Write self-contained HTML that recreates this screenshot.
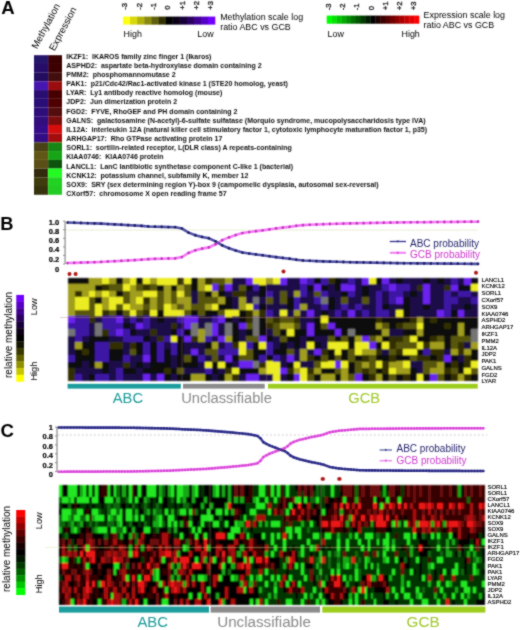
<!DOCTYPE html>
<html><head><meta charset="utf-8"><style>
html,body{margin:0;padding:0;background:#fff;}
svg{display:block;font-family:"Liberation Sans", sans-serif;}
</style></head><body>
<svg width="520" height="630" viewBox="0 0 520 630">
<defs><filter id="hb" x="-2%" y="-2%" width="104%" height="104%"><feConvolveMatrix order="3" kernelMatrix="1 2 1 2 6 2 1 2 1" divisor="18" edgeMode="none"/></filter><filter id="gb" x="0" y="0" width="100%" height="100%" filterUnits="userSpaceOnUse"><feConvolveMatrix order="3" kernelMatrix="1 2 1 2 12 2 1 2 1" divisor="24" edgeMode="none"/></filter></defs>
<rect width="520" height="630" fill="#fff"/>
<g filter="url(#gb)">
<text x="1.2" y="14.2" font-size="18.6" font-weight="bold" fill="#000">A</text>
<text x="0.2" y="230.4" font-size="18.2" font-weight="bold" fill="#000">B</text>
<text x="0.4" y="436.8" font-size="18.6" font-weight="bold" fill="#000">C</text>
<text x="37.0" y="49.6" font-size="9.7" fill="#000" transform="rotate(-62 37.0 49.6)">Methylation</text>
<text x="54.4" y="51.6" font-size="9.7" fill="#000" transform="rotate(-62 54.4 51.6)">Expression</text>
<rect x="34.00" y="55.20" width="14.10" height="8.77" fill="#28126a"/>
<rect x="48.10" y="55.20" width="13.90" height="8.77" fill="#3a0606"/>
<rect x="34.00" y="63.92" width="14.10" height="8.77" fill="#26106a"/>
<rect x="48.10" y="63.92" width="13.90" height="8.77" fill="#3e0606"/>
<rect x="34.00" y="72.64" width="14.10" height="8.77" fill="#22105e"/>
<rect x="48.10" y="72.64" width="13.90" height="8.77" fill="#420808"/>
<rect x="34.00" y="81.36" width="14.10" height="8.77" fill="#4614b0"/>
<rect x="48.10" y="81.36" width="13.90" height="8.77" fill="#9a0c0c"/>
<rect x="34.00" y="90.08" width="14.10" height="8.77" fill="#2a1072"/>
<rect x="48.10" y="90.08" width="13.90" height="8.77" fill="#460606"/>
<rect x="34.00" y="98.80" width="14.10" height="8.77" fill="#2c1076"/>
<rect x="48.10" y="98.80" width="13.90" height="8.77" fill="#500606"/>
<rect x="34.00" y="107.52" width="14.10" height="8.77" fill="#2e107a"/>
<rect x="48.10" y="107.52" width="13.90" height="8.77" fill="#520808"/>
<rect x="34.00" y="116.24" width="14.10" height="8.77" fill="#30107e"/>
<rect x="48.10" y="116.24" width="13.90" height="8.77" fill="#7c0a0a"/>
<rect x="34.00" y="124.96" width="14.10" height="8.77" fill="#34108a"/>
<rect x="48.10" y="124.96" width="13.90" height="8.77" fill="#d41010"/>
<rect x="34.00" y="133.68" width="14.10" height="8.77" fill="#320f84"/>
<rect x="48.10" y="133.68" width="13.90" height="8.77" fill="#a41010"/>
<rect x="34.00" y="142.40" width="14.10" height="8.77" fill="#4a4212"/>
<rect x="48.10" y="142.40" width="13.90" height="8.77" fill="#138513"/>
<rect x="34.00" y="151.12" width="14.10" height="8.77" fill="#605612"/>
<rect x="48.10" y="151.12" width="13.90" height="8.77" fill="#12a512"/>
<rect x="34.00" y="159.84" width="14.10" height="8.77" fill="#5a5012"/>
<rect x="48.10" y="159.84" width="13.90" height="8.77" fill="#0c520c"/>
<rect x="34.00" y="168.56" width="14.10" height="8.77" fill="#302a0a"/>
<rect x="48.10" y="168.56" width="13.90" height="8.77" fill="#22fa22"/>
<rect x="34.00" y="177.28" width="14.10" height="8.77" fill="#403a10"/>
<rect x="48.10" y="177.28" width="13.90" height="8.77" fill="#22d222"/>
<rect x="34.00" y="186.00" width="14.10" height="8.77" fill="#36300c"/>
<rect x="48.10" y="186.00" width="13.90" height="8.77" fill="#22cc22"/>
<text x="66.3" y="58.6" font-size="7.0" font-weight="bold" fill="#111">IKZF1:&#160;&#160;IKAROS family zinc finger 1 (Ikaros)</text>
<text x="66.3" y="67.76" font-size="7.0" font-weight="bold" fill="#111">ASPHD2:&#160;&#160;aspartate beta-hydroxylase domain containing 2</text>
<text x="66.3" y="76.92" font-size="7.0" font-weight="bold" fill="#111">PMM2:&#160;&#160;phosphomannomutase 2</text>
<text x="66.3" y="86.08" font-size="7.0" font-weight="bold" fill="#111">PAK1:&#160;&#160;p21/Cdc42/Rac1-activated kinase 1 (STE20 homolog, yeast)</text>
<text x="66.3" y="95.24" font-size="7.0" font-weight="bold" fill="#111">LYAR:&#160;&#160;Ly1 antibody reactive homolog (mouse)</text>
<text x="66.3" y="104.4" font-size="7.0" font-weight="bold" fill="#111">JDP2:&#160;&#160;Jun dimerization protein 2</text>
<text x="66.3" y="113.56" font-size="7.0" font-weight="bold" fill="#111">FGD2:&#160;&#160;FYVE, RhoGEF and PH domain containing 2</text>
<text x="66.3" y="122.72" font-size="7.0" font-weight="bold" fill="#111">GALNS:&#160;&#160;galactosamine (N-acetyl)-6-sulfate sulfatase (Morquio syndrome, mucopolysaccharidosis type IVA)</text>
<text x="66.3" y="131.88" font-size="7.0" font-weight="bold" fill="#111">IL12A:&#160;&#160;interleukin 12A (natural killer cell stimulatory factor 1, cytotoxic lymphocyte maturation factor 1, p35)</text>
<text x="66.3" y="141.04" font-size="7.0" font-weight="bold" fill="#111">ARHGAP17:&#160;&#160;Rho GTPase activating protein 17</text>
<text x="66.3" y="150.2" font-size="7.0" font-weight="bold" fill="#111">SORL1:&#160;&#160;sortilin-related receptor, L(DLR class) A repeats-containing</text>
<text x="66.3" y="159.36" font-size="7.0" font-weight="bold" fill="#111">KIAA0746:&#160;&#160;KIAA0746 protein</text>
<text x="66.3" y="168.52" font-size="7.0" font-weight="bold" fill="#111">LANCL1:&#160;&#160;LanC lantibiotic synthetase component C-like 1 (bacterial)</text>
<text x="66.3" y="177.68" font-size="7.0" font-weight="bold" fill="#111">KCNK12:&#160;&#160;potassium channel, subfamily K, member 12</text>
<text x="66.3" y="186.84" font-size="7.0" font-weight="bold" fill="#111">SOX9:&#160;&#160;SRY (sex determining region Y)-box 9 (campomelic dysplasia, autosomal sex-reversal)</text>
<text x="66.3" y="196.0" font-size="7.0" font-weight="bold" fill="#111">CXorf57:&#160;&#160;chromosome X open reading frame 57</text>
<rect x="123.00" y="16.60" width="7.38" height="8.00" fill="#ffff14"/>
<rect x="130.08" y="16.60" width="7.38" height="8.00" fill="#d8d811"/>
<rect x="137.15" y="16.60" width="7.38" height="8.00" fill="#b1b10e"/>
<rect x="144.23" y="16.60" width="7.38" height="8.00" fill="#89890b"/>
<rect x="151.31" y="16.60" width="7.38" height="8.00" fill="#5f5f07"/>
<rect x="158.38" y="16.60" width="7.38" height="8.00" fill="#333304"/>
<rect x="165.46" y="16.60" width="7.38" height="8.00" fill="#000000"/>
<rect x="172.54" y="16.60" width="7.38" height="8.00" fill="#090015"/>
<rect x="179.62" y="16.60" width="7.38" height="8.00" fill="#180037"/>
<rect x="186.69" y="16.60" width="7.38" height="8.00" fill="#2a0061"/>
<rect x="193.77" y="16.60" width="7.38" height="8.00" fill="#3f0091"/>
<rect x="200.85" y="16.60" width="7.38" height="8.00" fill="#5700c6"/>
<rect x="207.92" y="16.60" width="7.38" height="8.00" fill="#7000ff"/>
<rect x="326.70" y="15.60" width="5.16" height="8.10" fill="#00ff00"/>
<rect x="331.56" y="15.60" width="5.16" height="8.10" fill="#00e300"/>
<rect x="336.42" y="15.60" width="5.16" height="8.10" fill="#00c600"/>
<rect x="341.27" y="15.60" width="5.16" height="8.10" fill="#00aa00"/>
<rect x="346.13" y="15.60" width="5.16" height="8.10" fill="#008e00"/>
<rect x="350.99" y="15.60" width="5.16" height="8.10" fill="#007100"/>
<rect x="355.85" y="15.60" width="5.16" height="8.10" fill="#005500"/>
<rect x="360.71" y="15.60" width="5.16" height="8.10" fill="#003900"/>
<rect x="365.56" y="15.60" width="5.16" height="8.10" fill="#001c00"/>
<rect x="370.42" y="15.60" width="5.16" height="8.10" fill="#000000"/>
<rect x="375.28" y="15.60" width="5.16" height="8.10" fill="#1c0000"/>
<rect x="380.14" y="15.60" width="5.16" height="8.10" fill="#390000"/>
<rect x="384.99" y="15.60" width="5.16" height="8.10" fill="#550000"/>
<rect x="389.85" y="15.60" width="5.16" height="8.10" fill="#710000"/>
<rect x="394.71" y="15.60" width="5.16" height="8.10" fill="#8e0000"/>
<rect x="399.57" y="15.60" width="5.16" height="8.10" fill="#aa0000"/>
<rect x="404.43" y="15.60" width="5.16" height="8.10" fill="#c60000"/>
<rect x="409.28" y="15.60" width="5.16" height="8.10" fill="#e30000"/>
<rect x="414.14" y="15.60" width="5.16" height="8.10" fill="#ff0000"/>
<text x="127.5" y="9.8" font-size="7.7" fill="#111" transform="rotate(-90 127.5 9.8)" stroke="#111" stroke-width="0.3">-3</text>
<text x="330.8" y="10.2" font-size="7.7" fill="#111" transform="rotate(-90 330.8 10.2)" stroke="#111" stroke-width="0.3">-3</text>
<text x="141.8" y="9.8" font-size="7.7" fill="#111" transform="rotate(-90 141.8 9.8)" stroke="#111" stroke-width="0.3">-2</text>
<text x="345.05" y="10.2" font-size="7.7" fill="#111" transform="rotate(-90 345.05 10.2)" stroke="#111" stroke-width="0.3">-2</text>
<text x="156.1" y="9.8" font-size="7.7" fill="#111" transform="rotate(-90 156.1 9.8)" stroke="#111" stroke-width="0.3">-1</text>
<text x="359.3" y="10.2" font-size="7.7" fill="#111" transform="rotate(-90 359.3 10.2)" stroke="#111" stroke-width="0.3">-1</text>
<text x="170.4" y="9.8" font-size="7.7" fill="#111" transform="rotate(-90 170.4 9.8)" stroke="#111" stroke-width="0.3">0</text>
<text x="373.55" y="10.2" font-size="7.7" fill="#111" transform="rotate(-90 373.55 10.2)" stroke="#111" stroke-width="0.3">0</text>
<text x="184.7" y="9.8" font-size="7.7" fill="#111" transform="rotate(-90 184.7 9.8)" stroke="#111" stroke-width="0.3">+1</text>
<text x="387.8" y="10.2" font-size="7.7" fill="#111" transform="rotate(-90 387.8 10.2)" stroke="#111" stroke-width="0.3">+1</text>
<text x="199.0" y="9.8" font-size="7.7" fill="#111" transform="rotate(-90 199.0 9.8)" stroke="#111" stroke-width="0.3">+2</text>
<text x="402.05" y="10.2" font-size="7.7" fill="#111" transform="rotate(-90 402.05 10.2)" stroke="#111" stroke-width="0.3">+2</text>
<text x="213.3" y="9.8" font-size="7.7" fill="#111" transform="rotate(-90 213.3 9.8)" stroke="#111" stroke-width="0.3">+3</text>
<text x="416.3" y="10.2" font-size="7.7" fill="#111" transform="rotate(-90 416.3 10.2)" stroke="#111" stroke-width="0.3">+3</text>
<text x="123.6" y="37.2" font-size="8.9" fill="#000">High</text>
<text x="213.6" y="37.2" font-size="8.9" text-anchor="end" fill="#000">Low</text>
<text x="220.2" y="20.2" font-size="8.9" fill="#000">Methylation scale log</text>
<text x="220.2" y="30.4" font-size="8.9" fill="#000">ratio ABC vs GCB</text>
<text x="327.6" y="37.2" font-size="8.9" fill="#000">Low</text>
<text x="419.8" y="37.2" font-size="8.9" text-anchor="end" fill="#000">High</text>
<text x="423.6" y="17.7" font-size="8.9" fill="#000">Expression scale log</text>
<text x="423.6" y="27.6" font-size="8.9" fill="#000">ratio ABC vs GCB</text>
<line x1="65.1" y1="221.2" x2="65.1" y2="264.0" stroke="#9a9a9a" stroke-width="1.4"/>
<line x1="63.099999999999994" y1="264.00" x2="65.1" y2="264.00" stroke="#8a8a8a" stroke-width="1"/>
<line x1="63.099999999999994" y1="255.44" x2="65.1" y2="255.44" stroke="#8a8a8a" stroke-width="1"/>
<line x1="63.099999999999994" y1="246.88" x2="65.1" y2="246.88" stroke="#8a8a8a" stroke-width="1"/>
<line x1="63.099999999999994" y1="238.32" x2="65.1" y2="238.32" stroke="#8a8a8a" stroke-width="1"/>
<line x1="63.099999999999994" y1="229.76" x2="65.1" y2="229.76" stroke="#8a8a8a" stroke-width="1"/>
<line x1="63.099999999999994" y1="221.20" x2="65.1" y2="221.20" stroke="#8a8a8a" stroke-width="1"/>
<line x1="66.1" y1="230.0" x2="478" y2="230.0" stroke="#d6dcb8" stroke-width="0.9" stroke-dasharray="1.2,0.8"/>
<polyline points="67.50,263.05 74.23,262.83 80.96,262.62 87.69,262.40 94.42,262.18 101.15,261.94 107.88,261.57 114.61,261.20 121.34,260.83 128.07,260.46 134.80,260.09 141.52,259.68 148.25,259.14 154.98,258.87 161.71,258.69 168.44,258.51 175.17,258.33 181.90,257.04 188.63,252.94 195.36,250.33 202.09,248.64 208.82,247.39 215.55,244.27 222.28,240.17 229.01,237.41 235.74,235.07 242.47,233.05 249.20,232.03 255.93,231.14 262.66,230.34 269.39,229.40 276.11,228.47 282.84,227.66 289.57,226.85 296.30,225.85 303.03,225.15 309.76,224.81 316.49,224.48 323.22,224.20 329.95,224.00 336.68,223.80 343.41,223.60 350.14,223.40 356.87,223.26 363.60,223.13 370.33,222.99 377.06,222.86 383.79,222.72 390.52,222.59 397.25,222.46 403.98,222.36 410.70,222.30 417.43,222.24 424.16,222.18 430.89,222.12 437.62,222.06 444.35,222.00 451.08,221.94 457.81,221.88 464.54,221.82 471.27,221.76 478.00,221.70" fill="none" stroke="#f27af2" stroke-width="2.6"/>
<polyline points="67.50,222.55 74.23,222.77 80.96,222.98 87.69,223.20 94.42,223.42 101.15,223.66 107.88,224.03 114.61,224.40 121.34,224.77 128.07,225.14 134.80,225.51 141.52,225.92 148.25,226.46 154.98,226.73 161.71,226.91 168.44,227.09 175.17,227.27 181.90,228.56 188.63,232.66 195.36,235.27 202.09,236.96 208.82,238.21 215.55,241.33 222.28,245.43 229.01,248.19 235.74,250.53 242.47,252.55 249.20,253.57 255.93,254.46 262.66,255.26 269.39,256.20 276.11,257.13 282.84,257.94 289.57,258.75 296.30,259.75 303.03,260.45 309.76,260.79 316.49,261.12 323.22,261.40 329.95,261.60 336.68,261.80 343.41,262.00 350.14,262.20 356.87,262.34 363.60,262.47 370.33,262.61 377.06,262.74 383.79,262.88 390.52,263.01 397.25,263.14 403.98,263.24 410.70,263.30 417.43,263.36 424.16,263.42 430.89,263.48 437.62,263.54 444.35,263.60 451.08,263.66 457.81,263.72 464.54,263.78 471.27,263.84 478.00,263.90" fill="none" stroke="#5050ac" stroke-width="2.6"/>
<path d="M66.10,263.05a1.4,1.4 0 1,0 2.8,0a1.4,1.4 0 1,0 -2.8,0zM72.83,262.83a1.4,1.4 0 1,0 2.8,0a1.4,1.4 0 1,0 -2.8,0zM79.56,262.62a1.4,1.4 0 1,0 2.8,0a1.4,1.4 0 1,0 -2.8,0zM86.29,262.40a1.4,1.4 0 1,0 2.8,0a1.4,1.4 0 1,0 -2.8,0zM93.02,262.18a1.4,1.4 0 1,0 2.8,0a1.4,1.4 0 1,0 -2.8,0zM99.75,261.94a1.4,1.4 0 1,0 2.8,0a1.4,1.4 0 1,0 -2.8,0zM106.48,261.57a1.4,1.4 0 1,0 2.8,0a1.4,1.4 0 1,0 -2.8,0zM113.21,261.20a1.4,1.4 0 1,0 2.8,0a1.4,1.4 0 1,0 -2.8,0zM119.94,260.83a1.4,1.4 0 1,0 2.8,0a1.4,1.4 0 1,0 -2.8,0zM126.67,260.46a1.4,1.4 0 1,0 2.8,0a1.4,1.4 0 1,0 -2.8,0zM133.40,260.09a1.4,1.4 0 1,0 2.8,0a1.4,1.4 0 1,0 -2.8,0zM140.12,259.68a1.4,1.4 0 1,0 2.8,0a1.4,1.4 0 1,0 -2.8,0zM146.85,259.14a1.4,1.4 0 1,0 2.8,0a1.4,1.4 0 1,0 -2.8,0zM153.58,258.87a1.4,1.4 0 1,0 2.8,0a1.4,1.4 0 1,0 -2.8,0zM160.31,258.69a1.4,1.4 0 1,0 2.8,0a1.4,1.4 0 1,0 -2.8,0zM167.04,258.51a1.4,1.4 0 1,0 2.8,0a1.4,1.4 0 1,0 -2.8,0zM173.77,258.33a1.4,1.4 0 1,0 2.8,0a1.4,1.4 0 1,0 -2.8,0zM180.50,257.04a1.4,1.4 0 1,0 2.8,0a1.4,1.4 0 1,0 -2.8,0zM187.23,252.94a1.4,1.4 0 1,0 2.8,0a1.4,1.4 0 1,0 -2.8,0zM193.96,250.33a1.4,1.4 0 1,0 2.8,0a1.4,1.4 0 1,0 -2.8,0zM200.69,248.64a1.4,1.4 0 1,0 2.8,0a1.4,1.4 0 1,0 -2.8,0zM207.42,247.39a1.4,1.4 0 1,0 2.8,0a1.4,1.4 0 1,0 -2.8,0zM214.15,244.27a1.4,1.4 0 1,0 2.8,0a1.4,1.4 0 1,0 -2.8,0zM220.88,240.17a1.4,1.4 0 1,0 2.8,0a1.4,1.4 0 1,0 -2.8,0zM227.61,237.41a1.4,1.4 0 1,0 2.8,0a1.4,1.4 0 1,0 -2.8,0zM234.34,235.07a1.4,1.4 0 1,0 2.8,0a1.4,1.4 0 1,0 -2.8,0zM241.07,233.05a1.4,1.4 0 1,0 2.8,0a1.4,1.4 0 1,0 -2.8,0zM247.80,232.03a1.4,1.4 0 1,0 2.8,0a1.4,1.4 0 1,0 -2.8,0zM254.53,231.14a1.4,1.4 0 1,0 2.8,0a1.4,1.4 0 1,0 -2.8,0zM261.26,230.34a1.4,1.4 0 1,0 2.8,0a1.4,1.4 0 1,0 -2.8,0zM267.99,229.40a1.4,1.4 0 1,0 2.8,0a1.4,1.4 0 1,0 -2.8,0zM274.71,228.47a1.4,1.4 0 1,0 2.8,0a1.4,1.4 0 1,0 -2.8,0zM281.44,227.66a1.4,1.4 0 1,0 2.8,0a1.4,1.4 0 1,0 -2.8,0zM288.17,226.85a1.4,1.4 0 1,0 2.8,0a1.4,1.4 0 1,0 -2.8,0zM294.90,225.85a1.4,1.4 0 1,0 2.8,0a1.4,1.4 0 1,0 -2.8,0zM301.63,225.15a1.4,1.4 0 1,0 2.8,0a1.4,1.4 0 1,0 -2.8,0zM308.36,224.81a1.4,1.4 0 1,0 2.8,0a1.4,1.4 0 1,0 -2.8,0zM315.09,224.48a1.4,1.4 0 1,0 2.8,0a1.4,1.4 0 1,0 -2.8,0zM321.82,224.20a1.4,1.4 0 1,0 2.8,0a1.4,1.4 0 1,0 -2.8,0zM328.55,224.00a1.4,1.4 0 1,0 2.8,0a1.4,1.4 0 1,0 -2.8,0zM335.28,223.80a1.4,1.4 0 1,0 2.8,0a1.4,1.4 0 1,0 -2.8,0zM342.01,223.60a1.4,1.4 0 1,0 2.8,0a1.4,1.4 0 1,0 -2.8,0zM348.74,223.40a1.4,1.4 0 1,0 2.8,0a1.4,1.4 0 1,0 -2.8,0zM355.47,223.26a1.4,1.4 0 1,0 2.8,0a1.4,1.4 0 1,0 -2.8,0zM362.20,223.13a1.4,1.4 0 1,0 2.8,0a1.4,1.4 0 1,0 -2.8,0zM368.93,222.99a1.4,1.4 0 1,0 2.8,0a1.4,1.4 0 1,0 -2.8,0zM375.66,222.86a1.4,1.4 0 1,0 2.8,0a1.4,1.4 0 1,0 -2.8,0zM382.39,222.72a1.4,1.4 0 1,0 2.8,0a1.4,1.4 0 1,0 -2.8,0zM389.12,222.59a1.4,1.4 0 1,0 2.8,0a1.4,1.4 0 1,0 -2.8,0zM395.85,222.46a1.4,1.4 0 1,0 2.8,0a1.4,1.4 0 1,0 -2.8,0zM402.58,222.36a1.4,1.4 0 1,0 2.8,0a1.4,1.4 0 1,0 -2.8,0zM409.30,222.30a1.4,1.4 0 1,0 2.8,0a1.4,1.4 0 1,0 -2.8,0zM416.03,222.24a1.4,1.4 0 1,0 2.8,0a1.4,1.4 0 1,0 -2.8,0zM422.76,222.18a1.4,1.4 0 1,0 2.8,0a1.4,1.4 0 1,0 -2.8,0zM429.49,222.12a1.4,1.4 0 1,0 2.8,0a1.4,1.4 0 1,0 -2.8,0zM436.22,222.06a1.4,1.4 0 1,0 2.8,0a1.4,1.4 0 1,0 -2.8,0zM442.95,222.00a1.4,1.4 0 1,0 2.8,0a1.4,1.4 0 1,0 -2.8,0zM449.68,221.94a1.4,1.4 0 1,0 2.8,0a1.4,1.4 0 1,0 -2.8,0zM456.41,221.88a1.4,1.4 0 1,0 2.8,0a1.4,1.4 0 1,0 -2.8,0zM463.14,221.82a1.4,1.4 0 1,0 2.8,0a1.4,1.4 0 1,0 -2.8,0zM469.87,221.76a1.4,1.4 0 1,0 2.8,0a1.4,1.4 0 1,0 -2.8,0zM476.60,221.70a1.4,1.4 0 1,0 2.8,0a1.4,1.4 0 1,0 -2.8,0z" fill="#c828c8"/>
<path d="M66.10,222.55a1.4,1.4 0 1,0 2.8,0a1.4,1.4 0 1,0 -2.8,0zM72.83,222.77a1.4,1.4 0 1,0 2.8,0a1.4,1.4 0 1,0 -2.8,0zM79.56,222.98a1.4,1.4 0 1,0 2.8,0a1.4,1.4 0 1,0 -2.8,0zM86.29,223.20a1.4,1.4 0 1,0 2.8,0a1.4,1.4 0 1,0 -2.8,0zM93.02,223.42a1.4,1.4 0 1,0 2.8,0a1.4,1.4 0 1,0 -2.8,0zM99.75,223.66a1.4,1.4 0 1,0 2.8,0a1.4,1.4 0 1,0 -2.8,0zM106.48,224.03a1.4,1.4 0 1,0 2.8,0a1.4,1.4 0 1,0 -2.8,0zM113.21,224.40a1.4,1.4 0 1,0 2.8,0a1.4,1.4 0 1,0 -2.8,0zM119.94,224.77a1.4,1.4 0 1,0 2.8,0a1.4,1.4 0 1,0 -2.8,0zM126.67,225.14a1.4,1.4 0 1,0 2.8,0a1.4,1.4 0 1,0 -2.8,0zM133.40,225.51a1.4,1.4 0 1,0 2.8,0a1.4,1.4 0 1,0 -2.8,0zM140.12,225.92a1.4,1.4 0 1,0 2.8,0a1.4,1.4 0 1,0 -2.8,0zM146.85,226.46a1.4,1.4 0 1,0 2.8,0a1.4,1.4 0 1,0 -2.8,0zM153.58,226.73a1.4,1.4 0 1,0 2.8,0a1.4,1.4 0 1,0 -2.8,0zM160.31,226.91a1.4,1.4 0 1,0 2.8,0a1.4,1.4 0 1,0 -2.8,0zM167.04,227.09a1.4,1.4 0 1,0 2.8,0a1.4,1.4 0 1,0 -2.8,0zM173.77,227.27a1.4,1.4 0 1,0 2.8,0a1.4,1.4 0 1,0 -2.8,0zM180.50,228.56a1.4,1.4 0 1,0 2.8,0a1.4,1.4 0 1,0 -2.8,0zM187.23,232.66a1.4,1.4 0 1,0 2.8,0a1.4,1.4 0 1,0 -2.8,0zM193.96,235.27a1.4,1.4 0 1,0 2.8,0a1.4,1.4 0 1,0 -2.8,0zM200.69,236.96a1.4,1.4 0 1,0 2.8,0a1.4,1.4 0 1,0 -2.8,0zM207.42,238.21a1.4,1.4 0 1,0 2.8,0a1.4,1.4 0 1,0 -2.8,0zM214.15,241.33a1.4,1.4 0 1,0 2.8,0a1.4,1.4 0 1,0 -2.8,0zM220.88,245.43a1.4,1.4 0 1,0 2.8,0a1.4,1.4 0 1,0 -2.8,0zM227.61,248.19a1.4,1.4 0 1,0 2.8,0a1.4,1.4 0 1,0 -2.8,0zM234.34,250.53a1.4,1.4 0 1,0 2.8,0a1.4,1.4 0 1,0 -2.8,0zM241.07,252.55a1.4,1.4 0 1,0 2.8,0a1.4,1.4 0 1,0 -2.8,0zM247.80,253.57a1.4,1.4 0 1,0 2.8,0a1.4,1.4 0 1,0 -2.8,0zM254.53,254.46a1.4,1.4 0 1,0 2.8,0a1.4,1.4 0 1,0 -2.8,0zM261.26,255.26a1.4,1.4 0 1,0 2.8,0a1.4,1.4 0 1,0 -2.8,0zM267.99,256.20a1.4,1.4 0 1,0 2.8,0a1.4,1.4 0 1,0 -2.8,0zM274.71,257.13a1.4,1.4 0 1,0 2.8,0a1.4,1.4 0 1,0 -2.8,0zM281.44,257.94a1.4,1.4 0 1,0 2.8,0a1.4,1.4 0 1,0 -2.8,0zM288.17,258.75a1.4,1.4 0 1,0 2.8,0a1.4,1.4 0 1,0 -2.8,0zM294.90,259.75a1.4,1.4 0 1,0 2.8,0a1.4,1.4 0 1,0 -2.8,0zM301.63,260.45a1.4,1.4 0 1,0 2.8,0a1.4,1.4 0 1,0 -2.8,0zM308.36,260.79a1.4,1.4 0 1,0 2.8,0a1.4,1.4 0 1,0 -2.8,0zM315.09,261.12a1.4,1.4 0 1,0 2.8,0a1.4,1.4 0 1,0 -2.8,0zM321.82,261.40a1.4,1.4 0 1,0 2.8,0a1.4,1.4 0 1,0 -2.8,0zM328.55,261.60a1.4,1.4 0 1,0 2.8,0a1.4,1.4 0 1,0 -2.8,0zM335.28,261.80a1.4,1.4 0 1,0 2.8,0a1.4,1.4 0 1,0 -2.8,0zM342.01,262.00a1.4,1.4 0 1,0 2.8,0a1.4,1.4 0 1,0 -2.8,0zM348.74,262.20a1.4,1.4 0 1,0 2.8,0a1.4,1.4 0 1,0 -2.8,0zM355.47,262.34a1.4,1.4 0 1,0 2.8,0a1.4,1.4 0 1,0 -2.8,0zM362.20,262.47a1.4,1.4 0 1,0 2.8,0a1.4,1.4 0 1,0 -2.8,0zM368.93,262.61a1.4,1.4 0 1,0 2.8,0a1.4,1.4 0 1,0 -2.8,0zM375.66,262.74a1.4,1.4 0 1,0 2.8,0a1.4,1.4 0 1,0 -2.8,0zM382.39,262.88a1.4,1.4 0 1,0 2.8,0a1.4,1.4 0 1,0 -2.8,0zM389.12,263.01a1.4,1.4 0 1,0 2.8,0a1.4,1.4 0 1,0 -2.8,0zM395.85,263.14a1.4,1.4 0 1,0 2.8,0a1.4,1.4 0 1,0 -2.8,0zM402.58,263.24a1.4,1.4 0 1,0 2.8,0a1.4,1.4 0 1,0 -2.8,0zM409.30,263.30a1.4,1.4 0 1,0 2.8,0a1.4,1.4 0 1,0 -2.8,0zM416.03,263.36a1.4,1.4 0 1,0 2.8,0a1.4,1.4 0 1,0 -2.8,0zM422.76,263.42a1.4,1.4 0 1,0 2.8,0a1.4,1.4 0 1,0 -2.8,0zM429.49,263.48a1.4,1.4 0 1,0 2.8,0a1.4,1.4 0 1,0 -2.8,0zM436.22,263.54a1.4,1.4 0 1,0 2.8,0a1.4,1.4 0 1,0 -2.8,0zM442.95,263.60a1.4,1.4 0 1,0 2.8,0a1.4,1.4 0 1,0 -2.8,0zM449.68,263.66a1.4,1.4 0 1,0 2.8,0a1.4,1.4 0 1,0 -2.8,0zM456.41,263.72a1.4,1.4 0 1,0 2.8,0a1.4,1.4 0 1,0 -2.8,0zM463.14,263.78a1.4,1.4 0 1,0 2.8,0a1.4,1.4 0 1,0 -2.8,0zM469.87,263.84a1.4,1.4 0 1,0 2.8,0a1.4,1.4 0 1,0 -2.8,0zM476.60,263.90a1.4,1.4 0 1,0 2.8,0a1.4,1.4 0 1,0 -2.8,0z" fill="#1c1c58"/>
<text x="59.2" y="224.5" font-size="7.5" font-weight="bold" text-anchor="end" fill="#000" stroke="#000" stroke-width="0.2">1.0</text>
<text x="59.2" y="233.6" font-size="7.5" font-weight="bold" text-anchor="end" fill="#000" stroke="#000" stroke-width="0.2">0.8</text>
<text x="59.2" y="243.1" font-size="7.5" font-weight="bold" text-anchor="end" fill="#000" stroke="#000" stroke-width="0.2">0.6</text>
<text x="59.2" y="252.4" font-size="7.5" font-weight="bold" text-anchor="end" fill="#000" stroke="#000" stroke-width="0.2">0.4</text>
<text x="59.2" y="262.1" font-size="7.5" font-weight="bold" text-anchor="end" fill="#000" stroke="#000" stroke-width="0.2">0.2</text>
<text x="59.2" y="272.0" font-size="7.5" font-weight="bold" text-anchor="end" fill="#000" stroke="#000" stroke-width="0.2">0</text>
<line x1="389.8" y1="241.5" x2="406" y2="241.5" stroke="#2e2e8a" stroke-width="1.3"/>
<path d="M396.6,240.5h2.4l-1.2,2.2z" fill="#2e2e8a"/>
<line x1="389.8" y1="252.8" x2="406" y2="252.8" stroke="#e84ae8" stroke-width="2" opacity="0.7"/>
<path d="M396.7,251.7h2.2v2.2h-2.2z" fill="#e84ae8"/>
<text x="410.0" y="247.0" font-size="10" fill="#24246c">ABC probability</text>
<text x="410.0" y="258.2" font-size="10" fill="#cc36cc">GCB probability</text>
<circle cx="69.5" cy="274.1" r="2.0" fill="#b01818"/>
<circle cx="75.6" cy="274.1" r="2.0" fill="#b01818"/>
<circle cx="283.5" cy="271.6" r="2.0" fill="#b01818"/>
<circle cx="476.0" cy="272.7" r="2.0" fill="#b01818"/>
<line x1="57.0" y1="427.1" x2="57.0" y2="471.6" stroke="#9a9a9a" stroke-width="1.4"/>
<line x1="55.0" y1="471.60" x2="57.0" y2="471.60" stroke="#8a8a8a" stroke-width="1"/>
<line x1="55.0" y1="462.70" x2="57.0" y2="462.70" stroke="#8a8a8a" stroke-width="1"/>
<line x1="55.0" y1="453.80" x2="57.0" y2="453.80" stroke="#8a8a8a" stroke-width="1"/>
<line x1="55.0" y1="444.90" x2="57.0" y2="444.90" stroke="#8a8a8a" stroke-width="1"/>
<line x1="55.0" y1="436.00" x2="57.0" y2="436.00" stroke="#8a8a8a" stroke-width="1"/>
<line x1="55.0" y1="427.10" x2="57.0" y2="427.10" stroke="#8a8a8a" stroke-width="1"/>
<line x1="58.0" y1="435.0" x2="487" y2="435.0" stroke="#c8b8c8" stroke-width="0.9" stroke-dasharray="1.6,2.4"/>
<polyline points="58.50,471.70 61.51,471.69 64.53,471.68 67.54,471.67 70.56,471.66 73.57,471.65 76.59,471.65 79.60,471.64 82.61,471.63 85.63,471.62 88.64,471.61 91.66,471.61 94.67,471.60 97.68,471.59 100.70,471.58 103.71,471.57 106.73,471.56 109.74,471.56 112.76,471.55 115.77,471.54 118.78,471.53 121.80,471.52 124.81,471.51 127.83,471.51 130.84,471.48 133.85,471.42 136.87,471.36 139.88,471.29 142.90,471.23 145.91,471.17 148.93,471.10 151.94,471.04 154.95,470.97 157.97,470.91 160.98,470.85 164.00,470.78 167.01,470.72 170.02,470.60 173.04,470.45 176.05,470.31 179.07,470.16 182.08,470.01 185.10,469.87 188.11,469.72 191.12,469.57 194.14,469.43 197.15,469.28 200.17,469.13 203.18,468.99 206.20,468.84 209.21,468.62 212.22,468.37 215.24,468.12 218.25,467.87 221.27,467.62 224.28,467.37 227.29,467.12 230.31,466.87 233.32,466.57 236.34,466.27 239.35,465.96 242.37,465.66 245.38,465.36 248.39,465.06 251.41,464.52 254.42,463.92 257.44,463.31 260.45,460.90 263.46,456.95 266.48,455.30 269.49,453.80 272.51,452.60 275.52,451.39 278.54,450.22 281.55,449.20 284.56,448.18 287.58,446.27 290.59,443.53 293.61,441.94 296.62,440.86 299.63,439.85 302.65,439.15 305.66,438.45 308.68,437.74 311.69,437.06 314.71,436.46 317.72,435.86 320.73,435.25 323.75,434.39 326.76,433.33 329.78,432.28 332.79,431.75 335.80,431.27 338.82,430.79 341.83,430.44 344.85,430.19 347.86,429.93 350.88,429.68 353.89,429.42 356.90,429.16 359.92,428.91 362.93,428.88 365.95,428.85 368.96,428.83 371.98,428.80 374.99,428.78 378.00,428.75 381.02,428.72 384.03,428.70 387.05,428.67 390.06,428.65 393.07,428.62 396.09,428.60 399.10,428.57 402.12,428.55 405.13,428.52 408.15,428.50 411.16,428.47 414.17,428.45 417.19,428.42 420.20,428.40 423.22,428.39 426.23,428.38 429.24,428.37 432.26,428.36 435.27,428.35 438.29,428.34 441.30,428.33 444.32,428.32 447.33,428.31 450.34,428.31 453.36,428.30 456.37,428.29 459.39,428.28 462.40,428.27 465.41,428.26 468.43,428.25 471.44,428.24 474.46,428.23 477.47,428.22 480.49,428.21 483.50,428.20" fill="none" stroke="#ee66ee" stroke-width="2.6"/>
<polyline points="58.50,427.50 61.51,427.51 64.53,427.52 67.54,427.53 70.56,427.54 73.57,427.55 76.59,427.55 79.60,427.56 82.61,427.57 85.63,427.58 88.64,427.59 91.66,427.59 94.67,427.60 97.68,427.61 100.70,427.62 103.71,427.63 106.73,427.64 109.74,427.64 112.76,427.65 115.77,427.66 118.78,427.67 121.80,427.68 124.81,427.69 127.83,427.69 130.84,427.72 133.85,427.78 136.87,427.84 139.88,427.91 142.90,427.97 145.91,428.03 148.93,428.10 151.94,428.16 154.95,428.23 157.97,428.29 160.98,428.35 164.00,428.42 167.01,428.48 170.02,428.60 173.04,428.75 176.05,428.89 179.07,429.04 182.08,429.19 185.10,429.33 188.11,429.48 191.12,429.63 194.14,429.77 197.15,429.92 200.17,430.07 203.18,430.21 206.20,430.36 209.21,430.58 212.22,430.83 215.24,431.08 218.25,431.33 221.27,431.58 224.28,431.83 227.29,432.08 230.31,432.33 233.32,432.63 236.34,432.93 239.35,433.24 242.37,433.54 245.38,433.84 248.39,434.14 251.41,434.68 254.42,435.28 257.44,435.89 260.45,438.30 263.46,442.25 266.48,443.90 269.49,445.40 272.51,446.60 275.52,447.81 278.54,448.98 281.55,450.00 284.56,451.02 287.58,452.93 290.59,455.67 293.61,457.26 296.62,458.34 299.63,459.35 302.65,460.05 305.66,460.75 308.68,461.46 311.69,462.14 314.71,462.74 317.72,463.34 320.73,463.95 323.75,464.81 326.76,465.87 329.78,466.92 332.79,467.45 335.80,467.93 338.82,468.41 341.83,468.76 344.85,469.01 347.86,469.27 350.88,469.52 353.89,469.78 356.90,470.04 359.92,470.29 362.93,470.32 365.95,470.35 368.96,470.37 371.98,470.40 374.99,470.42 378.00,470.45 381.02,470.48 384.03,470.50 387.05,470.53 390.06,470.55 393.07,470.58 396.09,470.60 399.10,470.63 402.12,470.65 405.13,470.68 408.15,470.70 411.16,470.73 414.17,470.75 417.19,470.78 420.20,470.80 423.22,470.81 426.23,470.82 429.24,470.83 432.26,470.84 435.27,470.85 438.29,470.86 441.30,470.87 444.32,470.88 447.33,470.89 450.34,470.89 453.36,470.90 456.37,470.91 459.39,470.92 462.40,470.93 465.41,470.94 468.43,470.95 471.44,470.96 474.46,470.97 477.47,470.98 480.49,470.99 483.50,471.00" fill="none" stroke="#3c3ca2" stroke-width="2.6"/>
<path d="M57.30,471.70a1.2,1.2 0 1,0 2.4,0a1.2,1.2 0 1,0 -2.4,0zM60.31,471.69a1.2,1.2 0 1,0 2.4,0a1.2,1.2 0 1,0 -2.4,0zM63.33,471.68a1.2,1.2 0 1,0 2.4,0a1.2,1.2 0 1,0 -2.4,0zM66.34,471.67a1.2,1.2 0 1,0 2.4,0a1.2,1.2 0 1,0 -2.4,0zM69.36,471.66a1.2,1.2 0 1,0 2.4,0a1.2,1.2 0 1,0 -2.4,0zM72.37,471.65a1.2,1.2 0 1,0 2.4,0a1.2,1.2 0 1,0 -2.4,0zM75.39,471.65a1.2,1.2 0 1,0 2.4,0a1.2,1.2 0 1,0 -2.4,0zM78.40,471.64a1.2,1.2 0 1,0 2.4,0a1.2,1.2 0 1,0 -2.4,0zM81.41,471.63a1.2,1.2 0 1,0 2.4,0a1.2,1.2 0 1,0 -2.4,0zM84.43,471.62a1.2,1.2 0 1,0 2.4,0a1.2,1.2 0 1,0 -2.4,0zM87.44,471.61a1.2,1.2 0 1,0 2.4,0a1.2,1.2 0 1,0 -2.4,0zM90.46,471.61a1.2,1.2 0 1,0 2.4,0a1.2,1.2 0 1,0 -2.4,0zM93.47,471.60a1.2,1.2 0 1,0 2.4,0a1.2,1.2 0 1,0 -2.4,0zM96.48,471.59a1.2,1.2 0 1,0 2.4,0a1.2,1.2 0 1,0 -2.4,0zM99.50,471.58a1.2,1.2 0 1,0 2.4,0a1.2,1.2 0 1,0 -2.4,0zM102.51,471.57a1.2,1.2 0 1,0 2.4,0a1.2,1.2 0 1,0 -2.4,0zM105.53,471.56a1.2,1.2 0 1,0 2.4,0a1.2,1.2 0 1,0 -2.4,0zM108.54,471.56a1.2,1.2 0 1,0 2.4,0a1.2,1.2 0 1,0 -2.4,0zM111.56,471.55a1.2,1.2 0 1,0 2.4,0a1.2,1.2 0 1,0 -2.4,0zM114.57,471.54a1.2,1.2 0 1,0 2.4,0a1.2,1.2 0 1,0 -2.4,0zM117.58,471.53a1.2,1.2 0 1,0 2.4,0a1.2,1.2 0 1,0 -2.4,0zM120.60,471.52a1.2,1.2 0 1,0 2.4,0a1.2,1.2 0 1,0 -2.4,0zM123.61,471.51a1.2,1.2 0 1,0 2.4,0a1.2,1.2 0 1,0 -2.4,0zM126.63,471.51a1.2,1.2 0 1,0 2.4,0a1.2,1.2 0 1,0 -2.4,0zM129.64,471.48a1.2,1.2 0 1,0 2.4,0a1.2,1.2 0 1,0 -2.4,0zM132.65,471.42a1.2,1.2 0 1,0 2.4,0a1.2,1.2 0 1,0 -2.4,0zM135.67,471.36a1.2,1.2 0 1,0 2.4,0a1.2,1.2 0 1,0 -2.4,0zM138.68,471.29a1.2,1.2 0 1,0 2.4,0a1.2,1.2 0 1,0 -2.4,0zM141.70,471.23a1.2,1.2 0 1,0 2.4,0a1.2,1.2 0 1,0 -2.4,0zM144.71,471.17a1.2,1.2 0 1,0 2.4,0a1.2,1.2 0 1,0 -2.4,0zM147.73,471.10a1.2,1.2 0 1,0 2.4,0a1.2,1.2 0 1,0 -2.4,0zM150.74,471.04a1.2,1.2 0 1,0 2.4,0a1.2,1.2 0 1,0 -2.4,0zM153.75,470.97a1.2,1.2 0 1,0 2.4,0a1.2,1.2 0 1,0 -2.4,0zM156.77,470.91a1.2,1.2 0 1,0 2.4,0a1.2,1.2 0 1,0 -2.4,0zM159.78,470.85a1.2,1.2 0 1,0 2.4,0a1.2,1.2 0 1,0 -2.4,0zM162.80,470.78a1.2,1.2 0 1,0 2.4,0a1.2,1.2 0 1,0 -2.4,0zM165.81,470.72a1.2,1.2 0 1,0 2.4,0a1.2,1.2 0 1,0 -2.4,0zM168.82,470.60a1.2,1.2 0 1,0 2.4,0a1.2,1.2 0 1,0 -2.4,0zM171.84,470.45a1.2,1.2 0 1,0 2.4,0a1.2,1.2 0 1,0 -2.4,0zM174.85,470.31a1.2,1.2 0 1,0 2.4,0a1.2,1.2 0 1,0 -2.4,0zM177.87,470.16a1.2,1.2 0 1,0 2.4,0a1.2,1.2 0 1,0 -2.4,0zM180.88,470.01a1.2,1.2 0 1,0 2.4,0a1.2,1.2 0 1,0 -2.4,0zM183.90,469.87a1.2,1.2 0 1,0 2.4,0a1.2,1.2 0 1,0 -2.4,0zM186.91,469.72a1.2,1.2 0 1,0 2.4,0a1.2,1.2 0 1,0 -2.4,0zM189.92,469.57a1.2,1.2 0 1,0 2.4,0a1.2,1.2 0 1,0 -2.4,0zM192.94,469.43a1.2,1.2 0 1,0 2.4,0a1.2,1.2 0 1,0 -2.4,0zM195.95,469.28a1.2,1.2 0 1,0 2.4,0a1.2,1.2 0 1,0 -2.4,0zM198.97,469.13a1.2,1.2 0 1,0 2.4,0a1.2,1.2 0 1,0 -2.4,0zM201.98,468.99a1.2,1.2 0 1,0 2.4,0a1.2,1.2 0 1,0 -2.4,0zM205.00,468.84a1.2,1.2 0 1,0 2.4,0a1.2,1.2 0 1,0 -2.4,0zM208.01,468.62a1.2,1.2 0 1,0 2.4,0a1.2,1.2 0 1,0 -2.4,0zM211.02,468.37a1.2,1.2 0 1,0 2.4,0a1.2,1.2 0 1,0 -2.4,0zM214.04,468.12a1.2,1.2 0 1,0 2.4,0a1.2,1.2 0 1,0 -2.4,0zM217.05,467.87a1.2,1.2 0 1,0 2.4,0a1.2,1.2 0 1,0 -2.4,0zM220.07,467.62a1.2,1.2 0 1,0 2.4,0a1.2,1.2 0 1,0 -2.4,0zM223.08,467.37a1.2,1.2 0 1,0 2.4,0a1.2,1.2 0 1,0 -2.4,0zM226.09,467.12a1.2,1.2 0 1,0 2.4,0a1.2,1.2 0 1,0 -2.4,0zM229.11,466.87a1.2,1.2 0 1,0 2.4,0a1.2,1.2 0 1,0 -2.4,0zM232.12,466.57a1.2,1.2 0 1,0 2.4,0a1.2,1.2 0 1,0 -2.4,0zM235.14,466.27a1.2,1.2 0 1,0 2.4,0a1.2,1.2 0 1,0 -2.4,0zM238.15,465.96a1.2,1.2 0 1,0 2.4,0a1.2,1.2 0 1,0 -2.4,0zM241.17,465.66a1.2,1.2 0 1,0 2.4,0a1.2,1.2 0 1,0 -2.4,0zM244.18,465.36a1.2,1.2 0 1,0 2.4,0a1.2,1.2 0 1,0 -2.4,0zM247.19,465.06a1.2,1.2 0 1,0 2.4,0a1.2,1.2 0 1,0 -2.4,0zM250.21,464.52a1.2,1.2 0 1,0 2.4,0a1.2,1.2 0 1,0 -2.4,0zM253.22,463.92a1.2,1.2 0 1,0 2.4,0a1.2,1.2 0 1,0 -2.4,0zM256.24,463.31a1.2,1.2 0 1,0 2.4,0a1.2,1.2 0 1,0 -2.4,0zM259.25,460.90a1.2,1.2 0 1,0 2.4,0a1.2,1.2 0 1,0 -2.4,0zM262.26,456.95a1.2,1.2 0 1,0 2.4,0a1.2,1.2 0 1,0 -2.4,0zM265.28,455.30a1.2,1.2 0 1,0 2.4,0a1.2,1.2 0 1,0 -2.4,0zM268.29,453.80a1.2,1.2 0 1,0 2.4,0a1.2,1.2 0 1,0 -2.4,0zM271.31,452.60a1.2,1.2 0 1,0 2.4,0a1.2,1.2 0 1,0 -2.4,0zM274.32,451.39a1.2,1.2 0 1,0 2.4,0a1.2,1.2 0 1,0 -2.4,0zM277.34,450.22a1.2,1.2 0 1,0 2.4,0a1.2,1.2 0 1,0 -2.4,0zM280.35,449.20a1.2,1.2 0 1,0 2.4,0a1.2,1.2 0 1,0 -2.4,0zM283.36,448.18a1.2,1.2 0 1,0 2.4,0a1.2,1.2 0 1,0 -2.4,0zM286.38,446.27a1.2,1.2 0 1,0 2.4,0a1.2,1.2 0 1,0 -2.4,0zM289.39,443.53a1.2,1.2 0 1,0 2.4,0a1.2,1.2 0 1,0 -2.4,0zM292.41,441.94a1.2,1.2 0 1,0 2.4,0a1.2,1.2 0 1,0 -2.4,0zM295.42,440.86a1.2,1.2 0 1,0 2.4,0a1.2,1.2 0 1,0 -2.4,0zM298.43,439.85a1.2,1.2 0 1,0 2.4,0a1.2,1.2 0 1,0 -2.4,0zM301.45,439.15a1.2,1.2 0 1,0 2.4,0a1.2,1.2 0 1,0 -2.4,0zM304.46,438.45a1.2,1.2 0 1,0 2.4,0a1.2,1.2 0 1,0 -2.4,0zM307.48,437.74a1.2,1.2 0 1,0 2.4,0a1.2,1.2 0 1,0 -2.4,0zM310.49,437.06a1.2,1.2 0 1,0 2.4,0a1.2,1.2 0 1,0 -2.4,0zM313.51,436.46a1.2,1.2 0 1,0 2.4,0a1.2,1.2 0 1,0 -2.4,0zM316.52,435.86a1.2,1.2 0 1,0 2.4,0a1.2,1.2 0 1,0 -2.4,0zM319.53,435.25a1.2,1.2 0 1,0 2.4,0a1.2,1.2 0 1,0 -2.4,0zM322.55,434.39a1.2,1.2 0 1,0 2.4,0a1.2,1.2 0 1,0 -2.4,0zM325.56,433.33a1.2,1.2 0 1,0 2.4,0a1.2,1.2 0 1,0 -2.4,0zM328.58,432.28a1.2,1.2 0 1,0 2.4,0a1.2,1.2 0 1,0 -2.4,0zM331.59,431.75a1.2,1.2 0 1,0 2.4,0a1.2,1.2 0 1,0 -2.4,0zM334.60,431.27a1.2,1.2 0 1,0 2.4,0a1.2,1.2 0 1,0 -2.4,0zM337.62,430.79a1.2,1.2 0 1,0 2.4,0a1.2,1.2 0 1,0 -2.4,0zM340.63,430.44a1.2,1.2 0 1,0 2.4,0a1.2,1.2 0 1,0 -2.4,0zM343.65,430.19a1.2,1.2 0 1,0 2.4,0a1.2,1.2 0 1,0 -2.4,0zM346.66,429.93a1.2,1.2 0 1,0 2.4,0a1.2,1.2 0 1,0 -2.4,0zM349.68,429.68a1.2,1.2 0 1,0 2.4,0a1.2,1.2 0 1,0 -2.4,0zM352.69,429.42a1.2,1.2 0 1,0 2.4,0a1.2,1.2 0 1,0 -2.4,0zM355.70,429.16a1.2,1.2 0 1,0 2.4,0a1.2,1.2 0 1,0 -2.4,0zM358.72,428.91a1.2,1.2 0 1,0 2.4,0a1.2,1.2 0 1,0 -2.4,0zM361.73,428.88a1.2,1.2 0 1,0 2.4,0a1.2,1.2 0 1,0 -2.4,0zM364.75,428.85a1.2,1.2 0 1,0 2.4,0a1.2,1.2 0 1,0 -2.4,0zM367.76,428.83a1.2,1.2 0 1,0 2.4,0a1.2,1.2 0 1,0 -2.4,0zM370.78,428.80a1.2,1.2 0 1,0 2.4,0a1.2,1.2 0 1,0 -2.4,0zM373.79,428.78a1.2,1.2 0 1,0 2.4,0a1.2,1.2 0 1,0 -2.4,0zM376.80,428.75a1.2,1.2 0 1,0 2.4,0a1.2,1.2 0 1,0 -2.4,0zM379.82,428.72a1.2,1.2 0 1,0 2.4,0a1.2,1.2 0 1,0 -2.4,0zM382.83,428.70a1.2,1.2 0 1,0 2.4,0a1.2,1.2 0 1,0 -2.4,0zM385.85,428.67a1.2,1.2 0 1,0 2.4,0a1.2,1.2 0 1,0 -2.4,0zM388.86,428.65a1.2,1.2 0 1,0 2.4,0a1.2,1.2 0 1,0 -2.4,0zM391.87,428.62a1.2,1.2 0 1,0 2.4,0a1.2,1.2 0 1,0 -2.4,0zM394.89,428.60a1.2,1.2 0 1,0 2.4,0a1.2,1.2 0 1,0 -2.4,0zM397.90,428.57a1.2,1.2 0 1,0 2.4,0a1.2,1.2 0 1,0 -2.4,0zM400.92,428.55a1.2,1.2 0 1,0 2.4,0a1.2,1.2 0 1,0 -2.4,0zM403.93,428.52a1.2,1.2 0 1,0 2.4,0a1.2,1.2 0 1,0 -2.4,0zM406.95,428.50a1.2,1.2 0 1,0 2.4,0a1.2,1.2 0 1,0 -2.4,0zM409.96,428.47a1.2,1.2 0 1,0 2.4,0a1.2,1.2 0 1,0 -2.4,0zM412.97,428.45a1.2,1.2 0 1,0 2.4,0a1.2,1.2 0 1,0 -2.4,0zM415.99,428.42a1.2,1.2 0 1,0 2.4,0a1.2,1.2 0 1,0 -2.4,0zM419.00,428.40a1.2,1.2 0 1,0 2.4,0a1.2,1.2 0 1,0 -2.4,0zM422.02,428.39a1.2,1.2 0 1,0 2.4,0a1.2,1.2 0 1,0 -2.4,0zM425.03,428.38a1.2,1.2 0 1,0 2.4,0a1.2,1.2 0 1,0 -2.4,0zM428.04,428.37a1.2,1.2 0 1,0 2.4,0a1.2,1.2 0 1,0 -2.4,0zM431.06,428.36a1.2,1.2 0 1,0 2.4,0a1.2,1.2 0 1,0 -2.4,0zM434.07,428.35a1.2,1.2 0 1,0 2.4,0a1.2,1.2 0 1,0 -2.4,0zM437.09,428.34a1.2,1.2 0 1,0 2.4,0a1.2,1.2 0 1,0 -2.4,0zM440.10,428.33a1.2,1.2 0 1,0 2.4,0a1.2,1.2 0 1,0 -2.4,0zM443.12,428.32a1.2,1.2 0 1,0 2.4,0a1.2,1.2 0 1,0 -2.4,0zM446.13,428.31a1.2,1.2 0 1,0 2.4,0a1.2,1.2 0 1,0 -2.4,0zM449.14,428.31a1.2,1.2 0 1,0 2.4,0a1.2,1.2 0 1,0 -2.4,0zM452.16,428.30a1.2,1.2 0 1,0 2.4,0a1.2,1.2 0 1,0 -2.4,0zM455.17,428.29a1.2,1.2 0 1,0 2.4,0a1.2,1.2 0 1,0 -2.4,0zM458.19,428.28a1.2,1.2 0 1,0 2.4,0a1.2,1.2 0 1,0 -2.4,0zM461.20,428.27a1.2,1.2 0 1,0 2.4,0a1.2,1.2 0 1,0 -2.4,0zM464.21,428.26a1.2,1.2 0 1,0 2.4,0a1.2,1.2 0 1,0 -2.4,0zM467.23,428.25a1.2,1.2 0 1,0 2.4,0a1.2,1.2 0 1,0 -2.4,0zM470.24,428.24a1.2,1.2 0 1,0 2.4,0a1.2,1.2 0 1,0 -2.4,0zM473.26,428.23a1.2,1.2 0 1,0 2.4,0a1.2,1.2 0 1,0 -2.4,0zM476.27,428.22a1.2,1.2 0 1,0 2.4,0a1.2,1.2 0 1,0 -2.4,0zM479.29,428.21a1.2,1.2 0 1,0 2.4,0a1.2,1.2 0 1,0 -2.4,0zM482.30,428.20a1.2,1.2 0 1,0 2.4,0a1.2,1.2 0 1,0 -2.4,0z" fill="#d040d0"/>
<path d="M57.30,427.50a1.2,1.2 0 1,0 2.4,0a1.2,1.2 0 1,0 -2.4,0zM60.31,427.51a1.2,1.2 0 1,0 2.4,0a1.2,1.2 0 1,0 -2.4,0zM63.33,427.52a1.2,1.2 0 1,0 2.4,0a1.2,1.2 0 1,0 -2.4,0zM66.34,427.53a1.2,1.2 0 1,0 2.4,0a1.2,1.2 0 1,0 -2.4,0zM69.36,427.54a1.2,1.2 0 1,0 2.4,0a1.2,1.2 0 1,0 -2.4,0zM72.37,427.55a1.2,1.2 0 1,0 2.4,0a1.2,1.2 0 1,0 -2.4,0zM75.39,427.55a1.2,1.2 0 1,0 2.4,0a1.2,1.2 0 1,0 -2.4,0zM78.40,427.56a1.2,1.2 0 1,0 2.4,0a1.2,1.2 0 1,0 -2.4,0zM81.41,427.57a1.2,1.2 0 1,0 2.4,0a1.2,1.2 0 1,0 -2.4,0zM84.43,427.58a1.2,1.2 0 1,0 2.4,0a1.2,1.2 0 1,0 -2.4,0zM87.44,427.59a1.2,1.2 0 1,0 2.4,0a1.2,1.2 0 1,0 -2.4,0zM90.46,427.59a1.2,1.2 0 1,0 2.4,0a1.2,1.2 0 1,0 -2.4,0zM93.47,427.60a1.2,1.2 0 1,0 2.4,0a1.2,1.2 0 1,0 -2.4,0zM96.48,427.61a1.2,1.2 0 1,0 2.4,0a1.2,1.2 0 1,0 -2.4,0zM99.50,427.62a1.2,1.2 0 1,0 2.4,0a1.2,1.2 0 1,0 -2.4,0zM102.51,427.63a1.2,1.2 0 1,0 2.4,0a1.2,1.2 0 1,0 -2.4,0zM105.53,427.64a1.2,1.2 0 1,0 2.4,0a1.2,1.2 0 1,0 -2.4,0zM108.54,427.64a1.2,1.2 0 1,0 2.4,0a1.2,1.2 0 1,0 -2.4,0zM111.56,427.65a1.2,1.2 0 1,0 2.4,0a1.2,1.2 0 1,0 -2.4,0zM114.57,427.66a1.2,1.2 0 1,0 2.4,0a1.2,1.2 0 1,0 -2.4,0zM117.58,427.67a1.2,1.2 0 1,0 2.4,0a1.2,1.2 0 1,0 -2.4,0zM120.60,427.68a1.2,1.2 0 1,0 2.4,0a1.2,1.2 0 1,0 -2.4,0zM123.61,427.69a1.2,1.2 0 1,0 2.4,0a1.2,1.2 0 1,0 -2.4,0zM126.63,427.69a1.2,1.2 0 1,0 2.4,0a1.2,1.2 0 1,0 -2.4,0zM129.64,427.72a1.2,1.2 0 1,0 2.4,0a1.2,1.2 0 1,0 -2.4,0zM132.65,427.78a1.2,1.2 0 1,0 2.4,0a1.2,1.2 0 1,0 -2.4,0zM135.67,427.84a1.2,1.2 0 1,0 2.4,0a1.2,1.2 0 1,0 -2.4,0zM138.68,427.91a1.2,1.2 0 1,0 2.4,0a1.2,1.2 0 1,0 -2.4,0zM141.70,427.97a1.2,1.2 0 1,0 2.4,0a1.2,1.2 0 1,0 -2.4,0zM144.71,428.03a1.2,1.2 0 1,0 2.4,0a1.2,1.2 0 1,0 -2.4,0zM147.73,428.10a1.2,1.2 0 1,0 2.4,0a1.2,1.2 0 1,0 -2.4,0zM150.74,428.16a1.2,1.2 0 1,0 2.4,0a1.2,1.2 0 1,0 -2.4,0zM153.75,428.23a1.2,1.2 0 1,0 2.4,0a1.2,1.2 0 1,0 -2.4,0zM156.77,428.29a1.2,1.2 0 1,0 2.4,0a1.2,1.2 0 1,0 -2.4,0zM159.78,428.35a1.2,1.2 0 1,0 2.4,0a1.2,1.2 0 1,0 -2.4,0zM162.80,428.42a1.2,1.2 0 1,0 2.4,0a1.2,1.2 0 1,0 -2.4,0zM165.81,428.48a1.2,1.2 0 1,0 2.4,0a1.2,1.2 0 1,0 -2.4,0zM168.82,428.60a1.2,1.2 0 1,0 2.4,0a1.2,1.2 0 1,0 -2.4,0zM171.84,428.75a1.2,1.2 0 1,0 2.4,0a1.2,1.2 0 1,0 -2.4,0zM174.85,428.89a1.2,1.2 0 1,0 2.4,0a1.2,1.2 0 1,0 -2.4,0zM177.87,429.04a1.2,1.2 0 1,0 2.4,0a1.2,1.2 0 1,0 -2.4,0zM180.88,429.19a1.2,1.2 0 1,0 2.4,0a1.2,1.2 0 1,0 -2.4,0zM183.90,429.33a1.2,1.2 0 1,0 2.4,0a1.2,1.2 0 1,0 -2.4,0zM186.91,429.48a1.2,1.2 0 1,0 2.4,0a1.2,1.2 0 1,0 -2.4,0zM189.92,429.63a1.2,1.2 0 1,0 2.4,0a1.2,1.2 0 1,0 -2.4,0zM192.94,429.77a1.2,1.2 0 1,0 2.4,0a1.2,1.2 0 1,0 -2.4,0zM195.95,429.92a1.2,1.2 0 1,0 2.4,0a1.2,1.2 0 1,0 -2.4,0zM198.97,430.07a1.2,1.2 0 1,0 2.4,0a1.2,1.2 0 1,0 -2.4,0zM201.98,430.21a1.2,1.2 0 1,0 2.4,0a1.2,1.2 0 1,0 -2.4,0zM205.00,430.36a1.2,1.2 0 1,0 2.4,0a1.2,1.2 0 1,0 -2.4,0zM208.01,430.58a1.2,1.2 0 1,0 2.4,0a1.2,1.2 0 1,0 -2.4,0zM211.02,430.83a1.2,1.2 0 1,0 2.4,0a1.2,1.2 0 1,0 -2.4,0zM214.04,431.08a1.2,1.2 0 1,0 2.4,0a1.2,1.2 0 1,0 -2.4,0zM217.05,431.33a1.2,1.2 0 1,0 2.4,0a1.2,1.2 0 1,0 -2.4,0zM220.07,431.58a1.2,1.2 0 1,0 2.4,0a1.2,1.2 0 1,0 -2.4,0zM223.08,431.83a1.2,1.2 0 1,0 2.4,0a1.2,1.2 0 1,0 -2.4,0zM226.09,432.08a1.2,1.2 0 1,0 2.4,0a1.2,1.2 0 1,0 -2.4,0zM229.11,432.33a1.2,1.2 0 1,0 2.4,0a1.2,1.2 0 1,0 -2.4,0zM232.12,432.63a1.2,1.2 0 1,0 2.4,0a1.2,1.2 0 1,0 -2.4,0zM235.14,432.93a1.2,1.2 0 1,0 2.4,0a1.2,1.2 0 1,0 -2.4,0zM238.15,433.24a1.2,1.2 0 1,0 2.4,0a1.2,1.2 0 1,0 -2.4,0zM241.17,433.54a1.2,1.2 0 1,0 2.4,0a1.2,1.2 0 1,0 -2.4,0zM244.18,433.84a1.2,1.2 0 1,0 2.4,0a1.2,1.2 0 1,0 -2.4,0zM247.19,434.14a1.2,1.2 0 1,0 2.4,0a1.2,1.2 0 1,0 -2.4,0zM250.21,434.68a1.2,1.2 0 1,0 2.4,0a1.2,1.2 0 1,0 -2.4,0zM253.22,435.28a1.2,1.2 0 1,0 2.4,0a1.2,1.2 0 1,0 -2.4,0zM256.24,435.89a1.2,1.2 0 1,0 2.4,0a1.2,1.2 0 1,0 -2.4,0zM259.25,438.30a1.2,1.2 0 1,0 2.4,0a1.2,1.2 0 1,0 -2.4,0zM262.26,442.25a1.2,1.2 0 1,0 2.4,0a1.2,1.2 0 1,0 -2.4,0zM265.28,443.90a1.2,1.2 0 1,0 2.4,0a1.2,1.2 0 1,0 -2.4,0zM268.29,445.40a1.2,1.2 0 1,0 2.4,0a1.2,1.2 0 1,0 -2.4,0zM271.31,446.60a1.2,1.2 0 1,0 2.4,0a1.2,1.2 0 1,0 -2.4,0zM274.32,447.81a1.2,1.2 0 1,0 2.4,0a1.2,1.2 0 1,0 -2.4,0zM277.34,448.98a1.2,1.2 0 1,0 2.4,0a1.2,1.2 0 1,0 -2.4,0zM280.35,450.00a1.2,1.2 0 1,0 2.4,0a1.2,1.2 0 1,0 -2.4,0zM283.36,451.02a1.2,1.2 0 1,0 2.4,0a1.2,1.2 0 1,0 -2.4,0zM286.38,452.93a1.2,1.2 0 1,0 2.4,0a1.2,1.2 0 1,0 -2.4,0zM289.39,455.67a1.2,1.2 0 1,0 2.4,0a1.2,1.2 0 1,0 -2.4,0zM292.41,457.26a1.2,1.2 0 1,0 2.4,0a1.2,1.2 0 1,0 -2.4,0zM295.42,458.34a1.2,1.2 0 1,0 2.4,0a1.2,1.2 0 1,0 -2.4,0zM298.43,459.35a1.2,1.2 0 1,0 2.4,0a1.2,1.2 0 1,0 -2.4,0zM301.45,460.05a1.2,1.2 0 1,0 2.4,0a1.2,1.2 0 1,0 -2.4,0zM304.46,460.75a1.2,1.2 0 1,0 2.4,0a1.2,1.2 0 1,0 -2.4,0zM307.48,461.46a1.2,1.2 0 1,0 2.4,0a1.2,1.2 0 1,0 -2.4,0zM310.49,462.14a1.2,1.2 0 1,0 2.4,0a1.2,1.2 0 1,0 -2.4,0zM313.51,462.74a1.2,1.2 0 1,0 2.4,0a1.2,1.2 0 1,0 -2.4,0zM316.52,463.34a1.2,1.2 0 1,0 2.4,0a1.2,1.2 0 1,0 -2.4,0zM319.53,463.95a1.2,1.2 0 1,0 2.4,0a1.2,1.2 0 1,0 -2.4,0zM322.55,464.81a1.2,1.2 0 1,0 2.4,0a1.2,1.2 0 1,0 -2.4,0zM325.56,465.87a1.2,1.2 0 1,0 2.4,0a1.2,1.2 0 1,0 -2.4,0zM328.58,466.92a1.2,1.2 0 1,0 2.4,0a1.2,1.2 0 1,0 -2.4,0zM331.59,467.45a1.2,1.2 0 1,0 2.4,0a1.2,1.2 0 1,0 -2.4,0zM334.60,467.93a1.2,1.2 0 1,0 2.4,0a1.2,1.2 0 1,0 -2.4,0zM337.62,468.41a1.2,1.2 0 1,0 2.4,0a1.2,1.2 0 1,0 -2.4,0zM340.63,468.76a1.2,1.2 0 1,0 2.4,0a1.2,1.2 0 1,0 -2.4,0zM343.65,469.01a1.2,1.2 0 1,0 2.4,0a1.2,1.2 0 1,0 -2.4,0zM346.66,469.27a1.2,1.2 0 1,0 2.4,0a1.2,1.2 0 1,0 -2.4,0zM349.68,469.52a1.2,1.2 0 1,0 2.4,0a1.2,1.2 0 1,0 -2.4,0zM352.69,469.78a1.2,1.2 0 1,0 2.4,0a1.2,1.2 0 1,0 -2.4,0zM355.70,470.04a1.2,1.2 0 1,0 2.4,0a1.2,1.2 0 1,0 -2.4,0zM358.72,470.29a1.2,1.2 0 1,0 2.4,0a1.2,1.2 0 1,0 -2.4,0zM361.73,470.32a1.2,1.2 0 1,0 2.4,0a1.2,1.2 0 1,0 -2.4,0zM364.75,470.35a1.2,1.2 0 1,0 2.4,0a1.2,1.2 0 1,0 -2.4,0zM367.76,470.37a1.2,1.2 0 1,0 2.4,0a1.2,1.2 0 1,0 -2.4,0zM370.78,470.40a1.2,1.2 0 1,0 2.4,0a1.2,1.2 0 1,0 -2.4,0zM373.79,470.42a1.2,1.2 0 1,0 2.4,0a1.2,1.2 0 1,0 -2.4,0zM376.80,470.45a1.2,1.2 0 1,0 2.4,0a1.2,1.2 0 1,0 -2.4,0zM379.82,470.48a1.2,1.2 0 1,0 2.4,0a1.2,1.2 0 1,0 -2.4,0zM382.83,470.50a1.2,1.2 0 1,0 2.4,0a1.2,1.2 0 1,0 -2.4,0zM385.85,470.53a1.2,1.2 0 1,0 2.4,0a1.2,1.2 0 1,0 -2.4,0zM388.86,470.55a1.2,1.2 0 1,0 2.4,0a1.2,1.2 0 1,0 -2.4,0zM391.87,470.58a1.2,1.2 0 1,0 2.4,0a1.2,1.2 0 1,0 -2.4,0zM394.89,470.60a1.2,1.2 0 1,0 2.4,0a1.2,1.2 0 1,0 -2.4,0zM397.90,470.63a1.2,1.2 0 1,0 2.4,0a1.2,1.2 0 1,0 -2.4,0zM400.92,470.65a1.2,1.2 0 1,0 2.4,0a1.2,1.2 0 1,0 -2.4,0zM403.93,470.68a1.2,1.2 0 1,0 2.4,0a1.2,1.2 0 1,0 -2.4,0zM406.95,470.70a1.2,1.2 0 1,0 2.4,0a1.2,1.2 0 1,0 -2.4,0zM409.96,470.73a1.2,1.2 0 1,0 2.4,0a1.2,1.2 0 1,0 -2.4,0zM412.97,470.75a1.2,1.2 0 1,0 2.4,0a1.2,1.2 0 1,0 -2.4,0zM415.99,470.78a1.2,1.2 0 1,0 2.4,0a1.2,1.2 0 1,0 -2.4,0zM419.00,470.80a1.2,1.2 0 1,0 2.4,0a1.2,1.2 0 1,0 -2.4,0zM422.02,470.81a1.2,1.2 0 1,0 2.4,0a1.2,1.2 0 1,0 -2.4,0zM425.03,470.82a1.2,1.2 0 1,0 2.4,0a1.2,1.2 0 1,0 -2.4,0zM428.04,470.83a1.2,1.2 0 1,0 2.4,0a1.2,1.2 0 1,0 -2.4,0zM431.06,470.84a1.2,1.2 0 1,0 2.4,0a1.2,1.2 0 1,0 -2.4,0zM434.07,470.85a1.2,1.2 0 1,0 2.4,0a1.2,1.2 0 1,0 -2.4,0zM437.09,470.86a1.2,1.2 0 1,0 2.4,0a1.2,1.2 0 1,0 -2.4,0zM440.10,470.87a1.2,1.2 0 1,0 2.4,0a1.2,1.2 0 1,0 -2.4,0zM443.12,470.88a1.2,1.2 0 1,0 2.4,0a1.2,1.2 0 1,0 -2.4,0zM446.13,470.89a1.2,1.2 0 1,0 2.4,0a1.2,1.2 0 1,0 -2.4,0zM449.14,470.89a1.2,1.2 0 1,0 2.4,0a1.2,1.2 0 1,0 -2.4,0zM452.16,470.90a1.2,1.2 0 1,0 2.4,0a1.2,1.2 0 1,0 -2.4,0zM455.17,470.91a1.2,1.2 0 1,0 2.4,0a1.2,1.2 0 1,0 -2.4,0zM458.19,470.92a1.2,1.2 0 1,0 2.4,0a1.2,1.2 0 1,0 -2.4,0zM461.20,470.93a1.2,1.2 0 1,0 2.4,0a1.2,1.2 0 1,0 -2.4,0zM464.21,470.94a1.2,1.2 0 1,0 2.4,0a1.2,1.2 0 1,0 -2.4,0zM467.23,470.95a1.2,1.2 0 1,0 2.4,0a1.2,1.2 0 1,0 -2.4,0zM470.24,470.96a1.2,1.2 0 1,0 2.4,0a1.2,1.2 0 1,0 -2.4,0zM473.26,470.97a1.2,1.2 0 1,0 2.4,0a1.2,1.2 0 1,0 -2.4,0zM476.27,470.98a1.2,1.2 0 1,0 2.4,0a1.2,1.2 0 1,0 -2.4,0zM479.29,470.99a1.2,1.2 0 1,0 2.4,0a1.2,1.2 0 1,0 -2.4,0zM482.30,471.00a1.2,1.2 0 1,0 2.4,0a1.2,1.2 0 1,0 -2.4,0z" fill="#262678"/>
<text x="53.0" y="429.6" font-size="7.5" font-weight="bold" text-anchor="end" fill="#000" stroke="#000" stroke-width="0.2">1</text>
<text x="53.0" y="439.0" font-size="7.5" font-weight="bold" text-anchor="end" fill="#000" stroke="#000" stroke-width="0.2">0.8</text>
<text x="53.0" y="448.6" font-size="7.5" font-weight="bold" text-anchor="end" fill="#000" stroke="#000" stroke-width="0.2">0.6</text>
<text x="53.0" y="458.0" font-size="7.5" font-weight="bold" text-anchor="end" fill="#000" stroke="#000" stroke-width="0.2">0.4</text>
<text x="53.0" y="467.6" font-size="7.5" font-weight="bold" text-anchor="end" fill="#000" stroke="#000" stroke-width="0.2">0.2</text>
<text x="53.0" y="477.1" font-size="7.5" font-weight="bold" text-anchor="end" fill="#000" stroke="#000" stroke-width="0.2">0</text>
<line x1="379.6" y1="450" x2="392" y2="450" stroke="#7a84b8" stroke-width="1.6"/>
<path d="M384.6,449h2.4l-1.2,2.2z" fill="#2e2e8a"/>
<line x1="379.6" y1="460.7" x2="392" y2="460.7" stroke="#ee90ee" stroke-width="1.6"/>
<path d="M384.6,459.7h2.4l-1.2,2.2z" fill="#d040d0"/>
<text x="396.5" y="452.4" font-size="10" fill="#24246c">ABC probability</text>
<text x="396.5" y="464.3" font-size="10" fill="#cc36cc">GCB probability</text>
<ellipse cx="322.8" cy="478.9" rx="2.2" ry="1.85" fill="#b01818"/>
<ellipse cx="339.4" cy="478.9" rx="2.2" ry="1.85" fill="#b01818"/>
<g filter="url(#hb)">
<path d="M68.00 278.00H88.65V284.56H68.00zM115.83 278.00H122.82V284.56H115.83zM136.33 278.00H143.32V284.56H136.33zM191.00 278.00H197.98V284.56H191.00zM314.00 278.00H320.98V284.56H314.00zM334.50 278.00H341.48V284.56H334.50zM375.50 278.00H382.48V284.56H375.50zM396.00 278.00H402.98V284.56H396.00zM423.33 278.00H430.32V284.56H423.33zM437.00 278.00H443.98V284.56H437.00zM471.17 278.00H478.15V284.56H471.17zM95.33 284.41H102.32V290.97H95.33zM156.83 284.41H163.82V290.97H156.83zM170.50 284.41H177.48V290.97H170.50zM191.00 284.41H197.98V290.97H191.00zM245.67 284.41H252.65V290.97H245.67zM259.33 284.41H266.32V290.97H259.33zM307.17 284.41H314.15V290.97H307.17zM320.83 284.41H327.82V290.97H320.83zM334.50 284.41H341.48V290.97H334.50zM361.83 284.41H368.82V290.97H361.83zM457.50 284.41H471.32V290.97H457.50zM115.83 290.82H122.82V297.39H115.83zM204.67 290.82H211.65V297.39H204.67zM218.33 290.82H225.32V297.39H218.33zM259.33 290.82H266.32V297.39H259.33zM341.33 290.82H348.32V297.39H341.33zM361.83 290.82H368.82V297.39H361.83zM409.67 290.82H416.65V297.39H409.67zM95.33 297.24H102.32V303.80H95.33zM225.17 297.24H232.15V303.80H225.17zM286.67 297.24H293.65V303.80H286.67zM327.67 297.24H334.65V303.80H327.67zM402.83 297.24H409.82V303.80H402.83zM218.33 303.65H232.15V310.21H218.33zM259.33 303.65H266.32V310.21H259.33zM286.67 303.65H293.65V310.21H286.67zM327.67 303.65H334.65V310.21H327.67zM382.33 303.65H389.32V310.21H382.33zM402.83 303.65H409.82V310.21H402.83zM423.33 303.65H430.32V310.21H423.33zM464.33 303.65H471.32V310.21H464.33zM115.83 310.06H122.82V316.62H115.83zM156.83 310.06H163.82V316.62H156.83zM191.00 310.06H197.98V316.62H191.00zM204.67 310.06H218.48V316.62H204.67zM238.83 310.06H245.82V316.62H238.83zM320.83 310.06H327.82V316.62H320.83zM402.83 310.06H409.82V316.62H402.83zM450.67 310.06H457.65V316.62H450.67zM156.83 316.48H163.82V323.04H156.83zM225.17 316.48H232.15V323.04H225.17zM238.83 316.48H245.82V323.04H238.83zM259.33 316.48H266.32V323.04H259.33zM314.00 316.48H320.98V323.04H314.00zM327.67 316.48H375.65V323.04H327.67zM382.33 316.48H409.82V323.04H382.33zM423.33 316.48H430.32V323.04H423.33zM437.00 316.48H478.15V323.04H437.00zM122.67 322.89H129.65V329.45H122.67zM232.00 322.89H238.98V329.45H232.00zM259.33 322.89H266.32V329.45H259.33zM314.00 322.89H320.98V329.45H314.00zM334.50 322.89H375.65V329.45H334.50zM389.17 322.89H396.15V329.45H389.17zM423.33 322.89H443.98V329.45H423.33zM450.67 322.89H457.65V329.45H450.67zM464.33 322.89H478.15V329.45H464.33zM129.50 329.30H136.48V335.86H129.50zM170.50 329.30H177.48V335.86H170.50zM184.17 329.30H191.15V335.86H184.17zM232.00 329.30H238.98V335.86H232.00zM245.67 329.30H252.65V335.86H245.67zM259.33 329.30H266.32V335.86H259.33zM279.83 329.30H286.82V335.86H279.83zM293.50 329.30H307.32V335.86H293.50zM314.00 329.30H334.65V335.86H314.00zM341.33 329.30H348.32V335.86H341.33zM355.00 329.30H382.48V335.86H355.00zM402.83 329.30H416.65V335.86H402.83zM423.33 329.30H457.65V335.86H423.33zM464.33 329.30H471.32V335.86H464.33zM88.50 335.71H109.15V342.27H88.50zM143.17 335.71H150.15V342.27H143.17zM177.33 335.71H184.32V342.27H177.33zM232.00 335.71H238.98V342.27H232.00zM266.17 335.71H273.15V342.27H266.17zM286.67 335.71H300.48V342.27H286.67zM307.17 335.71H314.15V342.27H307.17zM334.50 335.71H341.48V342.27H334.50zM348.17 335.71H355.15V342.27H348.17zM382.33 335.71H389.32V342.27H382.33zM416.50 335.71H430.32V342.27H416.50zM443.83 335.71H450.82V342.27H443.83zM81.67 342.12H95.48V348.69H81.67zM136.33 342.12H143.32V348.69H136.33zM150.00 342.12H156.98V348.69H150.00zM177.33 342.12H184.32V348.69H177.33zM204.67 342.12H211.65V348.69H204.67zM252.50 342.12H259.48V348.69H252.50zM279.83 342.12H286.82V348.69H279.83zM293.50 342.12H300.48V348.69H293.50zM314.00 342.12H320.98V348.69H314.00zM348.17 342.12H355.15V348.69H348.17zM375.50 342.12H382.48V348.69H375.50zM443.83 342.12H450.82V348.69H443.83zM74.83 348.54H81.82V355.10H74.83zM88.50 348.54H95.48V355.10H88.50zM109.00 348.54H122.82V355.10H109.00zM136.33 348.54H143.32V355.10H136.33zM150.00 348.54H156.98V355.10H150.00zM163.67 348.54H170.65V355.10H163.67zM177.33 348.54H184.32V355.10H177.33zM252.50 348.54H266.32V355.10H252.50zM273.00 348.54H286.82V355.10H273.00zM327.67 348.54H334.65V355.10H327.67zM341.33 348.54H348.32V355.10H341.33zM416.50 348.54H423.48V355.10H416.50zM471.17 348.54H478.15V355.10H471.17zM74.83 354.95H95.48V361.51H74.83zM109.00 354.95H122.82V361.51H109.00zM150.00 354.95H156.98V361.51H150.00zM163.67 354.95H170.65V361.51H163.67zM177.33 354.95H184.32V361.51H177.33zM191.00 354.95H197.98V361.51H191.00zM232.00 354.95H238.98V361.51H232.00zM252.50 354.95H259.48V361.51H252.50zM266.17 354.95H273.15V361.51H266.17zM314.00 354.95H320.98V361.51H314.00zM327.67 354.95H334.65V361.51H327.67zM341.33 354.95H348.32V361.51H341.33zM355.00 354.95H361.98V361.51H355.00zM375.50 354.95H389.32V361.51H375.50zM396.00 354.95H409.82V361.51H396.00zM430.17 354.95H437.15V361.51H430.17zM450.67 354.95H457.65V361.51H450.67zM471.17 354.95H478.15V361.51H471.17zM68.00 361.36H81.82V367.93H68.00zM88.50 361.36H95.48V367.93H88.50zM102.17 361.36H109.15V367.93H102.17zM136.33 361.36H143.32V367.93H136.33zM150.00 361.36H170.65V367.93H150.00zM177.33 361.36H197.98V367.93H177.33zM211.50 361.36H218.48V367.93H211.50zM225.17 361.36H232.15V367.93H225.17zM286.67 361.36H293.65V367.93H286.67zM348.17 361.36H355.15V367.93H348.17zM443.83 361.36H450.82V367.93H443.83zM457.50 361.36H464.48V367.93H457.50zM102.17 367.78H109.15V374.34H102.17zM122.67 367.78H136.48V374.34H122.67zM143.17 367.78H163.82V374.34H143.17zM170.50 367.78H177.48V374.34H170.50zM211.50 367.78H218.48V374.34H211.50zM238.83 367.78H259.48V374.34H238.83zM320.83 367.78H334.65V374.34H320.83zM348.17 367.78H355.15V374.34H348.17zM375.50 367.78H382.48V374.34H375.50zM409.67 367.78H416.65V374.34H409.67zM457.50 367.78H464.48V374.34H457.50zM88.50 374.19H95.48V380.75H88.50zM163.67 374.19H170.65V380.75H163.67zM177.33 374.19H191.15V380.75H177.33zM204.67 374.19H211.65V380.75H204.67zM218.33 374.19H225.32V380.75H218.33zM286.67 374.19H293.65V380.75H286.67zM314.00 374.19H320.98V380.75H314.00zM334.50 374.19H341.48V380.75H334.50zM361.83 374.19H368.82V380.75H361.83zM382.33 374.19H389.32V380.75H382.33zM396.00 374.19H402.98V380.75H396.00zM409.67 374.19H416.65V380.75H409.67zM423.33 374.19H430.32V380.75H423.33zM443.83 374.19H450.82V380.75H443.83zM471.17 374.19H478.15V380.75H471.17z" fill="#080808" shape-rendering="crispEdges"/>
<path d="M88.50 278.00H102.32V284.56H88.50zM109.00 278.00H115.98V284.56H109.00zM122.67 278.00H129.65V284.56H122.67zM150.00 278.00H156.98V284.56H150.00zM197.83 278.00H204.82V284.56H197.83zM225.17 278.00H232.15V284.56H225.17zM266.17 278.00H273.15V284.56H266.17zM68.00 284.41H95.48V290.97H68.00zM129.50 284.41H136.48V290.97H129.50zM163.67 284.41H170.65V290.97H163.67zM177.33 284.41H184.32V290.97H177.33zM197.83 284.41H204.82V290.97H197.83zM68.00 290.82H74.98V297.39H68.00zM81.67 290.82H88.65V297.39H81.67zM95.33 290.82H102.32V297.39H95.33zM109.00 290.82H115.98V297.39H109.00zM129.50 290.82H143.32V297.39H129.50zM163.67 290.82H170.65V297.39H163.67zM211.50 290.82H218.48V297.39H211.50zM293.50 290.82H300.48V297.39H293.50zM68.00 297.24H74.98V303.80H68.00zM102.17 297.24H109.15V303.80H102.17zM129.50 297.24H136.48V303.80H129.50zM150.00 297.24H156.98V303.80H150.00zM163.67 297.24H170.65V303.80H163.67zM177.33 297.24H191.15V303.80H177.33zM218.33 297.24H225.32V303.80H218.33zM238.83 297.24H245.82V303.80H238.83zM68.00 303.65H74.98V310.21H68.00zM102.17 303.65H109.15V310.21H102.17zM129.50 303.65H143.32V310.21H129.50zM150.00 303.65H156.98V310.21H150.00zM170.50 303.65H177.48V310.21H170.50zM184.17 303.65H191.15V310.21H184.17zM204.67 303.65H211.65V310.21H204.67zM238.83 303.65H245.82V310.21H238.83zM300.33 303.65H307.32V310.21H300.33zM68.00 310.06H74.98V316.62H68.00zM252.50 310.06H259.48V316.62H252.50zM293.50 310.06H300.48V316.62H293.50zM416.50 316.48H423.48V323.04H416.50zM279.83 322.89H293.65V329.45H279.83zM375.50 322.89H382.48V329.45H375.50zM457.50 322.89H464.48V329.45H457.50zM197.83 329.30H204.82V335.86H197.83zM382.33 329.30H389.32V335.86H382.33zM416.50 329.30H423.48V335.86H416.50zM457.50 329.30H464.48V335.86H457.50zM197.83 335.71H204.82V342.27H197.83zM225.17 335.71H232.15V342.27H225.17zM355.00 335.71H361.98V342.27H355.00zM375.50 335.71H382.48V342.27H375.50zM74.83 342.12H81.82V348.69H74.83zM211.50 342.12H218.48V348.69H211.50zM430.17 342.12H443.98V348.69H430.17zM471.17 342.12H478.15V348.69H471.17zM300.33 348.54H307.32V355.10H300.33zM361.83 348.54H375.65V355.10H361.83zM450.67 348.54H457.65V355.10H450.67zM464.33 348.54H471.32V355.10H464.33zM300.33 354.95H307.32V361.51H300.33zM95.33 361.36H102.32V367.93H95.33zM361.83 361.36H368.82V367.93H361.83zM389.17 361.36H402.98V367.93H389.17zM437.00 361.36H443.98V367.93H437.00zM259.33 367.78H266.32V374.34H259.33zM293.50 367.78H300.48V374.34H293.50zM314.00 367.78H320.98V374.34H314.00zM341.33 367.78H348.32V374.34H341.33zM396.00 367.78H409.82V374.34H396.00zM430.17 367.78H443.98V374.34H430.17zM191.00 374.19H204.82V380.75H191.00zM225.17 374.19H232.15V380.75H225.17zM320.83 374.19H334.65V380.75H320.83zM341.33 374.19H348.32V380.75H341.33zM375.50 374.19H382.48V380.75H375.50zM457.50 374.19H464.48V380.75H457.50z" fill="#a09e1e" shape-rendering="crispEdges"/>
<path d="M102.17 278.00H109.15V284.56H102.17zM129.50 278.00H136.48V284.56H129.50zM143.17 278.00H150.15V284.56H143.17zM156.83 278.00H177.48V284.56H156.83zM184.17 278.00H191.15V284.56H184.17zM252.50 278.00H266.32V284.56H252.50zM273.00 278.00H279.98V284.56H273.00zM368.67 278.00H375.65V284.56H368.67zM122.67 284.41H129.65V290.97H122.67zM204.67 284.41H211.65V290.97H204.67zM471.17 284.41H478.15V290.97H471.17zM88.50 290.82H95.48V297.39H88.50zM102.17 290.82H109.15V297.39H102.17zM143.17 290.82H156.98V297.39H143.17zM177.33 290.82H184.32V297.39H177.33zM74.83 297.24H88.65V303.80H74.83zM109.00 297.24H122.82V303.80H109.00zM136.33 297.24H143.32V303.80H136.33zM74.83 303.65H88.65V310.21H74.83zM95.33 303.65H102.32V310.21H95.33zM109.00 303.65H115.98V310.21H109.00zM122.67 303.65H129.65V310.21H122.67zM163.67 303.65H170.65V310.21H163.67zM211.50 303.65H218.48V310.21H211.50zM245.67 303.65H252.65V310.21H245.67zM95.33 310.06H102.32V316.62H95.33zM129.50 310.06H136.48V316.62H129.50zM150.00 310.06H156.98V316.62H150.00zM163.67 310.06H184.32V316.62H163.67zM225.17 310.06H238.98V316.62H225.17zM279.83 310.06H286.82V316.62H279.83zM396.00 310.06H402.98V316.62H396.00zM320.83 316.48H327.82V323.04H320.83zM416.50 322.89H423.48V329.45H416.50zM286.67 329.30H293.65V335.86H286.67zM170.50 335.71H177.48V342.27H170.50zM409.67 335.71H416.65V342.27H409.67zM238.83 342.12H245.82V348.69H238.83zM259.33 342.12H266.32V348.69H259.33zM307.17 342.12H314.15V348.69H307.17zM327.67 342.12H348.32V348.69H327.67zM355.00 342.12H368.82V348.69H355.00zM382.33 342.12H389.32V348.69H382.33zM416.50 342.12H423.48V348.69H416.50zM238.83 348.54H245.82V355.10H238.83zM334.50 348.54H341.48V355.10H334.50zM355.00 348.54H361.98V355.10H355.00zM402.83 348.54H416.65V355.10H402.83zM204.67 361.36H211.65V367.93H204.67zM218.33 361.36H225.32V367.93H218.33zM266.17 361.36H279.98V367.93H266.17zM293.50 361.36H300.48V367.93H293.50zM320.83 361.36H334.65V367.93H320.83zM341.33 361.36H348.32V367.93H341.33zM375.50 361.36H382.48V367.93H375.50zM402.83 361.36H409.82V367.93H402.83zM471.17 361.36H478.15V367.93H471.17zM232.00 367.78H238.98V374.34H232.00zM266.17 367.78H279.98V374.34H266.17zM300.33 367.78H307.32V374.34H300.33zM389.17 367.78H396.15V374.34H389.17zM464.33 367.78H471.32V374.34H464.33zM273.00 374.19H279.98V380.75H273.00zM300.33 374.19H307.32V380.75H300.33zM416.50 374.19H423.48V380.75H416.50z" fill="#ecec20" shape-rendering="crispEdges"/>
<path d="M177.33 278.00H184.32V284.56H177.33zM204.67 278.00H211.65V284.56H204.67zM327.67 278.00H334.65V284.56H327.67zM102.17 284.41H109.15V290.97H102.17zM143.17 284.41H150.15V290.97H143.17zM218.33 284.41H225.32V290.97H218.33zM416.50 284.41H423.48V290.97H416.50zM443.83 284.41H450.82V290.97H443.83zM74.83 290.82H81.82V297.39H74.83zM232.00 290.82H245.82V297.39H232.00zM143.17 297.24H150.15V303.80H143.17zM102.17 310.06H109.15V316.62H102.17zM143.17 310.06H150.15V316.62H143.17zM245.67 310.06H252.65V316.62H245.67zM259.33 310.06H266.32V316.62H259.33zM88.50 316.48H95.48V323.04H88.50zM245.67 316.48H252.65V323.04H245.67zM273.00 316.48H279.98V323.04H273.00zM293.50 316.48H300.48V323.04H293.50zM375.50 316.48H382.48V323.04H375.50zM409.67 316.48H416.65V323.04H409.67zM430.17 316.48H437.15V323.04H430.17zM170.50 322.89H177.48V329.45H170.50zM266.17 322.89H273.15V329.45H266.17zM396.00 322.89H402.98V329.45H396.00zM443.83 322.89H450.82V329.45H443.83zM102.17 329.30H109.15V335.86H102.17zM150.00 329.30H156.98V335.86H150.00zM156.83 335.71H163.82V342.27H156.83zM191.00 335.71H197.98V342.27H191.00zM389.17 335.71H402.98V342.27H389.17zM430.17 335.71H437.15V342.27H430.17zM109.00 342.12H122.82V348.69H109.00zM129.50 342.12H136.48V348.69H129.50zM232.00 342.12H238.98V348.69H232.00zM389.17 342.12H396.15V348.69H389.17zM423.33 342.12H430.32V348.69H423.33zM457.50 342.12H464.48V348.69H457.50zM81.67 348.54H88.65V355.10H81.67zM320.83 348.54H327.82V355.10H320.83zM375.50 348.54H382.48V355.10H375.50zM396.00 348.54H402.98V355.10H396.00zM430.17 348.54H443.98V355.10H430.17zM457.50 348.54H464.48V355.10H457.50zM307.17 354.95H314.15V361.51H307.17zM361.83 354.95H368.82V361.51H361.83zM389.17 354.95H396.15V361.51H389.17zM416.50 354.95H430.32V361.51H416.50zM437.00 354.95H443.98V361.51H437.00zM464.33 354.95H471.32V361.51H464.33zM122.67 361.36H129.65V367.93H122.67zM259.33 361.36H266.32V367.93H259.33zM382.33 361.36H389.32V367.93H382.33zM450.67 361.36H457.65V367.93H450.67zM464.33 361.36H471.32V367.93H464.33zM68.00 367.78H74.98V374.34H68.00zM163.67 367.78H170.65V374.34H163.67zM225.17 367.78H232.15V374.34H225.17zM286.67 367.78H293.65V374.34H286.67zM307.17 367.78H314.15V374.34H307.17zM361.83 367.78H368.82V374.34H361.83zM382.33 367.78H389.32V374.34H382.33zM443.83 367.78H450.82V374.34H443.83zM68.00 374.19H74.98V380.75H68.00zM232.00 374.19H238.98V380.75H232.00zM368.67 374.19H375.65V380.75H368.67zM402.83 374.19H409.82V380.75H402.83zM450.67 374.19H457.65V380.75H450.67zM464.33 374.19H471.32V380.75H464.33z" fill="#302e06" shape-rendering="crispEdges"/>
<path d="M211.50 278.00H225.32V284.56H211.50zM109.00 284.41H122.82V290.97H109.00zM136.33 284.41H143.32V290.97H136.33zM150.00 284.41H156.98V290.97H150.00zM184.17 284.41H191.15V290.97H184.17zM238.83 284.41H245.82V290.97H238.83zM122.67 290.82H129.65V297.39H122.67zM156.83 290.82H163.82V297.39H156.83zM170.50 290.82H177.48V297.39H170.50zM184.17 290.82H191.15V297.39H184.17zM197.83 290.82H204.82V297.39H197.83zM279.83 290.82H286.82V297.39H279.83zM314.00 290.82H320.98V297.39H314.00zM88.50 297.24H95.48V303.80H88.50zM122.67 297.24H129.65V303.80H122.67zM156.83 297.24H163.82V303.80H156.83zM170.50 297.24H177.48V303.80H170.50zM197.83 297.24H218.48V303.80H197.83zM266.17 297.24H273.15V303.80H266.17zM279.83 297.24H286.82V303.80H279.83zM341.33 297.24H348.32V303.80H341.33zM361.83 297.24H368.82V303.80H361.83zM88.50 303.65H95.48V310.21H88.50zM115.83 303.65H122.82V310.21H115.83zM143.17 303.65H150.15V310.21H143.17zM156.83 303.65H163.82V310.21H156.83zM177.33 303.65H184.32V310.21H177.33zM191.00 303.65H204.82V310.21H191.00zM74.83 310.06H95.48V316.62H74.83zM109.00 310.06H115.98V316.62H109.00zM122.67 310.06H129.65V316.62H122.67zM136.33 310.06H143.32V316.62H136.33zM184.17 310.06H191.15V316.62H184.17zM197.83 310.06H204.82V316.62H197.83zM218.33 310.06H225.32V316.62H218.33zM266.17 316.48H273.15V323.04H266.17zM279.83 316.48H293.65V323.04H279.83zM245.67 322.89H252.65V329.45H245.67zM273.00 322.89H279.98V329.45H273.00zM293.50 322.89H300.48V329.45H293.50zM320.83 322.89H327.82V329.45H320.83zM382.33 322.89H389.32V329.45H382.33zM402.83 322.89H416.65V329.45H402.83zM273.00 329.30H279.98V335.86H273.00zM245.67 335.71H259.48V342.27H245.67zM279.83 335.71H286.82V342.27H279.83zM327.67 335.71H334.65V342.27H327.67zM341.33 335.71H348.32V342.27H341.33zM368.67 335.71H375.65V342.27H368.67zM402.83 335.71H409.82V342.27H402.83zM437.00 335.71H443.98V342.27H437.00zM450.67 335.71H471.32V342.27H450.67zM396.00 342.12H416.65V348.69H396.00zM450.67 342.12H457.65V348.69H450.67zM129.50 348.54H136.48V355.10H129.50zM204.67 348.54H218.48V355.10H204.67zM245.67 348.54H252.65V355.10H245.67zM286.67 348.54H293.65V355.10H286.67zM348.17 348.54H355.15V355.10H348.17zM389.17 348.54H396.15V355.10H389.17zM184.17 354.95H191.15V361.51H184.17zM211.50 354.95H218.48V361.51H211.50zM238.83 354.95H252.65V361.51H238.83zM320.83 354.95H327.82V361.51H320.83zM334.50 354.95H341.48V361.51H334.50zM348.17 354.95H355.15V361.51H348.17zM368.67 354.95H375.65V361.51H368.67zM409.67 354.95H416.65V361.51H409.67zM314.00 361.36H320.98V367.93H314.00zM355.00 361.36H361.98V367.93H355.00zM368.67 361.36H375.65V367.93H368.67zM423.33 361.36H437.15V367.93H423.33zM177.33 367.78H184.32V374.34H177.33zM334.50 367.78H341.48V374.34H334.50zM355.00 367.78H361.98V374.34H355.00zM368.67 367.78H375.65V374.34H368.67zM423.33 367.78H430.32V374.34H423.33zM450.67 367.78H457.65V374.34H450.67zM471.17 367.78H478.15V374.34H471.17zM307.17 374.19H314.15V380.75H307.17zM348.17 374.19H355.15V380.75H348.17zM389.17 374.19H396.15V380.75H389.17zM437.00 374.19H443.98V380.75H437.00z" fill="#585610" shape-rendering="crispEdges"/>
<path d="M232.00 278.00H245.82V284.56H232.00zM286.67 278.00H300.48V284.56H286.67zM341.33 278.00H348.32V284.56H341.33zM355.00 278.00H361.98V284.56H355.00zM389.17 278.00H396.15V284.56H389.17zM402.83 278.00H423.48V284.56H402.83zM430.17 278.00H437.15V284.56H430.17zM443.83 278.00H450.82V284.56H443.83zM457.50 278.00H464.48V284.56H457.50zM232.00 284.41H238.98V290.97H232.00zM266.17 284.41H300.48V290.97H266.17zM327.67 284.41H334.65V290.97H327.67zM355.00 284.41H361.98V290.97H355.00zM368.67 284.41H382.48V290.97H368.67zM409.67 284.41H416.65V290.97H409.67zM430.17 284.41H443.98V290.97H430.17zM191.00 290.82H197.98V297.39H191.00zM225.17 290.82H232.15V297.39H225.17zM245.67 290.82H259.48V297.39H245.67zM273.00 290.82H279.98V297.39H273.00zM286.67 290.82H293.65V297.39H286.67zM307.17 290.82H314.15V297.39H307.17zM327.67 290.82H341.48V297.39H327.67zM355.00 290.82H361.98V297.39H355.00zM368.67 290.82H375.65V297.39H368.67zM382.33 290.82H389.32V297.39H382.33zM402.83 290.82H409.82V297.39H402.83zM416.50 290.82H423.48V297.39H416.50zM430.17 290.82H443.98V297.39H430.17zM450.67 290.82H457.65V297.39H450.67zM471.17 290.82H478.15V297.39H471.17zM191.00 297.24H197.98V303.80H191.00zM232.00 297.24H238.98V303.80H232.00zM245.67 297.24H252.65V303.80H245.67zM259.33 297.24H266.32V303.80H259.33zM273.00 297.24H279.98V303.80H273.00zM300.33 297.24H314.15V303.80H300.33zM334.50 297.24H341.48V303.80H334.50zM348.17 297.24H361.98V303.80H348.17zM368.67 297.24H375.65V303.80H368.67zM382.33 297.24H389.32V303.80H382.33zM409.67 297.24H423.48V303.80H409.67zM430.17 297.24H443.98V303.80H430.17zM457.50 297.24H471.32V303.80H457.50zM232.00 303.65H238.98V310.21H232.00zM266.17 303.65H286.82V310.21H266.17zM307.17 303.65H320.98V310.21H307.17zM334.50 303.65H341.48V310.21H334.50zM348.17 303.65H355.15V310.21H348.17zM361.83 303.65H375.65V310.21H361.83zM389.17 303.65H402.98V310.21H389.17zM409.67 303.65H423.48V310.21H409.67zM430.17 303.65H443.98V310.21H430.17zM450.67 303.65H464.48V310.21H450.67zM471.17 303.65H478.15V310.21H471.17zM273.00 310.06H279.98V316.62H273.00zM286.67 310.06H293.65V316.62H286.67zM300.33 310.06H307.32V316.62H300.33zM314.00 310.06H320.98V316.62H314.00zM327.67 310.06H334.65V316.62H327.67zM341.33 310.06H348.32V316.62H341.33zM355.00 310.06H361.98V316.62H355.00zM368.67 310.06H375.65V316.62H368.67zM389.17 310.06H396.15V316.62H389.17zM409.67 310.06H437.15V316.62H409.67zM464.33 310.06H478.15V316.62H464.33zM95.33 316.48H102.32V323.04H95.33zM122.67 316.48H129.65V323.04H122.67zM136.33 316.48H143.32V323.04H136.33zM150.00 316.48H156.98V323.04H150.00zM163.67 316.48H177.48V323.04H163.67zM197.83 316.48H211.65V323.04H197.83zM232.00 316.48H238.98V323.04H232.00zM300.33 316.48H314.15V323.04H300.33zM88.50 322.89H95.48V329.45H88.50zM129.50 322.89H136.48V329.45H129.50zM150.00 322.89H170.65V329.45H150.00zM177.33 322.89H184.32V329.45H177.33zM197.83 322.89H204.82V329.45H197.83zM218.33 322.89H225.32V329.45H218.33zM300.33 322.89H307.32V329.45H300.33zM88.50 329.30H95.48V335.86H88.50zM136.33 329.30H150.15V335.86H136.33zM156.83 329.30H170.65V335.86H156.83zM218.33 329.30H225.32V335.86H218.33zM238.83 329.30H245.82V335.86H238.83zM266.17 329.30H273.15V335.86H266.17zM389.17 329.30H402.98V335.86H389.17zM68.00 335.71H74.98V342.27H68.00zM81.67 335.71H88.65V342.27H81.67zM109.00 335.71H122.82V342.27H109.00zM150.00 335.71H156.98V342.27H150.00zM211.50 335.71H218.48V342.27H211.50zM238.83 335.71H245.82V342.27H238.83zM273.00 335.71H279.98V342.27H273.00zM300.33 335.71H307.32V342.27H300.33zM314.00 335.71H327.82V342.27H314.00zM68.00 342.12H74.98V348.69H68.00zM122.67 342.12H129.65V348.69H122.67zM163.67 342.12H170.65V348.69H163.67zM184.17 342.12H204.82V348.69H184.17zM218.33 342.12H225.32V348.69H218.33zM273.00 342.12H279.98V348.69H273.00zM286.67 342.12H293.65V348.69H286.67zM300.33 342.12H307.32V348.69H300.33zM320.83 342.12H327.82V348.69H320.83zM464.33 342.12H471.32V348.69H464.33zM68.00 348.54H74.98V355.10H68.00zM122.67 348.54H129.65V355.10H122.67zM184.17 348.54H191.15V355.10H184.17zM197.83 348.54H204.82V355.10H197.83zM293.50 348.54H300.48V355.10H293.50zM307.17 348.54H314.15V355.10H307.17zM382.33 348.54H389.32V355.10H382.33zM443.83 348.54H450.82V355.10H443.83zM129.50 354.95H143.32V361.51H129.50zM170.50 354.95H177.48V361.51H170.50zM204.67 354.95H211.65V361.51H204.67zM218.33 354.95H225.32V361.51H218.33zM279.83 354.95H286.82V361.51H279.83zM293.50 354.95H300.48V361.51H293.50zM457.50 354.95H464.48V361.51H457.50zM81.67 361.36H88.65V367.93H81.67zM109.00 361.36H122.82V367.93H109.00zM129.50 361.36H136.48V367.93H129.50zM143.17 361.36H150.15V367.93H143.17zM170.50 361.36H177.48V367.93H170.50zM197.83 361.36H204.82V367.93H197.83zM232.00 361.36H238.98V367.93H232.00zM279.83 361.36H286.82V367.93H279.83zM300.33 361.36H314.15V367.93H300.33zM409.67 361.36H423.48V367.93H409.67zM74.83 367.78H102.32V374.34H74.83zM109.00 367.78H115.98V374.34H109.00zM136.33 367.78H143.32V374.34H136.33zM184.17 367.78H204.82V374.34H184.17zM218.33 367.78H225.32V374.34H218.33zM416.50 367.78H423.48V374.34H416.50zM81.67 374.19H88.65V380.75H81.67zM109.00 374.19H115.98V380.75H109.00zM122.67 374.19H143.32V380.75H122.67zM150.00 374.19H156.98V380.75H150.00zM170.50 374.19H177.48V380.75H170.50zM211.50 374.19H218.48V380.75H211.50zM238.83 374.19H245.82V380.75H238.83zM259.33 374.19H273.15V380.75H259.33zM279.83 374.19H286.82V380.75H279.83z" fill="#1e0c48" shape-rendering="crispEdges"/>
<path d="M245.67 278.00H252.65V284.56H245.67zM279.83 278.00H286.82V284.56H279.83zM300.33 278.00H307.32V284.56H300.33zM361.83 278.00H368.82V284.56H361.83zM382.33 278.00H389.32V284.56H382.33zM464.33 278.00H471.32V284.56H464.33zM211.50 284.41H218.48V290.97H211.50zM225.17 284.41H232.15V290.97H225.17zM314.00 284.41H320.98V290.97H314.00zM341.33 284.41H355.15V290.97H341.33zM389.17 284.41H396.15V290.97H389.17zM423.33 284.41H430.32V290.97H423.33zM450.67 284.41H457.65V290.97H450.67zM423.33 290.82H430.32V297.39H423.33zM396.00 297.24H402.98V303.80H396.00zM423.33 297.24H430.32V303.80H423.33zM307.17 310.06H314.15V316.62H307.17zM348.17 310.06H355.15V316.62H348.17zM437.00 310.06H443.98V316.62H437.00zM457.50 310.06H464.48V316.62H457.50zM68.00 316.48H74.98V323.04H68.00zM115.83 316.48H122.82V323.04H115.83zM184.17 316.48H197.98V323.04H184.17zM218.33 316.48H225.32V323.04H218.33zM136.33 322.89H143.32V329.45H136.33zM184.17 322.89H191.15V329.45H184.17zM211.50 322.89H218.48V329.45H211.50zM238.83 322.89H245.82V329.45H238.83zM307.17 322.89H314.15V329.45H307.17zM327.67 322.89H334.65V329.45H327.67zM115.83 329.30H122.82V335.86H115.83zM211.50 329.30H218.48V335.86H211.50zM307.17 329.30H314.15V335.86H307.17zM334.50 329.30H341.48V335.86H334.50zM184.17 335.71H191.15V342.27H184.17zM218.33 335.71H225.32V342.27H218.33zM259.33 335.71H266.32V342.27H259.33zM361.83 335.71H368.82V342.27H361.83zM368.67 342.12H375.65V348.69H368.67zM191.00 348.54H197.98V355.10H191.00zM314.00 348.54H320.98V355.10H314.00zM143.17 354.95H150.15V361.51H143.17zM225.17 354.95H232.15V361.51H225.17zM286.67 354.95H293.65V361.51H286.67zM443.83 354.95H450.82V361.51H443.83zM238.83 361.36H252.65V367.93H238.83zM334.50 361.36H341.48V367.93H334.50zM279.83 367.78H286.82V374.34H279.83zM143.17 374.19H150.15V380.75H143.17zM156.83 374.19H163.82V380.75H156.83zM245.67 374.19H259.48V380.75H245.67zM293.50 374.19H300.48V380.75H293.50zM355.00 374.19H361.98V380.75H355.00zM430.17 374.19H437.15V380.75H430.17z" fill="#6a22ee" shape-rendering="crispEdges"/>
<path d="M307.17 278.00H314.15V284.56H307.17zM320.83 278.00H327.82V284.56H320.83zM348.17 278.00H355.15V284.56H348.17zM450.67 278.00H457.65V284.56H450.67zM252.50 284.41H259.48V290.97H252.50zM300.33 284.41H307.32V290.97H300.33zM382.33 284.41H389.32V290.97H382.33zM396.00 284.41H409.82V290.97H396.00zM266.17 290.82H273.15V297.39H266.17zM300.33 290.82H307.32V297.39H300.33zM320.83 290.82H327.82V297.39H320.83zM348.17 290.82H355.15V297.39H348.17zM375.50 290.82H382.48V297.39H375.50zM389.17 290.82H402.98V297.39H389.17zM443.83 290.82H450.82V297.39H443.83zM457.50 290.82H471.32V297.39H457.50zM293.50 297.24H300.48V303.80H293.50zM314.00 297.24H320.98V303.80H314.00zM375.50 297.24H382.48V303.80H375.50zM389.17 297.24H396.15V303.80H389.17zM443.83 297.24H457.65V303.80H443.83zM471.17 297.24H478.15V303.80H471.17zM252.50 303.65H259.48V310.21H252.50zM293.50 303.65H300.48V310.21H293.50zM320.83 303.65H327.82V310.21H320.83zM341.33 303.65H348.32V310.21H341.33zM355.00 303.65H361.98V310.21H355.00zM375.50 303.65H382.48V310.21H375.50zM443.83 303.65H450.82V310.21H443.83zM266.17 310.06H273.15V316.62H266.17zM334.50 310.06H341.48V316.62H334.50zM361.83 310.06H368.82V316.62H361.83zM375.50 310.06H389.32V316.62H375.50zM443.83 310.06H450.82V316.62H443.83zM74.83 316.48H88.65V323.04H74.83zM102.17 316.48H115.98V323.04H102.17zM129.50 316.48H136.48V323.04H129.50zM143.17 316.48H150.15V323.04H143.17zM177.33 316.48H184.32V323.04H177.33zM211.50 316.48H218.48V323.04H211.50zM68.00 322.89H88.65V329.45H68.00zM102.17 322.89H122.82V329.45H102.17zM143.17 322.89H150.15V329.45H143.17zM74.83 329.30H88.65V335.86H74.83zM109.00 329.30H115.98V335.86H109.00zM122.67 329.30H129.65V335.86H122.67zM177.33 329.30H184.32V335.86H177.33zM74.83 335.71H81.82V342.27H74.83zM122.67 335.71H143.32V342.27H122.67zM163.67 335.71H170.65V342.27H163.67zM204.67 335.71H211.65V342.27H204.67zM95.33 342.12H109.15V348.69H95.33zM143.17 342.12H150.15V348.69H143.17zM156.83 342.12H163.82V348.69H156.83zM170.50 342.12H177.48V348.69H170.50zM225.17 342.12H232.15V348.69H225.17zM245.67 342.12H252.65V348.69H245.67zM266.17 342.12H273.15V348.69H266.17zM95.33 348.54H109.15V355.10H95.33zM143.17 348.54H150.15V355.10H143.17zM156.83 348.54H163.82V355.10H156.83zM170.50 348.54H177.48V355.10H170.50zM218.33 348.54H238.98V355.10H218.33zM266.17 348.54H273.15V355.10H266.17zM423.33 348.54H430.32V355.10H423.33zM68.00 354.95H74.98V361.51H68.00zM95.33 354.95H109.15V361.51H95.33zM122.67 354.95H129.65V361.51H122.67zM156.83 354.95H163.82V361.51H156.83zM197.83 354.95H204.82V361.51H197.83zM259.33 354.95H266.32V361.51H259.33zM273.00 354.95H279.98V361.51H273.00zM115.83 367.78H122.82V374.34H115.83zM204.67 367.78H211.65V374.34H204.67zM74.83 374.19H81.82V380.75H74.83zM95.33 374.19H109.15V380.75H95.33zM115.83 374.19H122.82V380.75H115.83z" fill="#3c14a4" shape-rendering="crispEdges"/>
<path d="M252.50 297.24H259.48V303.80H252.50zM320.83 297.24H327.82V303.80H320.83zM252.50 316.48H259.48V323.04H252.50zM95.33 322.89H102.32V329.45H95.33zM191.00 322.89H197.98V329.45H191.00zM204.67 322.89H211.65V329.45H204.67zM225.17 322.89H232.15V329.45H225.17zM252.50 322.89H259.48V329.45H252.50zM68.00 329.30H74.98V335.86H68.00zM95.33 329.30H102.32V335.86H95.33zM191.00 329.30H197.98V335.86H191.00zM204.67 329.30H211.65V335.86H204.67zM225.17 329.30H232.15V335.86H225.17zM252.50 329.30H259.48V335.86H252.50zM348.17 329.30H355.15V335.86H348.17zM471.17 329.30H478.15V335.86H471.17zM471.17 335.71H478.15V342.27H471.17zM252.50 361.36H259.48V367.93H252.50z" fill="#747474" shape-rendering="crispEdges"/>
</g>
<line x1="182" y1="278" x2="182" y2="380.6" stroke="#b070a0" stroke-width="0.6" opacity="0.5"/>
<line x1="266.5" y1="278" x2="266.5" y2="380.6" stroke="#b070a0" stroke-width="0.6" opacity="0.5"/>
<line x1="60" y1="317.4" x2="478" y2="317.4" stroke="#c08070" stroke-width="0.6" opacity="0.7"/>
<text x="481.4" y="281.7" font-size="6.0" fill="#000" stroke="#000" stroke-width="0.15">LANCL1</text>
<text x="481.4" y="288.48" font-size="6.0" fill="#000" stroke="#000" stroke-width="0.15">KCNK12</text>
<text x="481.4" y="295.26" font-size="6.0" fill="#000" stroke="#000" stroke-width="0.15">SORL1</text>
<text x="481.4" y="302.04" font-size="6.0" fill="#000" stroke="#000" stroke-width="0.15">CXorf57</text>
<text x="481.4" y="308.82" font-size="6.0" fill="#000" stroke="#000" stroke-width="0.15">SOX9</text>
<text x="481.4" y="315.6" font-size="6.0" fill="#000" stroke="#000" stroke-width="0.15">KIAA0746</text>
<text x="481.4" y="322.38" font-size="6.0" fill="#000" stroke="#000" stroke-width="0.15">ASPHD2</text>
<text x="481.4" y="329.16" font-size="6.0" fill="#000" stroke="#000" stroke-width="0.15">ARHGAP17</text>
<text x="481.4" y="335.94" font-size="6.0" fill="#000" stroke="#000" stroke-width="0.15">IKZF1</text>
<text x="481.4" y="342.72" font-size="6.0" fill="#000" stroke="#000" stroke-width="0.15">PMM2</text>
<text x="481.4" y="349.5" font-size="6.0" fill="#000" stroke="#000" stroke-width="0.15">IL12A</text>
<text x="481.4" y="356.28" font-size="6.0" fill="#000" stroke="#000" stroke-width="0.15">JDP2</text>
<text x="481.4" y="363.06" font-size="6.0" fill="#000" stroke="#000" stroke-width="0.15">PAK1</text>
<text x="481.4" y="369.84" font-size="6.0" fill="#000" stroke="#000" stroke-width="0.15">GALNS</text>
<text x="481.4" y="376.62" font-size="6.0" fill="#000" stroke="#000" stroke-width="0.15">FGD2</text>
<text x="481.4" y="383.4" font-size="6.0" fill="#000" stroke="#000" stroke-width="0.15">LYAR</text>
<rect x="16.30" y="294.90" width="7.70" height="6.95" fill="#7000ff"/>
<rect x="16.30" y="301.55" width="7.70" height="6.95" fill="#5700c6"/>
<rect x="16.30" y="308.21" width="7.70" height="6.95" fill="#3f0091"/>
<rect x="16.30" y="314.86" width="7.70" height="6.95" fill="#2a0061"/>
<rect x="16.30" y="321.52" width="7.70" height="6.95" fill="#180037"/>
<rect x="16.30" y="328.17" width="7.70" height="6.95" fill="#090015"/>
<rect x="16.30" y="334.82" width="7.70" height="6.95" fill="#000000"/>
<rect x="16.30" y="341.48" width="7.70" height="6.95" fill="#151500"/>
<rect x="16.30" y="348.13" width="7.70" height="6.95" fill="#373700"/>
<rect x="16.30" y="354.78" width="7.70" height="6.95" fill="#616100"/>
<rect x="16.30" y="361.44" width="7.70" height="6.95" fill="#919100"/>
<rect x="16.30" y="368.09" width="7.70" height="6.95" fill="#c6c600"/>
<rect x="16.30" y="374.75" width="7.70" height="6.95" fill="#ffff00"/>
<text x="11.6" y="378.0" font-size="10" fill="#000" transform="rotate(-90 11.6 378.0)">relative methylation</text>
<text x="37.4" y="315.2" font-size="9.2" fill="#000" transform="rotate(-90 37.4 315.2)">Low</text>
<text x="37.4" y="380.6" font-size="9.2" fill="#000" transform="rotate(-90 37.4 380.6)">High</text>
<rect x="67.60" y="383.80" width="113.20" height="4.80" fill="#1a9c9c"/>
<rect x="183.00" y="383.80" width="81.70" height="4.80" fill="#8c8c8c"/>
<rect x="268.00" y="383.80" width="209.70" height="4.80" fill="#9ccc1c"/>
<text x="112.8" y="402.6" font-size="14.7" fill="#1e9a9a">ABC</text>
<text x="181.2" y="402.6" font-size="14.7" fill="#8a8a8a">Unclassifiable</text>
<text x="348.3" y="402.6" font-size="14.7" fill="#a0c828">GCB</text>
<g filter="url(#hb)">
<path d="M59.00 484.90H62.17V491.05H59.00zM68.07 484.90H77.29V491.05H68.07zM83.19 484.90H86.36V491.05H83.19zM89.23 484.90H92.41V491.05H89.23zM95.28 484.90H98.45V491.05H95.28zM107.37 484.90H110.55V491.05H107.37zM113.42 484.90H116.59V491.05H113.42zM128.54 484.90H131.71V491.05H128.54zM137.61 484.90H140.78V491.05H137.61zM146.68 484.90H155.90V491.05H146.68zM170.87 484.90H174.04V491.05H170.87zM176.91 484.90H183.11V491.05H176.91zM195.05 484.90H198.23V491.05H195.05zM216.22 484.90H219.39V491.05H216.22zM258.54 484.90H264.74V491.05H258.54zM270.64 484.90H273.81V491.05H270.64zM276.69 484.90H279.86V491.05H276.69zM285.76 484.90H288.93V491.05H285.76zM331.11 484.90H334.28V491.05H331.11zM59.00 490.90H62.17V497.05H59.00zM68.07 490.90H77.29V497.05H68.07zM83.19 490.90H86.36V497.05H83.19zM89.23 490.90H92.41V497.05H89.23zM95.28 490.90H98.45V497.05H95.28zM107.37 490.90H110.55V497.05H107.37zM113.42 490.90H116.59V497.05H113.42zM128.54 490.90H131.71V497.05H128.54zM137.61 490.90H140.78V497.05H137.61zM146.68 490.90H155.90V497.05H146.68zM170.87 490.90H174.04V497.05H170.87zM176.91 490.90H183.11V497.05H176.91zM195.05 490.90H198.23V497.05H195.05zM216.22 490.90H219.39V497.05H216.22zM258.54 490.90H264.74V497.05H258.54zM270.64 490.90H273.81V497.05H270.64zM276.69 490.90H279.86V497.05H276.69zM285.76 490.90H288.93V497.05H285.76zM331.11 490.90H334.28V497.05H331.11zM62.02 496.90H68.22V503.05H62.02zM71.09 496.90H74.27V503.05H71.09zM77.14 496.90H89.38V503.05H77.14zM92.26 496.90H98.45V503.05H92.26zM104.35 496.90H113.57V503.05H104.35zM128.54 496.90H131.71V503.05H128.54zM134.59 496.90H137.76V503.05H134.59zM158.77 496.90H161.95V503.05H158.77zM176.91 496.90H180.09V503.05H176.91zM255.52 496.90H258.69V503.05H255.52zM264.59 496.90H267.76V503.05H264.59zM273.66 496.90H276.84V503.05H273.66zM294.83 496.90H301.02V503.05H294.83zM303.90 496.90H307.07V503.05H303.90zM315.99 496.90H319.16V503.05H315.99zM343.20 496.90H346.37V503.05H343.20zM373.43 496.90H376.61V503.05H373.43zM385.53 496.90H388.70V503.05H385.53zM397.62 496.90H400.79V503.05H397.62zM255.52 502.90H264.74V509.05H255.52zM288.78 502.90H291.95V509.05H288.78zM379.48 502.90H382.65V509.05H379.48zM62.02 508.90H71.24V515.05H62.02zM77.14 508.90H83.34V515.05H77.14zM92.26 508.90H98.45V515.05H92.26zM110.40 508.90H116.59V515.05H110.40zM119.47 508.90H122.64V515.05H119.47zM125.51 508.90H131.71V515.05H125.51zM164.82 508.90H167.99V515.05H164.82zM179.94 508.90H186.13V515.05H179.94zM189.01 508.90H192.18V515.05H189.01zM207.15 508.90H210.32V515.05H207.15zM216.22 508.90H222.41V515.05H216.22zM225.29 508.90H228.46V515.05H225.29zM249.47 508.90H255.67V515.05H249.47zM267.61 508.90H270.79V515.05H267.61zM285.76 508.90H288.93V515.05H285.76zM322.04 508.90H325.21V515.05H322.04zM62.02 514.90H68.22V521.05H62.02zM74.12 514.90H80.31V521.05H74.12zM86.21 514.90H89.38V521.05H86.21zM95.28 514.90H104.50V521.05H95.28zM107.37 514.90H110.55V521.05H107.37zM116.44 514.90H122.64V521.05H116.44zM125.51 514.90H131.71V521.05H125.51zM134.59 514.90H137.76V521.05H134.59zM140.63 514.90H143.81V521.05H140.63zM158.77 514.90H161.95V521.05H158.77zM167.84 514.90H174.04V521.05H167.84zM201.10 514.90H213.34V521.05H201.10zM243.43 514.90H246.60V521.05H243.43zM119.47 520.90H122.64V527.05H119.47zM158.77 520.90H161.95V527.05H158.77zM167.84 520.90H171.02V527.05H167.84zM173.89 520.90H177.06V527.05H173.89zM189.01 520.90H192.18V527.05H189.01zM201.10 520.90H204.27V527.05H201.10zM213.19 520.90H219.39V527.05H213.19zM225.29 520.90H228.46V527.05H225.29zM234.36 520.90H237.53V527.05H234.36zM270.64 520.90H279.86V527.05H270.64zM309.94 520.90H313.12V527.05H309.94zM391.57 520.90H394.75V527.05H391.57zM403.67 520.90H406.84V527.05H403.67zM74.12 526.90H77.29V533.05H74.12zM98.30 526.90H107.52V533.05H98.30zM110.40 526.90H116.59V533.05H110.40zM122.49 526.90H125.66V533.05H122.49zM143.66 526.90H149.85V533.05H143.66zM192.03 526.90H195.20V533.05H192.03zM198.08 526.90H201.25V533.05H198.08zM231.33 526.90H240.55V533.05H231.33zM285.76 526.90H291.95V533.05H285.76zM294.83 526.90H301.02V533.05H294.83zM179.94 532.90H183.11V539.05H179.94zM195.05 532.90H198.23V539.05H195.05zM204.12 532.90H207.30V539.05H204.12zM228.31 532.90H234.51V539.05H228.31zM246.45 532.90H249.62V539.05H246.45zM261.57 532.90H264.74V539.05H261.57zM270.64 532.90H273.81V539.05H270.64zM276.69 532.90H279.86V539.05H276.69zM288.78 532.90H291.95V539.05H288.78zM297.85 532.90H301.02V539.05H297.85zM312.97 532.90H319.16V539.05H312.97zM325.06 532.90H331.26V539.05H325.06zM355.29 532.90H358.47V539.05H355.29zM364.36 532.90H373.58V539.05H364.36zM385.53 532.90H388.70V539.05H385.53zM403.67 532.90H409.86V539.05H403.67zM412.74 532.90H415.91V539.05H412.74zM430.88 532.90H434.05V539.05H430.88zM436.93 532.90H440.10V539.05H436.93zM449.02 532.90H452.19V539.05H449.02zM270.64 538.90H273.81V545.05H270.64zM282.73 538.90H285.91V545.05H282.73zM306.92 538.90H310.09V545.05H306.92zM337.15 538.90H340.33V545.05H337.15zM346.22 538.90H349.40V545.05H346.22zM358.32 538.90H361.49V545.05H358.32zM367.39 538.90H370.56V545.05H367.39zM376.46 538.90H379.63V545.05H376.46zM382.50 538.90H388.70V545.05H382.50zM406.69 538.90H409.86V545.05H406.69zM482.28 538.90H485.45V545.05H482.28zM86.21 544.90H89.38V551.05H86.21zM182.96 544.90H186.13V551.05H182.96zM273.66 544.90H276.84V551.05H273.66zM282.73 544.90H285.91V551.05H282.73zM300.87 544.90H304.05V551.05H300.87zM309.94 544.90H313.12V551.05H309.94zM337.15 544.90H340.33V551.05H337.15zM346.22 544.90H349.40V551.05H346.22zM361.34 544.90H364.51V551.05H361.34zM367.39 544.90H370.56V551.05H367.39zM385.53 544.90H388.70V551.05H385.53zM391.57 544.90H394.75V551.05H391.57zM436.93 544.90H440.10V551.05H436.93zM470.18 544.90H473.36V551.05H470.18zM128.54 550.90H131.71V557.05H128.54zM270.64 550.90H273.81V557.05H270.64zM300.87 550.90H304.05V557.05H300.87zM382.50 550.90H385.68V557.05H382.50zM62.02 556.90H65.20V563.05H62.02zM161.80 556.90H164.97V563.05H161.80zM195.05 556.90H198.23V563.05H195.05zM213.19 556.90H216.37V563.05H213.19zM228.31 556.90H231.48V563.05H228.31zM243.43 556.90H246.60V563.05H243.43zM249.47 556.90H252.65V563.05H249.47zM364.36 556.90H367.54V563.05H364.36zM385.53 556.90H388.70V563.05H385.53zM394.60 556.90H397.77V563.05H394.60zM415.76 556.90H418.94V563.05H415.76zM436.93 556.90H443.12V563.05H436.93zM86.21 562.90H89.38V569.05H86.21zM113.42 562.90H119.62V569.05H113.42zM222.26 562.90H225.44V569.05H222.26zM294.83 562.90H298.00V569.05H294.83zM300.87 562.90H304.05V569.05H300.87zM346.22 562.90H349.40V569.05H346.22zM364.36 562.90H367.54V569.05H364.36zM370.41 562.90H373.58V569.05H370.41zM430.88 562.90H434.05V569.05H430.88zM455.07 562.90H458.24V569.05H455.07zM473.21 562.90H476.38V569.05H473.21zM113.42 568.90H116.59V575.05H113.42zM155.75 568.90H158.92V575.05H155.75zM264.59 568.90H267.76V575.05H264.59zM300.87 568.90H304.05V575.05H300.87zM331.11 568.90H334.28V575.05H331.11zM337.15 568.90H340.33V575.05H337.15zM355.29 568.90H358.47V575.05H355.29zM376.46 568.90H379.63V575.05H376.46zM391.57 568.90H394.75V575.05H391.57zM409.71 568.90H412.89V575.05H409.71zM442.97 568.90H446.15V575.05H442.97zM452.04 568.90H458.24V575.05H452.04zM473.21 568.90H476.38V575.05H473.21zM125.51 574.90H128.69V581.05H125.51zM137.61 574.90H140.78V581.05H137.61zM155.75 574.90H158.92V581.05H155.75zM198.08 574.90H204.27V581.05H198.08zM219.24 574.90H222.41V581.05H219.24zM231.33 574.90H234.51V581.05H231.33zM249.47 574.90H252.65V581.05H249.47zM258.54 574.90H261.72V581.05H258.54zM270.64 574.90H273.81V581.05H270.64zM276.69 574.90H279.86V581.05H276.69zM288.78 574.90H291.95V581.05H288.78zM303.90 574.90H307.07V581.05H303.90zM343.20 574.90H346.37V581.05H343.20zM355.29 574.90H358.47V581.05H355.29zM421.81 574.90H424.98V581.05H421.81zM158.77 580.90H161.95V587.05H158.77zM264.59 580.90H267.76V587.05H264.59zM285.76 580.90H288.93V587.05H285.76zM297.85 580.90H301.02V587.05H297.85zM322.04 580.90H325.21V587.05H322.04zM406.69 580.90H409.86V587.05H406.69zM436.93 580.90H440.10V587.05H436.93zM446.00 580.90H449.17V587.05H446.00zM461.11 580.90H467.31V587.05H461.11zM482.28 580.90H485.45V587.05H482.28zM164.82 586.90H167.99V593.05H164.82zM207.15 586.90H210.32V593.05H207.15zM243.43 586.90H246.60V593.05H243.43zM273.66 586.90H276.84V593.05H273.66zM312.97 586.90H316.14V593.05H312.97zM358.32 586.90H361.49V593.05H358.32zM364.36 586.90H367.54V593.05H364.36zM391.57 586.90H394.75V593.05H391.57zM400.64 586.90H403.82V593.05H400.64zM415.76 586.90H418.94V593.05H415.76zM439.95 586.90H443.12V593.05H439.95zM464.14 586.90H470.33V593.05H464.14zM473.21 586.90H476.38V593.05H473.21zM110.40 592.90H113.57V599.05H110.40zM189.01 592.90H192.18V599.05H189.01zM198.08 592.90H201.25V599.05H198.08zM303.90 592.90H307.07V599.05H303.90zM319.01 592.90H322.19V599.05H319.01zM355.29 592.90H358.47V599.05H355.29zM364.36 592.90H367.54V599.05H364.36zM394.60 592.90H397.77V599.05H394.60zM403.67 592.90H409.86V599.05H403.67zM418.79 592.90H421.96V599.05H418.79zM452.04 592.90H455.22V599.05H452.04zM461.11 592.90H464.29V599.05H461.11zM71.09 598.90H74.27V605.05H71.09zM98.30 598.90H101.48V605.05H98.30zM143.66 598.90H146.83V605.05H143.66zM161.80 598.90H167.99V605.05H161.80zM249.47 598.90H252.65V605.05H249.47zM255.52 598.90H258.69V605.05H255.52zM264.59 598.90H267.76V605.05H264.59zM285.76 598.90H291.95V605.05H285.76zM300.87 598.90H304.05V605.05H300.87zM315.99 598.90H319.16V605.05H315.99zM322.04 598.90H325.21V605.05H322.04zM349.25 598.90H352.42V605.05H349.25zM355.29 598.90H358.47V605.05H355.29zM373.43 598.90H376.61V605.05H373.43zM409.71 598.90H412.89V605.05H409.71zM421.81 598.90H428.01V605.05H421.81zM436.93 598.90H440.10V605.05H436.93zM464.14 598.90H467.31V605.05H464.14z" fill="#20e820" shape-rendering="crispEdges"/>
<path d="M62.02 484.90H68.22V491.05H62.02zM77.14 484.90H80.31V491.05H77.14zM92.26 484.90H95.43V491.05H92.26zM98.30 484.90H101.48V491.05H98.30zM110.40 484.90H113.57V491.05H110.40zM119.47 484.90H122.64V491.05H119.47zM125.51 484.90H128.69V491.05H125.51zM134.59 484.90H137.76V491.05H134.59zM140.63 484.90H146.83V491.05H140.63zM155.75 484.90H158.92V491.05H155.75zM164.82 484.90H167.99V491.05H164.82zM173.89 484.90H177.06V491.05H173.89zM189.01 484.90H192.18V491.05H189.01zM198.08 484.90H201.25V491.05H198.08zM204.12 484.90H213.34V491.05H204.12zM219.24 484.90H222.41V491.05H219.24zM225.29 484.90H228.46V491.05H225.29zM231.33 484.90H234.51V491.05H231.33zM237.38 484.90H240.55V491.05H237.38zM243.43 484.90H249.62V491.05H243.43zM294.83 484.90H298.00V491.05H294.83zM312.97 484.90H316.14V491.05H312.97zM379.48 484.90H382.65V491.05H379.48zM385.53 484.90H388.70V491.05H385.53zM452.04 484.90H455.22V491.05H452.04zM461.11 484.90H464.29V491.05H461.11zM62.02 490.90H68.22V497.05H62.02zM77.14 490.90H80.31V497.05H77.14zM92.26 490.90H95.43V497.05H92.26zM98.30 490.90H101.48V497.05H98.30zM110.40 490.90H113.57V497.05H110.40zM119.47 490.90H122.64V497.05H119.47zM125.51 490.90H128.69V497.05H125.51zM134.59 490.90H137.76V497.05H134.59zM140.63 490.90H146.83V497.05H140.63zM155.75 490.90H158.92V497.05H155.75zM164.82 490.90H167.99V497.05H164.82zM173.89 490.90H177.06V497.05H173.89zM189.01 490.90H192.18V497.05H189.01zM198.08 490.90H201.25V497.05H198.08zM204.12 490.90H213.34V497.05H204.12zM219.24 490.90H222.41V497.05H219.24zM225.29 490.90H228.46V497.05H225.29zM231.33 490.90H234.51V497.05H231.33zM237.38 490.90H240.55V497.05H237.38zM243.43 490.90H249.62V497.05H243.43zM306.92 490.90H310.09V497.05H306.92zM340.18 490.90H343.35V497.05H340.18zM394.60 490.90H397.77V497.05H394.60zM452.04 490.90H455.22V497.05H452.04zM461.11 490.90H464.29V497.05H461.11zM74.12 496.90H77.29V503.05H74.12zM89.23 496.90H92.41V503.05H89.23zM98.30 496.90H104.50V503.05H98.30zM113.42 496.90H116.59V503.05H113.42zM119.47 496.90H122.64V503.05H119.47zM131.56 496.90H134.74V503.05H131.56zM137.61 496.90H143.81V503.05H137.61zM149.70 496.90H152.88V503.05H149.70zM155.75 496.90H158.92V503.05H155.75zM161.80 496.90H167.99V503.05H161.80zM173.89 496.90H177.06V503.05H173.89zM185.98 496.90H192.18V503.05H185.98zM195.05 496.90H204.27V503.05H195.05zM207.15 496.90H228.46V503.05H207.15zM231.33 496.90H234.51V503.05H231.33zM237.38 496.90H240.55V503.05H237.38zM243.43 496.90H246.60V503.05H243.43zM249.47 496.90H252.65V503.05H249.47zM285.76 496.90H288.93V503.05H285.76zM300.87 496.90H304.05V503.05H300.87zM306.92 496.90H310.09V503.05H306.92zM328.08 496.90H334.28V503.05H328.08zM337.15 496.90H340.33V503.05H337.15zM376.46 496.90H379.63V503.05H376.46zM382.50 496.90H385.68V503.05H382.50zM62.02 502.90H68.22V509.05H62.02zM71.09 502.90H74.27V509.05H71.09zM77.14 502.90H80.31V509.05H77.14zM86.21 502.90H89.38V509.05H86.21zM92.26 502.90H95.43V509.05H92.26zM101.33 502.90H104.50V509.05H101.33zM119.47 502.90H125.66V509.05H119.47zM128.54 502.90H131.71V509.05H128.54zM137.61 502.90H140.78V509.05H137.61zM149.70 502.90H152.88V509.05H149.70zM161.80 502.90H167.99V509.05H161.80zM173.89 502.90H177.06V509.05H173.89zM179.94 502.90H183.11V509.05H179.94zM192.03 502.90H201.25V509.05H192.03zM204.12 502.90H210.32V509.05H204.12zM213.19 502.90H225.44V509.05H213.19zM231.33 502.90H246.60V509.05H231.33zM279.71 502.90H282.88V509.05H279.71zM285.76 502.90H288.93V509.05H285.76zM291.80 502.90H298.00V509.05H291.80zM300.87 502.90H307.07V509.05H300.87zM312.97 502.90H316.14V509.05H312.97zM325.06 502.90H331.26V509.05H325.06zM337.15 502.90H340.33V509.05H337.15zM343.20 502.90H346.37V509.05H343.20zM376.46 502.90H379.63V509.05H376.46zM59.00 508.90H62.17V515.05H59.00zM83.19 508.90H86.36V515.05H83.19zM89.23 508.90H92.41V515.05H89.23zM104.35 508.90H107.52V515.05H104.35zM122.49 508.90H125.66V515.05H122.49zM131.56 508.90H134.74V515.05H131.56zM137.61 508.90H143.81V515.05H137.61zM149.70 508.90H152.88V515.05H149.70zM161.80 508.90H164.97V515.05H161.80zM167.84 508.90H171.02V515.05H167.84zM173.89 508.90H177.06V515.05H173.89zM185.98 508.90H189.16V515.05H185.98zM198.08 508.90H201.25V515.05H198.08zM204.12 508.90H207.30V515.05H204.12zM210.17 508.90H216.37V515.05H210.17zM222.26 508.90H225.44V515.05H222.26zM228.31 508.90H231.48V515.05H228.31zM240.40 508.90H246.60V515.05H240.40zM270.64 508.90H273.81V515.05H270.64zM288.78 508.90H291.95V515.05H288.78zM315.99 508.90H322.19V515.05H315.99zM325.06 508.90H328.23V515.05H325.06zM104.35 514.90H107.52V521.05H104.35zM122.49 514.90H125.66V521.05H122.49zM137.61 514.90H140.78V521.05H137.61zM143.66 514.90H146.83V521.05H143.66zM149.70 514.90H152.88V521.05H149.70zM164.82 514.90H167.99V521.05H164.82zM176.91 514.90H183.11V521.05H176.91zM185.98 514.90H189.16V521.05H185.98zM192.03 514.90H201.25V521.05H192.03zM213.19 514.90H219.39V521.05H213.19zM222.26 514.90H234.51V521.05H222.26zM237.38 514.90H240.55V521.05H237.38zM303.90 514.90H307.07V521.05H303.90zM309.94 514.90H319.16V521.05H309.94zM397.62 514.90H400.79V521.05H397.62zM403.67 514.90H406.84V521.05H403.67zM83.19 520.90H86.36V527.05H83.19zM104.35 520.90H107.52V527.05H104.35zM122.49 520.90H125.66V527.05H122.49zM131.56 520.90H137.76V527.05H131.56zM140.63 520.90H143.81V527.05H140.63zM149.70 520.90H152.88V527.05H149.70zM164.82 520.90H167.99V527.05H164.82zM192.03 520.90H198.23V527.05H192.03zM204.12 520.90H207.30V527.05H204.12zM210.17 520.90H213.34V527.05H210.17zM219.24 520.90H222.41V527.05H219.24zM228.31 520.90H234.51V527.05H228.31zM243.43 520.90H246.60V527.05H243.43zM255.52 520.90H258.69V527.05H255.52zM261.57 520.90H264.74V527.05H261.57zM315.99 520.90H319.16V527.05H315.99zM400.64 520.90H403.82V527.05H400.64zM62.02 526.90H65.20V533.05H62.02zM68.07 526.90H71.24V533.05H68.07zM80.16 526.90H86.36V533.05H80.16zM89.23 526.90H92.41V533.05H89.23zM107.37 526.90H110.55V533.05H107.37zM125.51 526.90H131.71V533.05H125.51zM134.59 526.90H143.81V533.05H134.59zM149.70 526.90H152.88V533.05H149.70zM158.77 526.90H167.99V533.05H158.77zM170.87 526.90H174.04V533.05H170.87zM176.91 526.90H189.16V533.05H176.91zM195.05 526.90H198.23V533.05H195.05zM201.10 526.90H219.39V533.05H201.10zM222.26 526.90H231.48V533.05H222.26zM240.40 526.90H243.58V533.05H240.40zM249.47 526.90H252.65V533.05H249.47zM319.01 526.90H325.21V533.05H319.01zM343.20 526.90H346.37V533.05H343.20zM352.27 526.90H358.47V533.05H352.27zM373.43 526.90H376.61V533.05H373.43zM385.53 526.90H391.72V533.05H385.53zM442.97 526.90H446.15V533.05H442.97zM482.28 526.90H485.45V533.05H482.28zM59.00 532.90H62.17V539.05H59.00zM68.07 532.90H80.31V539.05H68.07zM83.19 532.90H86.36V539.05H83.19zM92.26 532.90H104.50V539.05H92.26zM107.37 532.90H110.55V539.05H107.37zM122.49 532.90H128.69V539.05H122.49zM137.61 532.90H140.78V539.05H137.61zM143.66 532.90H152.88V539.05H143.66zM155.75 532.90H158.92V539.05H155.75zM170.87 532.90H174.04V539.05H170.87zM176.91 532.90H180.09V539.05H176.91zM182.96 532.90H189.16V539.05H182.96zM192.03 532.90H195.20V539.05H192.03zM198.08 532.90H201.25V539.05H198.08zM207.15 532.90H216.37V539.05H207.15zM225.29 532.90H228.46V539.05H225.29zM234.36 532.90H240.55V539.05H234.36zM243.43 532.90H246.60V539.05H243.43zM252.50 532.90H261.72V539.05H252.50zM415.76 532.90H421.96V539.05H415.76zM427.86 532.90H431.03V539.05H427.86zM452.04 532.90H458.24V539.05H452.04zM467.16 532.90H470.33V539.05H467.16zM476.23 532.90H479.40V539.05H476.23zM482.28 532.90H485.45V539.05H482.28zM65.05 538.90H68.22V545.05H65.05zM74.12 538.90H77.29V545.05H74.12zM83.19 538.90H86.36V545.05H83.19zM95.28 538.90H98.45V545.05H95.28zM101.33 538.90H104.50V545.05H101.33zM107.37 538.90H110.55V545.05H107.37zM116.44 538.90H119.62V545.05H116.44zM122.49 538.90H128.69V545.05H122.49zM131.56 538.90H134.74V545.05H131.56zM143.66 538.90H149.85V545.05H143.66zM167.84 538.90H174.04V545.05H167.84zM179.94 538.90H183.11V545.05H179.94zM192.03 538.90H195.20V545.05H192.03zM198.08 538.90H204.27V545.05H198.08zM207.15 538.90H210.32V545.05H207.15zM213.19 538.90H216.37V545.05H213.19zM219.24 538.90H234.51V545.05H219.24zM237.38 538.90H243.58V545.05H237.38zM246.45 538.90H249.62V545.05H246.45zM255.52 538.90H264.74V545.05H255.52zM418.79 538.90H428.01V545.05H418.79zM458.09 538.90H470.33V545.05H458.09zM473.21 538.90H476.38V545.05H473.21zM479.25 538.90H482.43V545.05H479.25zM59.00 544.90H62.17V551.05H59.00zM77.14 544.90H80.31V551.05H77.14zM98.30 544.90H104.50V551.05H98.30zM113.42 544.90H116.59V551.05H113.42zM125.51 544.90H128.69V551.05H125.51zM131.56 544.90H134.74V551.05H131.56zM137.61 544.90H140.78V551.05H137.61zM143.66 544.90H146.83V551.05H143.66zM152.73 544.90H155.90V551.05H152.73zM170.87 544.90H174.04V551.05H170.87zM179.94 544.90H183.11V551.05H179.94zM189.01 544.90H195.20V551.05H189.01zM201.10 544.90H204.27V551.05H201.10zM210.17 544.90H216.37V551.05H210.17zM222.26 544.90H228.46V551.05H222.26zM234.36 544.90H240.55V551.05H234.36zM243.43 544.90H246.60V551.05H243.43zM261.57 544.90H264.74V551.05H261.57zM285.76 544.90H288.93V551.05H285.76zM291.80 544.90H294.98V551.05H291.80zM319.01 544.90H325.21V551.05H319.01zM328.08 544.90H331.26V551.05H328.08zM400.64 544.90H403.82V551.05H400.64zM415.76 544.90H418.94V551.05H415.76zM421.81 544.90H431.03V551.05H421.81zM461.11 544.90H464.29V551.05H461.11zM482.28 544.90H485.45V551.05H482.28zM59.00 550.90H62.17V557.05H59.00zM77.14 550.90H80.31V557.05H77.14zM83.19 550.90H86.36V557.05H83.19zM95.28 550.90H98.45V557.05H95.28zM137.61 550.90H140.78V557.05H137.61zM146.68 550.90H149.85V557.05H146.68zM155.75 550.90H158.92V557.05H155.75zM179.94 550.90H189.16V557.05H179.94zM192.03 550.90H201.25V557.05H192.03zM207.15 550.90H216.37V557.05H207.15zM219.24 550.90H222.41V557.05H219.24zM225.29 550.90H228.46V557.05H225.29zM234.36 550.90H237.53V557.05H234.36zM240.40 550.90H243.58V557.05H240.40zM246.45 550.90H252.65V557.05H246.45zM282.73 550.90H285.91V557.05H282.73zM288.78 550.90H291.95V557.05H288.78zM294.83 550.90H298.00V557.05H294.83zM309.94 550.90H313.12V557.05H309.94zM315.99 550.90H319.16V557.05H315.99zM418.79 550.90H428.01V557.05H418.79zM455.07 550.90H458.24V557.05H455.07zM461.11 550.90H464.29V557.05H461.11zM482.28 550.90H485.45V557.05H482.28zM68.07 556.90H71.24V563.05H68.07zM80.16 556.90H83.34V563.05H80.16zM86.21 556.90H89.38V563.05H86.21zM95.28 556.90H101.48V563.05H95.28zM128.54 556.90H140.78V563.05H128.54zM146.68 556.90H149.85V563.05H146.68zM155.75 556.90H158.92V563.05H155.75zM164.82 556.90H167.99V563.05H164.82zM189.01 556.90H195.20V563.05H189.01zM198.08 556.90H201.25V563.05H198.08zM207.15 556.90H210.32V563.05H207.15zM216.22 556.90H219.39V563.05H216.22zM225.29 556.90H228.46V563.05H225.29zM234.36 556.90H243.58V563.05H234.36zM252.50 556.90H255.67V563.05H252.50zM267.61 556.90H279.86V563.05H267.61zM294.83 556.90H298.00V563.05H294.83zM397.62 556.90H403.82V563.05H397.62zM406.69 556.90H409.86V563.05H406.69zM418.79 556.90H421.96V563.05H418.79zM464.14 556.90H467.31V563.05H464.14zM482.28 556.90H485.45V563.05H482.28zM68.07 562.90H71.24V569.05H68.07zM74.12 562.90H77.29V569.05H74.12zM80.16 562.90H83.34V569.05H80.16zM89.23 562.90H98.45V569.05H89.23zM101.33 562.90H113.57V569.05H101.33zM119.47 562.90H122.64V569.05H119.47zM128.54 562.90H131.71V569.05H128.54zM134.59 562.90H137.76V569.05H134.59zM140.63 562.90H143.81V569.05H140.63zM158.77 562.90H167.99V569.05H158.77zM173.89 562.90H177.06V569.05H173.89zM189.01 562.90H192.18V569.05H189.01zM201.10 562.90H207.30V569.05H201.10zM210.17 562.90H219.39V569.05H210.17zM225.29 562.90H231.48V569.05H225.29zM234.36 562.90H237.53V569.05H234.36zM243.43 562.90H246.60V569.05H243.43zM252.50 562.90H258.69V569.05H252.50zM273.66 562.90H279.86V569.05H273.66zM291.80 562.90H294.98V569.05H291.80zM303.90 562.90H313.12V569.05H303.90zM403.67 562.90H409.86V569.05H403.67zM418.79 562.90H421.96V569.05H418.79zM464.14 562.90H467.31V569.05H464.14zM59.00 568.90H62.17V575.05H59.00zM68.07 568.90H71.24V575.05H68.07zM77.14 568.90H80.31V575.05H77.14zM92.26 568.90H98.45V575.05H92.26zM101.33 568.90H107.52V575.05H101.33zM116.44 568.90H119.62V575.05H116.44zM125.51 568.90H128.69V575.05H125.51zM131.56 568.90H134.74V575.05H131.56zM137.61 568.90H140.78V575.05H137.61zM146.68 568.90H149.85V575.05H146.68zM158.77 568.90H161.95V575.05H158.77zM170.87 568.90H174.04V575.05H170.87zM185.98 568.90H189.16V575.05H185.98zM192.03 568.90H207.30V575.05H192.03zM210.17 568.90H222.41V575.05H210.17zM225.29 568.90H228.46V575.05H225.29zM231.33 568.90H246.60V575.05H231.33zM285.76 568.90H288.93V575.05H285.76zM412.74 568.90H415.91V575.05H412.74zM418.79 568.90H421.96V575.05H418.79zM433.90 568.90H437.08V575.05H433.90zM439.95 568.90H443.12V575.05H439.95zM446.00 568.90H449.17V575.05H446.00zM464.14 568.90H467.31V575.05H464.14zM482.28 568.90H485.45V575.05H482.28zM62.02 574.90H65.20V581.05H62.02zM71.09 574.90H74.27V581.05H71.09zM80.16 574.90H83.34V581.05H80.16zM98.30 574.90H104.50V581.05H98.30zM110.40 574.90H116.59V581.05H110.40zM128.54 574.90H131.71V581.05H128.54zM134.59 574.90H137.76V581.05H134.59zM140.63 574.90H143.81V581.05H140.63zM149.70 574.90H152.88V581.05H149.70zM158.77 574.90H167.99V581.05H158.77zM173.89 574.90H177.06V581.05H173.89zM182.96 574.90H186.13V581.05H182.96zM189.01 574.90H192.18V581.05H189.01zM195.05 574.90H198.23V581.05H195.05zM207.15 574.90H213.34V581.05H207.15zM222.26 574.90H231.48V581.05H222.26zM237.38 574.90H240.55V581.05H237.38zM243.43 574.90H246.60V581.05H243.43zM285.76 574.90H288.93V581.05H285.76zM312.97 574.90H316.14V581.05H312.97zM328.08 574.90H331.26V581.05H328.08zM340.18 574.90H343.35V581.05H340.18zM361.34 574.90H367.54V581.05H361.34zM382.50 574.90H388.70V581.05H382.50zM418.79 574.90H421.96V581.05H418.79zM433.90 574.90H437.08V581.05H433.90zM68.07 580.90H74.27V587.05H68.07zM83.19 580.90H86.36V587.05H83.19zM89.23 580.90H92.41V587.05H89.23zM95.28 580.90H98.45V587.05H95.28zM104.35 580.90H107.52V587.05H104.35zM116.44 580.90H119.62V587.05H116.44zM122.49 580.90H125.66V587.05H122.49zM128.54 580.90H131.71V587.05H128.54zM146.68 580.90H155.90V587.05H146.68zM164.82 580.90H167.99V587.05H164.82zM189.01 580.90H192.18V587.05H189.01zM195.05 580.90H201.25V587.05H195.05zM204.12 580.90H213.34V587.05H204.12zM216.22 580.90H240.55V587.05H216.22zM246.45 580.90H249.62V587.05H246.45zM282.73 580.90H285.91V587.05H282.73zM288.78 580.90H291.95V587.05H288.78zM294.83 580.90H298.00V587.05H294.83zM312.97 580.90H316.14V587.05H312.97zM325.06 580.90H328.23V587.05H325.06zM343.20 580.90H346.37V587.05H343.20zM355.29 580.90H358.47V587.05H355.29zM364.36 580.90H367.54V587.05H364.36zM370.41 580.90H373.58V587.05H370.41zM376.46 580.90H379.63V587.05H376.46zM385.53 580.90H388.70V587.05H385.53zM59.00 586.90H62.17V593.05H59.00zM71.09 586.90H74.27V593.05H71.09zM80.16 586.90H83.34V593.05H80.16zM92.26 586.90H95.43V593.05H92.26zM98.30 586.90H104.50V593.05H98.30zM116.44 586.90H119.62V593.05H116.44zM125.51 586.90H131.71V593.05H125.51zM134.59 586.90H137.76V593.05H134.59zM143.66 586.90H149.85V593.05H143.66zM155.75 586.90H161.95V593.05H155.75zM167.84 586.90H171.02V593.05H167.84zM185.98 586.90H201.25V593.05H185.98zM204.12 586.90H207.30V593.05H204.12zM210.17 586.90H225.44V593.05H210.17zM228.31 586.90H237.53V593.05H228.31zM246.45 586.90H249.62V593.05H246.45zM252.50 586.90H258.69V593.05H252.50zM282.73 586.90H285.91V593.05H282.73zM291.80 586.90H294.98V593.05H291.80zM297.85 586.90H301.02V593.05H297.85zM322.04 586.90H325.21V593.05H322.04zM346.22 586.90H349.40V593.05H346.22zM355.29 586.90H358.47V593.05H355.29zM367.39 586.90H370.56V593.05H367.39zM373.43 586.90H385.68V593.05H373.43zM62.02 592.90H65.20V599.05H62.02zM71.09 592.90H74.27V599.05H71.09zM80.16 592.90H83.34V599.05H80.16zM92.26 592.90H95.43V599.05H92.26zM98.30 592.90H101.48V599.05H98.30zM107.37 592.90H110.55V599.05H107.37zM122.49 592.90H125.66V599.05H122.49zM128.54 592.90H131.71V599.05H128.54zM134.59 592.90H140.78V599.05H134.59zM143.66 592.90H146.83V599.05H143.66zM152.73 592.90H155.90V599.05H152.73zM158.77 592.90H161.95V599.05H158.77zM167.84 592.90H174.04V599.05H167.84zM176.91 592.90H189.16V599.05H176.91zM192.03 592.90H198.23V599.05H192.03zM201.10 592.90H204.27V599.05H201.10zM207.15 592.90H216.37V599.05H207.15zM219.24 592.90H225.44V599.05H219.24zM228.31 592.90H258.69V599.05H228.31zM294.83 592.90H298.00V599.05H294.83zM325.06 592.90H331.26V599.05H325.06zM343.20 592.90H349.40V599.05H343.20zM382.50 592.90H385.68V599.05H382.50zM482.28 592.90H485.45V599.05H482.28zM59.00 598.90H62.17V605.05H59.00zM74.12 598.90H77.29V605.05H74.12zM86.21 598.90H89.38V605.05H86.21zM92.26 598.90H98.45V605.05H92.26zM104.35 598.90H107.52V605.05H104.35zM119.47 598.90H122.64V605.05H119.47zM125.51 598.90H128.69V605.05H125.51zM131.56 598.90H134.74V605.05H131.56zM137.61 598.90H143.81V605.05H137.61zM146.68 598.90H155.90V605.05H146.68zM158.77 598.90H161.95V605.05H158.77zM167.84 598.90H174.04V605.05H167.84zM176.91 598.90H180.09V605.05H176.91zM182.96 598.90H186.13V605.05H182.96zM189.01 598.90H195.20V605.05H189.01zM201.10 598.90H207.30V605.05H201.10zM210.17 598.90H219.39V605.05H210.17zM225.29 598.90H231.48V605.05H225.29zM234.36 598.90H249.62V605.05H234.36zM252.50 598.90H255.67V605.05H252.50zM328.08 598.90H334.28V605.05H328.08zM340.18 598.90H343.35V605.05H340.18zM382.50 598.90H388.70V605.05H382.50zM394.60 598.90H397.77V605.05H394.60zM452.04 598.90H455.22V605.05H452.04zM476.23 598.90H485.45V605.05H476.23z" fill="#060606" shape-rendering="crispEdges"/>
<path d="M80.16 484.90H83.34V491.05H80.16zM122.49 484.90H125.66V491.05H122.49zM158.77 484.90H161.95V491.05H158.77zM167.84 484.90H171.02V491.05H167.84zM182.96 484.90H189.16V491.05H182.96zM192.03 484.90H195.20V491.05H192.03zM213.19 484.90H216.37V491.05H213.19zM222.26 484.90H225.44V491.05H222.26zM228.31 484.90H231.48V491.05H228.31zM382.50 484.90H385.68V491.05H382.50zM458.09 484.90H461.26V491.05H458.09zM80.16 490.90H83.34V497.05H80.16zM122.49 490.90H125.66V497.05H122.49zM158.77 490.90H161.95V497.05H158.77zM167.84 490.90H171.02V497.05H167.84zM182.96 490.90H189.16V497.05H182.96zM192.03 490.90H195.20V497.05H192.03zM213.19 490.90H216.37V497.05H213.19zM222.26 490.90H225.44V497.05H222.26zM228.31 490.90H231.48V497.05H228.31zM382.50 490.90H385.68V497.05H382.50zM458.09 490.90H461.26V497.05H458.09zM68.07 496.90H71.24V503.05H68.07zM116.44 496.90H119.62V503.05H116.44zM143.66 496.90H146.83V503.05H143.66zM182.96 496.90H186.13V503.05H182.96zM192.03 496.90H195.20V503.05H192.03zM204.12 496.90H207.30V503.05H204.12zM228.31 496.90H231.48V503.05H228.31zM234.36 496.90H237.53V503.05H234.36zM240.40 496.90H243.58V503.05H240.40zM252.50 496.90H255.67V503.05H252.50zM355.29 496.90H358.47V503.05H355.29zM201.10 502.90H204.27V509.05H201.10zM210.17 502.90H213.34V509.05H210.17zM225.29 502.90H228.46V509.05H225.29zM134.59 508.90H137.76V515.05H134.59zM146.68 508.90H149.85V515.05H146.68zM152.73 508.90H155.90V515.05H152.73zM170.87 508.90H174.04V515.05H170.87zM231.33 508.90H234.51V515.05H231.33zM340.18 508.90H343.35V515.05H340.18zM68.07 514.90H71.24V521.05H68.07zM92.26 514.90H95.43V521.05H92.26zM110.40 514.90H113.57V521.05H110.40zM155.75 514.90H158.92V521.05H155.75zM349.25 514.90H352.42V521.05H349.25zM71.09 520.90H74.27V527.05H71.09zM80.16 520.90H83.34V527.05H80.16zM116.44 520.90H119.62V527.05H116.44zM152.73 520.90H158.92V527.05H152.73zM179.94 520.90H183.11V527.05H179.94zM237.38 520.90H243.58V527.05H237.38zM258.54 520.90H261.72V527.05H258.54zM264.59 520.90H267.76V527.05H264.59zM300.87 520.90H304.05V527.05H300.87zM346.22 520.90H349.40V527.05H346.22zM370.41 520.90H373.58V527.05H370.41zM397.62 520.90H400.79V527.05H397.62zM415.76 520.90H418.94V527.05H415.76zM430.88 520.90H434.05V527.05H430.88zM442.97 520.90H446.15V527.05H442.97zM59.00 526.90H62.17V533.05H59.00zM71.09 526.90H74.27V533.05H71.09zM95.28 526.90H98.45V533.05H95.28zM131.56 526.90H134.74V533.05H131.56zM173.89 526.90H177.06V533.05H173.89zM119.47 532.90H122.64V539.05H119.47zM128.54 532.90H131.71V539.05H128.54zM337.15 532.90H340.33V539.05H337.15zM349.25 532.90H352.42V539.05H349.25zM391.57 538.90H394.75V545.05H391.57zM446.00 538.90H449.17V545.05H446.00zM452.04 538.90H455.22V545.05H452.04zM128.54 544.90H131.71V551.05H128.54zM140.63 544.90H143.81V551.05H140.63zM185.98 544.90H189.16V551.05H185.98zM207.15 544.90H210.32V551.05H207.15zM240.40 544.90H243.58V551.05H240.40zM312.97 544.90H316.14V551.05H312.97zM382.50 544.90H385.68V551.05H382.50zM409.71 544.90H412.89V551.05H409.71zM446.00 544.90H449.17V551.05H446.00zM176.91 550.90H180.09V557.05H176.91zM237.38 550.90H240.55V557.05H237.38zM264.59 550.90H267.76V557.05H264.59zM319.01 550.90H322.19V557.05H319.01zM328.08 550.90H331.26V557.05H328.08zM337.15 550.90H340.33V557.05H337.15zM376.46 550.90H379.63V557.05H376.46zM409.71 550.90H412.89V557.05H409.71zM446.00 550.90H452.19V557.05H446.00zM467.16 550.90H470.33V557.05H467.16zM473.21 550.90H476.38V557.05H473.21zM65.05 556.90H68.22V563.05H65.05zM77.14 556.90H80.31V563.05H77.14zM204.12 556.90H207.30V563.05H204.12zM285.76 556.90H288.93V563.05H285.76zM319.01 556.90H322.19V563.05H319.01zM343.20 556.90H349.40V563.05H343.20zM367.39 556.90H370.56V563.05H367.39zM382.50 556.90H385.68V563.05H382.50zM476.23 556.90H479.40V563.05H476.23zM170.87 562.90H174.04V569.05H170.87zM176.91 562.90H180.09V569.05H176.91zM231.33 562.90H234.51V569.05H231.33zM282.73 562.90H285.91V569.05H282.73zM315.99 562.90H319.16V569.05H315.99zM337.15 562.90H340.33V569.05H337.15zM343.20 562.90H346.37V569.05H343.20zM355.29 562.90H358.47V569.05H355.29zM376.46 562.90H379.63V569.05H376.46zM427.86 562.90H431.03V569.05H427.86zM152.73 568.90H155.90V575.05H152.73zM173.89 568.90H177.06V575.05H173.89zM222.26 568.90H225.44V575.05H222.26zM319.01 568.90H322.19V575.05H319.01zM476.23 568.90H479.40V575.05H476.23zM152.73 574.90H155.90V581.05H152.73zM170.87 574.90H174.04V581.05H170.87zM176.91 574.90H180.09V581.05H176.91zM192.03 574.90H195.20V581.05H192.03zM204.12 574.90H207.30V581.05H204.12zM234.36 574.90H237.53V581.05H234.36zM255.52 574.90H258.69V581.05H255.52zM349.25 574.90H352.42V581.05H349.25zM370.41 574.90H376.61V581.05H370.41zM388.55 574.90H391.72V581.05H388.55zM400.64 574.90H403.82V581.05H400.64zM98.30 580.90H101.48V587.05H98.30zM182.96 580.90H186.13V587.05H182.96zM240.40 580.90H243.58V587.05H240.40zM249.47 580.90H252.65V587.05H249.47zM273.66 580.90H276.84V587.05H273.66zM346.22 580.90H349.40V587.05H346.22zM400.64 580.90H403.82V587.05H400.64zM427.86 580.90H431.03V587.05H427.86zM449.02 580.90H452.19V587.05H449.02zM258.54 586.90H261.72V593.05H258.54zM455.07 586.90H458.24V593.05H455.07zM216.22 592.90H219.39V599.05H216.22zM267.61 592.90H270.79V599.05H267.61zM273.66 592.90H276.84V599.05H273.66zM309.94 592.90H313.12V599.05H309.94zM349.25 592.90H352.42V599.05H349.25zM370.41 592.90H373.58V599.05H370.41zM385.53 592.90H388.70V599.05H385.53zM415.76 592.90H418.94V599.05H415.76zM433.90 592.90H437.08V599.05H433.90zM442.97 592.90H446.15V599.05H442.97zM467.16 592.90H470.33V599.05H467.16zM479.25 592.90H482.43V599.05H479.25zM122.49 598.90H125.66V605.05H122.49zM222.26 598.90H225.44V605.05H222.26z" fill="#14a814" shape-rendering="crispEdges"/>
<path d="M86.21 484.90H89.38V491.05H86.21zM201.10 484.90H204.27V491.05H201.10zM252.50 484.90H258.69V491.05H252.50zM264.59 484.90H267.76V491.05H264.59zM273.66 484.90H276.84V491.05H273.66zM282.73 484.90H285.91V491.05H282.73zM288.78 484.90H294.98V491.05H288.78zM319.01 484.90H322.19V491.05H319.01zM325.06 484.90H331.26V491.05H325.06zM334.13 484.90H340.33V491.05H334.13zM400.64 484.90H403.82V491.05H400.64zM86.21 490.90H89.38V497.05H86.21zM201.10 490.90H204.27V497.05H201.10zM252.50 490.90H258.69V497.05H252.50zM264.59 490.90H267.76V497.05H264.59zM273.66 490.90H276.84V497.05H273.66zM282.73 490.90H285.91V497.05H282.73zM288.78 490.90H298.00V497.05H288.78zM300.87 490.90H304.05V497.05H300.87zM312.97 490.90H316.14V497.05H312.97zM319.01 490.90H322.19V497.05H319.01zM325.06 490.90H331.26V497.05H325.06zM334.13 490.90H340.33V497.05H334.13zM379.48 490.90H382.65V497.05H379.48zM385.53 490.90H388.70V497.05H385.53zM400.64 490.90H403.82V497.05H400.64zM122.49 496.90H125.66V503.05H122.49zM152.73 496.90H155.90V503.05H152.73zM167.84 496.90H171.02V503.05H167.84zM258.54 496.90H264.74V503.05H258.54zM267.61 496.90H273.81V503.05H267.61zM276.69 496.90H279.86V503.05H276.69zM319.01 496.90H325.21V503.05H319.01zM59.00 502.90H62.17V509.05H59.00zM80.16 502.90H86.36V509.05H80.16zM89.23 502.90H92.41V509.05H89.23zM95.28 502.90H101.48V509.05H95.28zM104.35 502.90H107.52V509.05H104.35zM110.40 502.90H113.57V509.05H110.40zM125.51 502.90H128.69V509.05H125.51zM134.59 502.90H137.76V509.05H134.59zM140.63 502.90H143.81V509.05H140.63zM146.68 502.90H149.85V509.05H146.68zM152.73 502.90H155.90V509.05H152.73zM158.77 502.90H161.95V509.05H158.77zM167.84 502.90H174.04V509.05H167.84zM176.91 502.90H180.09V509.05H176.91zM189.01 502.90H192.18V509.05H189.01zM246.45 502.90H255.67V509.05H246.45zM264.59 502.90H267.76V509.05H264.59zM270.64 502.90H276.84V509.05H270.64zM309.94 502.90H313.12V509.05H309.94zM319.01 502.90H325.21V509.05H319.01zM101.33 508.90H104.50V515.05H101.33zM201.10 508.90H204.27V515.05H201.10zM246.45 508.90H249.62V515.05H246.45zM255.52 508.90H267.76V515.05H255.52zM282.73 508.90H285.91V515.05H282.73zM146.68 514.90H149.85V521.05H146.68zM161.80 514.90H164.97V521.05H161.80zM173.89 514.90H177.06V521.05H173.89zM240.40 514.90H243.58V521.05H240.40zM246.45 514.90H252.65V521.05H246.45zM264.59 514.90H282.88V521.05H264.59zM65.05 520.90H68.22V527.05H65.05zM74.12 520.90H77.29V527.05H74.12zM86.21 520.90H89.38V527.05H86.21zM92.26 520.90H95.43V527.05H92.26zM98.30 520.90H104.50V527.05H98.30zM113.42 520.90H116.59V527.05H113.42zM125.51 520.90H128.69V527.05H125.51zM137.61 520.90H140.78V527.05H137.61zM146.68 520.90H149.85V527.05H146.68zM176.91 520.90H180.09V527.05H176.91zM198.08 520.90H201.25V527.05H198.08zM207.15 520.90H210.32V527.05H207.15zM222.26 520.90H225.44V527.05H222.26zM249.47 520.90H252.65V527.05H249.47zM267.61 520.90H270.79V527.05H267.61zM279.71 520.90H282.88V527.05H279.71zM285.76 520.90H288.93V527.05H285.76zM291.80 520.90H301.02V527.05H291.80zM303.90 520.90H310.09V527.05H303.90zM312.97 520.90H316.14V527.05H312.97zM152.73 526.90H155.90V533.05H152.73zM189.01 526.90H192.18V533.05H189.01zM219.24 526.90H222.41V533.05H219.24zM246.45 526.90H249.62V533.05H246.45zM252.50 526.90H279.86V533.05H252.50zM282.73 526.90H285.91V533.05H282.73zM291.80 526.90H294.98V533.05H291.80zM300.87 526.90H307.07V533.05H300.87zM309.94 526.90H319.16V533.05H309.94zM349.25 526.90H352.42V533.05H349.25zM361.34 526.90H373.58V533.05H361.34zM391.57 526.90H412.89V533.05H391.57zM436.93 526.90H440.10V533.05H436.93zM62.02 532.90H65.20V539.05H62.02zM116.44 532.90H119.62V539.05H116.44zM173.89 532.90H177.06V539.05H173.89zM249.47 532.90H252.65V539.05H249.47zM264.59 532.90H270.79V539.05H264.59zM273.66 532.90H276.84V539.05H273.66zM279.71 532.90H282.88V539.05H279.71zM285.76 532.90H288.93V539.05H285.76zM291.80 532.90H298.00V539.05H291.80zM300.87 532.90H313.12V539.05H300.87zM319.01 532.90H325.21V539.05H319.01zM331.11 532.90H337.30V539.05H331.11zM340.18 532.90H349.40V539.05H340.18zM352.27 532.90H355.44V539.05H352.27zM358.32 532.90H364.51V539.05H358.32zM373.43 532.90H376.61V539.05H373.43zM379.48 532.90H385.68V539.05H379.48zM388.55 532.90H394.75V539.05H388.55zM397.62 532.90H403.82V539.05H397.62zM409.71 532.90H412.89V539.05H409.71zM424.83 532.90H428.01V539.05H424.83zM433.90 532.90H437.08V539.05H433.90zM439.95 532.90H449.17V539.05H439.95zM479.25 532.90H482.43V539.05H479.25zM71.09 538.90H74.27V545.05H71.09zM264.59 538.90H270.79V545.05H264.59zM273.66 538.90H282.88V545.05H273.66zM285.76 538.90H307.07V545.05H285.76zM309.94 538.90H322.19V545.05H309.94zM325.06 538.90H337.30V545.05H325.06zM340.18 538.90H346.37V545.05H340.18zM349.25 538.90H358.47V545.05H349.25zM361.34 538.90H367.54V545.05H361.34zM370.41 538.90H376.61V545.05H370.41zM379.48 538.90H382.65V545.05H379.48zM388.55 538.90H391.72V545.05H388.55zM394.60 538.90H406.84V545.05H394.60zM409.71 538.90H418.94V545.05H409.71zM427.86 538.90H437.08V545.05H427.86zM439.95 538.90H446.15V545.05H439.95zM449.02 538.90H452.19V545.05H449.02zM455.07 538.90H458.24V545.05H455.07zM470.18 538.90H473.36V545.05H470.18zM267.61 544.90H273.81V551.05H267.61zM276.69 544.90H282.88V551.05H276.69zM288.78 544.90H291.95V551.05H288.78zM294.83 544.90H301.02V551.05H294.83zM303.90 544.90H310.09V551.05H303.90zM325.06 544.90H328.23V551.05H325.06zM331.11 544.90H337.30V551.05H331.11zM340.18 544.90H346.37V551.05H340.18zM349.25 544.90H361.49V551.05H349.25zM364.36 544.90H367.54V551.05H364.36zM370.41 544.90H382.65V551.05H370.41zM388.55 544.90H391.72V551.05H388.55zM394.60 544.90H400.79V551.05H394.60zM406.69 544.90H409.86V551.05H406.69zM412.74 544.90H415.91V551.05H412.74zM430.88 544.90H437.08V551.05H430.88zM439.95 544.90H446.15V551.05H439.95zM449.02 544.90H458.24V551.05H449.02zM464.14 544.90H470.33V551.05H464.14zM473.21 544.90H476.38V551.05H473.21zM479.25 544.90H482.43V551.05H479.25zM267.61 550.90H270.79V557.05H267.61zM273.66 550.90H279.86V557.05H273.66zM303.90 550.90H310.09V557.05H303.90zM312.97 550.90H316.14V557.05H312.97zM322.04 550.90H328.23V557.05H322.04zM331.11 550.90H334.28V557.05H331.11zM340.18 550.90H343.35V557.05H340.18zM346.22 550.90H355.44V557.05H346.22zM358.32 550.90H364.51V557.05H358.32zM367.39 550.90H373.58V557.05H367.39zM379.48 550.90H382.65V557.05H379.48zM385.53 550.90H394.75V557.05H385.53zM397.62 550.90H406.84V557.05H397.62zM412.74 550.90H418.94V557.05H412.74zM430.88 550.90H440.10V557.05H430.88zM442.97 550.90H446.15V557.05H442.97zM452.04 550.90H455.22V557.05H452.04zM464.14 550.90H467.31V557.05H464.14zM470.18 550.90H473.36V557.05H470.18zM476.23 550.90H482.43V557.05H476.23zM74.12 556.90H77.29V563.05H74.12zM140.63 556.90H143.81V563.05H140.63zM279.71 556.90H282.88V563.05H279.71zM297.85 556.90H304.05V563.05H297.85zM306.92 556.90H310.09V563.05H306.92zM312.97 556.90H316.14V563.05H312.97zM325.06 556.90H328.23V563.05H325.06zM331.11 556.90H337.30V563.05H331.11zM340.18 556.90H343.35V563.05H340.18zM355.29 556.90H358.47V563.05H355.29zM361.34 556.90H364.51V563.05H361.34zM370.41 556.90H382.65V563.05H370.41zM388.55 556.90H394.75V563.05H388.55zM409.71 556.90H415.91V563.05H409.71zM421.81 556.90H428.01V563.05H421.81zM430.88 556.90H437.08V563.05H430.88zM442.97 556.90H464.29V563.05H442.97zM470.18 556.90H473.36V563.05H470.18zM249.47 562.90H252.65V569.05H249.47zM279.71 562.90H282.88V569.05H279.71zM297.85 562.90H301.02V569.05H297.85zM312.97 562.90H316.14V569.05H312.97zM319.01 562.90H328.23V569.05H319.01zM331.11 562.90H337.30V569.05H331.11zM340.18 562.90H343.35V569.05H340.18zM352.27 562.90H355.44V569.05H352.27zM358.32 562.90H364.51V569.05H358.32zM367.39 562.90H370.56V569.05H367.39zM373.43 562.90H376.61V569.05H373.43zM379.48 562.90H400.79V569.05H379.48zM409.71 562.90H418.94V569.05H409.71zM421.81 562.90H428.01V569.05H421.81zM433.90 562.90H455.22V569.05H433.90zM458.09 562.90H464.29V569.05H458.09zM467.16 562.90H473.36V569.05H467.16zM476.23 562.90H485.45V569.05H476.23zM249.47 568.90H258.69V575.05H249.47zM261.57 568.90H264.74V575.05H261.57zM267.61 568.90H273.81V575.05H267.61zM276.69 568.90H285.91V575.05H276.69zM288.78 568.90H301.02V575.05H288.78zM303.90 568.90H310.09V575.05H303.90zM312.97 568.90H319.16V575.05H312.97zM322.04 568.90H331.26V575.05H322.04zM334.13 568.90H337.30V575.05H334.13zM340.18 568.90H355.44V575.05H340.18zM361.34 568.90H376.61V575.05H361.34zM379.48 568.90H391.72V575.05H379.48zM394.60 568.90H400.79V575.05H394.60zM403.67 568.90H409.86V575.05H403.67zM415.76 568.90H418.94V575.05H415.76zM421.81 568.90H428.01V575.05H421.81zM430.88 568.90H434.05V575.05H430.88zM436.93 568.90H440.10V575.05H436.93zM449.02 568.90H452.19V575.05H449.02zM458.09 568.90H461.26V575.05H458.09zM467.16 568.90H473.36V575.05H467.16zM479.25 568.90H482.43V575.05H479.25zM59.00 574.90H62.17V581.05H59.00zM246.45 574.90H249.62V581.05H246.45zM252.50 574.90H255.67V581.05H252.50zM261.57 574.90H270.79V581.05H261.57zM273.66 574.90H276.84V581.05H273.66zM279.71 574.90H282.88V581.05H279.71zM291.80 574.90H304.05V581.05H291.80zM306.92 574.90H310.09V581.05H306.92zM319.01 574.90H325.21V581.05H319.01zM346.22 574.90H349.40V581.05H346.22zM352.27 574.90H355.44V581.05H352.27zM376.46 574.90H379.63V581.05H376.46zM391.57 574.90H400.79V581.05H391.57zM403.67 574.90H418.94V581.05H403.67zM424.83 574.90H428.01V581.05H424.83zM430.88 574.90H434.05V581.05H430.88zM436.93 574.90H440.10V581.05H436.93zM442.97 574.90H452.19V581.05H442.97zM455.07 574.90H470.33V581.05H455.07zM473.21 574.90H485.45V581.05H473.21zM255.52 580.90H264.74V587.05H255.52zM267.61 580.90H273.81V587.05H267.61zM276.69 580.90H279.86V587.05H276.69zM300.87 580.90H313.12V587.05H300.87zM315.99 580.90H319.16V587.05H315.99zM349.25 580.90H355.44V587.05H349.25zM358.32 580.90H361.49V587.05H358.32zM388.55 580.90H400.79V587.05H388.55zM403.67 580.90H406.84V587.05H403.67zM409.71 580.90H428.01V587.05H409.71zM430.88 580.90H437.08V587.05H430.88zM439.95 580.90H446.15V587.05H439.95zM452.04 580.90H461.26V587.05H452.04zM467.16 580.90H482.43V587.05H467.16zM261.57 586.90H273.81V593.05H261.57zM276.69 586.90H282.88V593.05H276.69zM303.90 586.90H313.12V593.05H303.90zM315.99 586.90H322.19V593.05H315.99zM349.25 586.90H352.42V593.05H349.25zM370.41 586.90H373.58V593.05H370.41zM388.55 586.90H391.72V593.05H388.55zM394.60 586.90H400.79V593.05H394.60zM403.67 586.90H415.91V593.05H403.67zM418.79 586.90H421.96V593.05H418.79zM424.83 586.90H434.05V593.05H424.83zM436.93 586.90H440.10V593.05H436.93zM442.97 586.90H455.22V593.05H442.97zM458.09 586.90H464.29V593.05H458.09zM470.18 586.90H473.36V593.05H470.18zM476.23 586.90H485.45V593.05H476.23zM258.54 592.90H267.76V599.05H258.54zM270.64 592.90H273.81V599.05H270.64zM276.69 592.90H294.98V599.05H276.69zM297.85 592.90H304.05V599.05H297.85zM306.92 592.90H310.09V599.05H306.92zM312.97 592.90H319.16V599.05H312.97zM322.04 592.90H325.21V599.05H322.04zM352.27 592.90H355.44V599.05H352.27zM358.32 592.90H364.51V599.05H358.32zM367.39 592.90H370.56V599.05H367.39zM373.43 592.90H382.65V599.05H373.43zM388.55 592.90H394.75V599.05H388.55zM397.62 592.90H403.82V599.05H397.62zM409.71 592.90H415.91V599.05H409.71zM421.81 592.90H434.05V599.05H421.81zM436.93 592.90H443.12V599.05H436.93zM446.00 592.90H452.19V599.05H446.00zM455.07 592.90H461.26V599.05H455.07zM464.14 592.90H467.31V599.05H464.14zM470.18 592.90H479.40V599.05H470.18zM261.57 598.90H264.74V605.05H261.57zM267.61 598.90H276.84V605.05H267.61zM279.71 598.90H285.91V605.05H279.71zM291.80 598.90H301.02V605.05H291.80zM303.90 598.90H307.07V605.05H303.90zM309.94 598.90H316.14V605.05H309.94zM319.01 598.90H322.19V605.05H319.01zM325.06 598.90H328.23V605.05H325.06zM343.20 598.90H349.40V605.05H343.20zM352.27 598.90H355.44V605.05H352.27zM358.32 598.90H361.49V605.05H358.32zM364.36 598.90H373.58V605.05H364.36zM376.46 598.90H382.65V605.05H376.46zM388.55 598.90H394.75V605.05H388.55zM397.62 598.90H409.86V605.05H397.62zM412.74 598.90H421.96V605.05H412.74zM427.86 598.90H437.08V605.05H427.86zM439.95 598.90H446.15V605.05H439.95zM449.02 598.90H452.19V605.05H449.02zM455.07 598.90H464.29V605.05H455.07zM467.16 598.90H476.38V605.05H467.16z" fill="#063406" shape-rendering="crispEdges"/>
<path d="M101.33 484.90H107.52V491.05H101.33zM131.56 484.90H134.74V491.05H131.56zM249.47 484.90H252.65V491.05H249.47zM267.61 484.90H270.79V491.05H267.61zM279.71 484.90H282.88V491.05H279.71zM300.87 484.90H304.05V491.05H300.87zM306.92 484.90H310.09V491.05H306.92zM340.18 484.90H343.35V491.05H340.18zM352.27 484.90H355.44V491.05H352.27zM358.32 484.90H361.49V491.05H358.32zM364.36 484.90H370.56V491.05H364.36zM394.60 484.90H400.79V491.05H394.60zM403.67 484.90H406.84V491.05H403.67zM409.71 484.90H412.89V491.05H409.71zM415.76 484.90H418.94V491.05H415.76zM421.81 484.90H428.01V491.05H421.81zM430.88 484.90H440.10V491.05H430.88zM442.97 484.90H449.17V491.05H442.97zM455.07 484.90H458.24V491.05H455.07zM467.16 484.90H470.33V491.05H467.16zM473.21 484.90H479.40V491.05H473.21zM482.28 484.90H485.45V491.05H482.28zM101.33 490.90H107.52V497.05H101.33zM131.56 490.90H134.74V497.05H131.56zM249.47 490.90H252.65V497.05H249.47zM267.61 490.90H270.79V497.05H267.61zM279.71 490.90H282.88V497.05H279.71zM352.27 490.90H355.44V497.05H352.27zM358.32 490.90H361.49V497.05H358.32zM364.36 490.90H370.56V497.05H364.36zM397.62 490.90H400.79V497.05H397.62zM403.67 490.90H406.84V497.05H403.67zM409.71 490.90H412.89V497.05H409.71zM415.76 490.90H418.94V497.05H415.76zM421.81 490.90H428.01V497.05H421.81zM430.88 490.90H440.10V497.05H430.88zM442.97 490.90H449.17V497.05H442.97zM455.07 490.90H458.24V497.05H455.07zM467.16 490.90H470.33V497.05H467.16zM473.21 490.90H479.40V497.05H473.21zM482.28 490.90H485.45V497.05H482.28zM246.45 496.90H249.62V503.05H246.45zM279.71 496.90H282.88V503.05H279.71zM288.78 496.90H291.95V503.05H288.78zM334.13 496.90H337.30V503.05H334.13zM340.18 496.90H343.35V503.05H340.18zM346.22 496.90H355.44V503.05H346.22zM361.34 496.90H373.58V503.05H361.34zM379.48 496.90H382.65V503.05H379.48zM388.55 496.90H397.77V503.05H388.55zM400.64 496.90H412.89V503.05H400.64zM415.76 496.90H428.01V503.05H415.76zM430.88 496.90H467.31V503.05H430.88zM470.18 496.90H485.45V503.05H470.18zM74.12 502.90H77.29V509.05H74.12zM276.69 502.90H279.86V509.05H276.69zM315.99 502.90H319.16V509.05H315.99zM331.11 502.90H334.28V509.05H331.11zM349.25 502.90H352.42V509.05H349.25zM355.29 502.90H358.47V509.05H355.29zM361.34 502.90H373.58V509.05H361.34zM385.53 502.90H388.70V509.05H385.53zM394.60 502.90H397.77V509.05H394.60zM400.64 502.90H403.82V509.05H400.64zM406.69 502.90H409.86V509.05H406.69zM412.74 502.90H418.94V509.05H412.74zM433.90 502.90H437.08V509.05H433.90zM442.97 502.90H449.17V509.05H442.97zM455.07 502.90H458.24V509.05H455.07zM464.14 502.90H470.33V509.05H464.14zM473.21 502.90H479.40V509.05H473.21zM86.21 508.90H89.38V515.05H86.21zM237.38 508.90H240.55V515.05H237.38zM276.69 508.90H279.86V515.05H276.69zM294.83 508.90H301.02V515.05H294.83zM303.90 508.90H307.07V515.05H303.90zM309.94 508.90H313.12V515.05H309.94zM328.08 508.90H334.28V515.05H328.08zM337.15 508.90H340.33V515.05H337.15zM343.20 508.90H349.40V515.05H343.20zM352.27 508.90H355.44V515.05H352.27zM358.32 508.90H367.54V515.05H358.32zM370.41 508.90H373.58V515.05H370.41zM376.46 508.90H379.63V515.05H376.46zM382.50 508.90H385.68V515.05H382.50zM388.55 508.90H391.72V515.05H388.55zM394.60 508.90H400.79V515.05H394.60zM403.67 508.90H412.89V515.05H403.67zM415.76 508.90H421.96V515.05H415.76zM424.83 508.90H428.01V515.05H424.83zM430.88 508.90H434.05V515.05H430.88zM436.93 508.90H440.10V515.05H436.93zM442.97 508.90H446.15V515.05H442.97zM449.02 508.90H452.19V515.05H449.02zM455.07 508.90H458.24V515.05H455.07zM461.11 508.90H470.33V515.05H461.11zM473.21 508.90H479.40V515.05H473.21zM482.28 508.90H485.45V515.05H482.28zM89.23 514.90H92.41V521.05H89.23zM182.96 514.90H186.13V521.05H182.96zM234.36 514.90H237.53V521.05H234.36zM282.73 514.90H285.91V521.05H282.73zM288.78 514.90H298.00V521.05H288.78zM300.87 514.90H304.05V521.05H300.87zM319.01 514.90H331.26V521.05H319.01zM337.15 514.90H340.33V521.05H337.15zM343.20 514.90H346.37V521.05H343.20zM355.29 514.90H361.49V521.05H355.29zM364.36 514.90H370.56V521.05H364.36zM382.50 514.90H385.68V521.05H382.50zM388.55 514.90H394.75V521.05H388.55zM400.64 514.90H403.82V521.05H400.64zM406.69 514.90H412.89V521.05H406.69zM415.76 514.90H421.96V521.05H415.76zM424.83 514.90H431.03V521.05H424.83zM436.93 514.90H440.10V521.05H436.93zM442.97 514.90H464.29V521.05H442.97zM476.23 514.90H479.40V521.05H476.23zM182.96 520.90H186.13V527.05H182.96zM282.73 520.90H285.91V527.05H282.73zM319.01 520.90H322.19V527.05H319.01zM328.08 520.90H331.26V527.05H328.08zM343.20 520.90H346.37V527.05H343.20zM349.25 520.90H352.42V527.05H349.25zM355.29 520.90H358.47V527.05H355.29zM361.34 520.90H364.51V527.05H361.34zM367.39 520.90H370.56V527.05H367.39zM373.43 520.90H376.61V527.05H373.43zM385.53 520.90H391.72V527.05H385.53zM409.71 520.90H412.89V527.05H409.71zM439.95 520.90H443.12V527.05H439.95zM464.14 520.90H467.31V527.05H464.14zM482.28 520.90H485.45V527.05H482.28zM65.05 526.90H68.22V533.05H65.05zM86.21 526.90H89.38V533.05H86.21zM279.71 526.90H282.88V533.05H279.71zM325.06 526.90H331.26V533.05H325.06zM334.13 526.90H343.35V533.05H334.13zM346.22 526.90H349.40V533.05H346.22zM376.46 526.90H385.68V533.05H376.46zM415.76 526.90H421.96V533.05H415.76zM430.88 526.90H434.05V533.05H430.88zM439.95 526.90H443.12V533.05H439.95zM446.00 526.90H449.17V533.05H446.00zM452.04 526.90H458.24V533.05H452.04zM461.11 526.90H470.33V533.05H461.11zM476.23 526.90H482.43V533.05H476.23zM80.16 532.90H83.34V539.05H80.16zM110.40 532.90H113.57V539.05H110.40zM152.73 532.90H155.90V539.05H152.73zM158.77 532.90H161.95V539.05H158.77zM167.84 532.90H171.02V539.05H167.84zM189.01 532.90H192.18V539.05H189.01zM201.10 532.90H204.27V539.05H201.10zM394.60 532.90H397.77V539.05H394.60zM461.11 532.90H467.31V539.05H461.11zM470.18 532.90H476.38V539.05H470.18zM59.00 538.90H62.17V545.05H59.00zM110.40 538.90H113.57V545.05H110.40zM119.47 538.90H122.64V545.05H119.47zM158.77 538.90H161.95V545.05H158.77zM182.96 538.90H186.13V545.05H182.96zM210.17 538.90H213.34V545.05H210.17zM216.22 538.90H219.39V545.05H216.22zM243.43 538.90H246.60V545.05H243.43zM252.50 538.90H255.67V545.05H252.50zM65.05 544.90H68.22V551.05H65.05zM71.09 544.90H74.27V551.05H71.09zM80.16 544.90H83.34V551.05H80.16zM95.28 544.90H98.45V551.05H95.28zM104.35 544.90H110.55V551.05H104.35zM116.44 544.90H119.62V551.05H116.44zM155.75 544.90H158.92V551.05H155.75zM161.80 544.90H164.97V551.05H161.80zM246.45 544.90H249.62V551.05H246.45zM252.50 544.90H261.72V551.05H252.50zM403.67 544.90H406.84V551.05H403.67zM98.30 550.90H104.50V557.05H98.30zM140.63 550.90H146.83V557.05H140.63zM149.70 550.90H152.88V557.05H149.70zM255.52 550.90H264.74V557.05H255.52zM285.76 550.90H288.93V557.05H285.76zM406.69 550.90H409.86V557.05H406.69zM71.09 556.90H74.27V563.05H71.09zM110.40 556.90H113.57V563.05H110.40zM122.49 556.90H125.66V563.05H122.49zM143.66 556.90H146.83V563.05H143.66zM152.73 556.90H155.90V563.05H152.73zM167.84 556.90H171.02V563.05H167.84zM176.91 556.90H180.09V563.05H176.91zM219.24 556.90H222.41V563.05H219.24zM261.57 556.90H264.74V563.05H261.57zM282.73 556.90H285.91V563.05H282.73zM303.90 556.90H307.07V563.05H303.90zM427.86 556.90H431.03V563.05H427.86zM59.00 562.90H62.17V569.05H59.00zM71.09 562.90H74.27V569.05H71.09zM77.14 562.90H80.31V569.05H77.14zM143.66 562.90H146.83V569.05H143.66zM149.70 562.90H152.88V569.05H149.70zM258.54 562.90H264.74V569.05H258.54zM267.61 562.90H270.79V569.05H267.61zM285.76 562.90H288.93V569.05H285.76zM65.05 568.90H68.22V575.05H65.05zM80.16 568.90H83.34V575.05H80.16zM98.30 568.90H101.48V575.05H98.30zM110.40 568.90H113.57V575.05H110.40zM128.54 568.90H131.71V575.05H128.54zM134.59 568.90H137.76V575.05H134.59zM143.66 568.90H146.83V575.05H143.66zM161.80 568.90H167.99V575.05H161.80zM273.66 568.90H276.84V575.05H273.66zM83.19 574.90H86.36V581.05H83.19zM89.23 574.90H98.45V581.05H89.23zM104.35 574.90H107.52V581.05H104.35zM116.44 574.90H122.64V581.05H116.44zM179.94 574.90H183.11V581.05H179.94zM334.13 574.90H337.30V581.05H334.13zM59.00 580.90H62.17V587.05H59.00zM74.12 580.90H77.29V587.05H74.12zM80.16 580.90H83.34V587.05H80.16zM113.42 580.90H116.59V587.05H113.42zM134.59 580.90H137.76V587.05H134.59zM328.08 580.90H334.28V587.05H328.08zM340.18 580.90H343.35V587.05H340.18zM373.43 580.90H376.61V587.05H373.43zM379.48 580.90H382.65V587.05H379.48zM77.14 586.90H80.31V593.05H77.14zM95.28 586.90H98.45V593.05H95.28zM107.37 586.90H113.57V593.05H107.37zM119.47 586.90H122.64V593.05H119.47zM149.70 586.90H152.88V593.05H149.70zM161.80 586.90H164.97V593.05H161.80zM179.94 586.90H183.11V593.05H179.94zM285.76 586.90H288.93V593.05H285.76zM294.83 586.90H298.00V593.05H294.83zM328.08 586.90H343.35V593.05H328.08zM59.00 592.90H62.17V599.05H59.00zM74.12 592.90H77.29V599.05H74.12zM89.23 592.90H92.41V599.05H89.23zM95.28 592.90H98.45V599.05H95.28zM101.33 592.90H104.50V599.05H101.33zM140.63 592.90H143.81V599.05H140.63zM146.68 592.90H152.88V599.05H146.68zM161.80 592.90H164.97V599.05H161.80zM173.89 592.90H177.06V599.05H173.89zM334.13 592.90H340.33V599.05H334.13zM62.02 598.90H65.20V605.05H62.02zM89.23 598.90H92.41V605.05H89.23zM101.33 598.90H104.50V605.05H101.33zM276.69 598.90H279.86V605.05H276.69zM306.92 598.90H310.09V605.05H306.92zM334.13 598.90H340.33V605.05H334.13zM361.34 598.90H364.51V605.05H361.34z" fill="#360606" shape-rendering="crispEdges"/>
<path d="M116.44 484.90H119.62V491.05H116.44zM161.80 484.90H164.97V491.05H161.80zM315.99 484.90H319.16V491.05H315.99zM322.04 484.90H325.21V491.05H322.04zM355.29 484.90H358.47V491.05H355.29zM116.44 490.90H119.62V497.05H116.44zM161.80 490.90H164.97V497.05H161.80zM315.99 490.90H319.16V497.05H315.99zM322.04 490.90H325.21V497.05H322.04zM355.29 490.90H358.47V497.05H355.29zM59.00 496.90H62.17V503.05H59.00zM125.51 496.90H128.69V503.05H125.51zM146.68 496.90H149.85V503.05H146.68zM170.87 496.90H174.04V503.05H170.87zM179.94 496.90H183.11V503.05H179.94zM309.94 496.90H316.14V503.05H309.94zM467.16 496.90H470.33V503.05H467.16zM68.07 502.90H71.24V509.05H68.07zM107.37 502.90H110.55V509.05H107.37zM113.42 502.90H119.62V509.05H113.42zM131.56 502.90H134.74V509.05H131.56zM143.66 502.90H146.83V509.05H143.66zM155.75 502.90H158.92V509.05H155.75zM182.96 502.90H189.16V509.05H182.96zM71.09 508.90H77.29V515.05H71.09zM98.30 508.90H101.48V515.05H98.30zM107.37 508.90H110.55V515.05H107.37zM116.44 508.90H119.62V515.05H116.44zM143.66 508.90H146.83V515.05H143.66zM155.75 508.90H161.95V515.05H155.75zM176.91 508.90H180.09V515.05H176.91zM195.05 508.90H198.23V515.05H195.05zM59.00 514.90H62.17V521.05H59.00zM71.09 514.90H74.27V521.05H71.09zM80.16 514.90H86.36V521.05H80.16zM113.42 514.90H116.59V521.05H113.42zM131.56 514.90H134.74V521.05H131.56zM152.73 514.90H155.90V521.05H152.73zM189.01 514.90H192.18V521.05H189.01zM219.24 514.90H222.41V521.05H219.24zM252.50 514.90H255.67V521.05H252.50zM59.00 520.90H65.20V527.05H59.00zM68.07 520.90H71.24V527.05H68.07zM77.14 520.90H80.31V527.05H77.14zM89.23 520.90H92.41V527.05H89.23zM95.28 520.90H98.45V527.05H95.28zM107.37 520.90H113.57V527.05H107.37zM128.54 520.90H131.71V527.05H128.54zM143.66 520.90H146.83V527.05H143.66zM161.80 520.90H164.97V527.05H161.80zM170.87 520.90H174.04V527.05H170.87zM77.14 526.90H80.31V533.05H77.14zM92.26 526.90H95.43V533.05H92.26zM116.44 526.90H122.64V533.05H116.44zM155.75 526.90H158.92V533.05H155.75zM167.84 526.90H171.02V533.05H167.84zM243.43 526.90H246.60V533.05H243.43zM306.92 526.90H310.09V533.05H306.92zM65.05 532.90H68.22V539.05H65.05zM104.35 532.90H107.52V539.05H104.35zM134.59 532.90H137.76V539.05H134.59zM376.46 532.90H379.63V539.05H376.46zM421.81 532.90H424.98V539.05H421.81zM134.59 538.90H137.76V545.05H134.59zM185.98 538.90H189.16V545.05H185.98zM436.93 538.90H440.10V545.05H436.93zM68.07 544.90H71.24V551.05H68.07zM74.12 544.90H77.29V551.05H74.12zM297.85 550.90H301.02V557.05H297.85zM334.13 550.90H337.30V557.05H334.13zM355.29 550.90H358.47V557.05H355.29zM427.86 550.90H431.03V557.05H427.86zM439.95 550.90H443.12V557.05H439.95zM458.09 550.90H461.26V557.05H458.09zM59.00 556.90H62.17V563.05H59.00zM315.99 556.90H319.16V563.05H315.99zM328.08 556.90H331.26V563.05H328.08zM337.15 556.90H340.33V563.05H337.15zM349.25 556.90H352.42V563.05H349.25zM358.32 556.90H361.49V563.05H358.32zM403.67 556.90H406.84V563.05H403.67zM473.21 556.90H476.38V563.05H473.21zM479.25 556.90H482.43V563.05H479.25zM125.51 562.90H128.69V569.05H125.51zM328.08 562.90H331.26V569.05H328.08zM349.25 562.90H352.42V569.05H349.25zM228.31 568.90H231.48V575.05H228.31zM358.32 568.90H361.49V575.05H358.32zM427.86 568.90H431.03V575.05H427.86zM461.11 568.90H464.29V575.05H461.11zM315.99 574.90H319.16V581.05H315.99zM325.06 574.90H328.23V581.05H325.06zM358.32 574.90H361.49V581.05H358.32zM421.81 586.90H424.98V593.05H421.81z" fill="#0a660a" shape-rendering="crispEdges"/>
<path d="M234.36 484.90H237.53V491.05H234.36zM240.40 484.90H243.58V491.05H240.40zM297.85 484.90H301.02V491.05H297.85zM303.90 484.90H307.07V491.05H303.90zM309.94 484.90H313.12V491.05H309.94zM343.20 484.90H352.42V491.05H343.20zM361.34 484.90H364.51V491.05H361.34zM370.41 484.90H379.63V491.05H370.41zM388.55 484.90H394.75V491.05H388.55zM406.69 484.90H409.86V491.05H406.69zM412.74 484.90H415.91V491.05H412.74zM418.79 484.90H421.96V491.05H418.79zM427.86 484.90H431.03V491.05H427.86zM439.95 484.90H443.12V491.05H439.95zM449.02 484.90H452.19V491.05H449.02zM464.14 484.90H467.31V491.05H464.14zM470.18 484.90H473.36V491.05H470.18zM479.25 484.90H482.43V491.05H479.25zM234.36 490.90H237.53V497.05H234.36zM240.40 490.90H243.58V497.05H240.40zM297.85 490.90H301.02V497.05H297.85zM303.90 490.90H307.07V497.05H303.90zM309.94 490.90H313.12V497.05H309.94zM343.20 490.90H352.42V497.05H343.20zM361.34 490.90H364.51V497.05H361.34zM370.41 490.90H379.63V497.05H370.41zM388.55 490.90H394.75V497.05H388.55zM406.69 490.90H409.86V497.05H406.69zM412.74 490.90H415.91V497.05H412.74zM418.79 490.90H421.96V497.05H418.79zM427.86 490.90H431.03V497.05H427.86zM439.95 490.90H443.12V497.05H439.95zM449.02 490.90H452.19V497.05H449.02zM464.14 490.90H467.31V497.05H464.14zM470.18 490.90H473.36V497.05H470.18zM479.25 490.90H482.43V497.05H479.25zM282.73 496.90H285.91V503.05H282.73zM291.80 496.90H294.98V503.05H291.80zM325.06 496.90H328.23V503.05H325.06zM358.32 496.90H361.49V503.05H358.32zM412.74 496.90H415.91V503.05H412.74zM427.86 496.90H431.03V503.05H427.86zM282.73 502.90H285.91V509.05H282.73zM192.03 508.90H195.20V515.05H192.03zM234.36 508.90H237.53V515.05H234.36zM279.71 508.90H282.88V515.05H279.71zM306.92 508.90H310.09V515.05H306.92zM312.97 508.90H316.14V515.05H312.97zM334.13 508.90H337.30V515.05H334.13zM349.25 508.90H352.42V515.05H349.25zM367.39 508.90H370.56V515.05H367.39zM373.43 508.90H376.61V515.05H373.43zM385.53 508.90H388.70V515.05H385.53zM391.57 508.90H394.75V515.05H391.57zM400.64 508.90H403.82V515.05H400.64zM421.81 508.90H424.98V515.05H421.81zM433.90 508.90H437.08V515.05H433.90zM439.95 508.90H443.12V515.05H439.95zM446.00 508.90H449.17V515.05H446.00zM452.04 508.90H455.22V515.05H452.04zM458.09 508.90H461.26V515.05H458.09zM479.25 508.90H482.43V515.05H479.25zM285.76 514.90H288.93V521.05H285.76zM306.92 514.90H310.09V521.05H306.92zM331.11 514.90H334.28V521.05H331.11zM346.22 514.90H349.40V521.05H346.22zM433.90 514.90H437.08V521.05H433.90zM464.14 514.90H467.31V521.05H464.14zM473.21 514.90H476.38V521.05H473.21zM479.25 514.90H482.43V521.05H479.25zM185.98 520.90H189.16V527.05H185.98zM288.78 520.90H291.95V527.05H288.78zM364.36 520.90H367.54V527.05H364.36zM461.11 520.90H464.29V527.05H461.11zM476.23 520.90H482.43V527.05H476.23zM424.83 526.90H428.01V533.05H424.83zM433.90 526.90H437.08V533.05H433.90zM473.21 526.90H476.38V533.05H473.21zM86.21 532.90H92.41V539.05H86.21zM113.42 532.90H116.59V539.05H113.42zM131.56 532.90H134.74V539.05H131.56zM62.02 538.90H65.20V545.05H62.02zM68.07 538.90H71.24V545.05H68.07zM77.14 538.90H83.34V545.05H77.14zM86.21 538.90H89.38V545.05H86.21zM92.26 538.90H95.43V545.05H92.26zM98.30 538.90H101.48V545.05H98.30zM104.35 538.90H107.52V545.05H104.35zM128.54 538.90H131.71V545.05H128.54zM140.63 538.90H143.81V545.05H140.63zM149.70 538.90H158.92V545.05H149.70zM189.01 538.90H192.18V545.05H189.01zM92.26 544.90H95.43V551.05H92.26zM110.40 544.90H113.57V551.05H110.40zM122.49 544.90H125.66V551.05H122.49zM149.70 544.90H152.88V551.05H149.70zM167.84 544.90H171.02V551.05H167.84zM173.89 544.90H180.09V551.05H173.89zM458.09 544.90H461.26V551.05H458.09zM476.23 544.90H479.40V551.05H476.23zM65.05 550.90H68.22V557.05H65.05zM71.09 550.90H74.27V557.05H71.09zM104.35 550.90H107.52V557.05H104.35zM110.40 550.90H113.57V557.05H110.40zM116.44 550.90H122.64V557.05H116.44zM125.51 550.90H128.69V557.05H125.51zM152.73 550.90H155.90V557.05H152.73zM170.87 550.90H174.04V557.05H170.87zM228.31 550.90H231.48V557.05H228.31zM343.20 550.90H346.37V557.05H343.20zM364.36 550.90H367.54V557.05H364.36zM373.43 550.90H376.61V557.05H373.43zM394.60 550.90H397.77V557.05H394.60zM104.35 556.90H110.55V563.05H104.35zM125.51 556.90H128.69V563.05H125.51zM158.77 556.90H161.95V563.05H158.77zM170.87 556.90H174.04V563.05H170.87zM467.16 556.90H470.33V563.05H467.16zM83.19 562.90H86.36V569.05H83.19zM98.30 562.90H101.48V569.05H98.30zM122.49 562.90H125.66V569.05H122.49zM131.56 562.90H134.74V569.05H131.56zM152.73 562.90H155.90V569.05H152.73zM179.94 562.90H183.11V569.05H179.94zM185.98 562.90H189.16V569.05H185.98zM264.59 562.90H267.76V569.05H264.59zM270.64 562.90H273.81V569.05H270.64zM62.02 568.90H65.20V575.05H62.02zM71.09 568.90H77.29V575.05H71.09zM83.19 568.90H86.36V575.05H83.19zM89.23 568.90H92.41V575.05H89.23zM107.37 568.90H110.55V575.05H107.37zM119.47 568.90H122.64V575.05H119.47zM140.63 568.90H143.81V575.05H140.63zM167.84 568.90H171.02V575.05H167.84zM176.91 568.90H180.09V575.05H176.91zM182.96 568.90H186.13V575.05H182.96zM207.15 568.90H210.32V575.05H207.15zM309.94 568.90H313.12V575.05H309.94zM400.64 568.90H403.82V575.05H400.64zM74.12 574.90H77.29V581.05H74.12zM167.84 574.90H171.02V581.05H167.84zM309.94 574.90H313.12V581.05H309.94zM470.18 574.90H473.36V581.05H470.18zM62.02 580.90H65.20V587.05H62.02zM77.14 580.90H80.31V587.05H77.14zM110.40 580.90H113.57V587.05H110.40zM119.47 580.90H122.64V587.05H119.47zM131.56 580.90H134.74V587.05H131.56zM143.66 580.90H146.83V587.05H143.66zM155.75 580.90H158.92V587.05H155.75zM252.50 580.90H255.67V587.05H252.50zM361.34 580.90H364.51V587.05H361.34zM382.50 580.90H385.68V587.05H382.50zM65.05 586.90H68.22V593.05H65.05zM343.20 586.90H346.37V593.05H343.20zM433.90 586.90H437.08V593.05H433.90zM68.07 592.90H71.24V599.05H68.07zM77.14 592.90H80.31V599.05H77.14zM119.47 592.90H122.64V599.05H119.47zM155.75 592.90H158.92V599.05H155.75zM65.05 598.90H68.22V605.05H65.05zM80.16 598.90H83.34V605.05H80.16zM155.75 598.90H158.92V605.05H155.75zM173.89 598.90H177.06V605.05H173.89z" fill="#6a0808" shape-rendering="crispEdges"/>
<path d="M228.31 502.90H231.48V509.05H228.31zM297.85 502.90H301.02V509.05H297.85zM340.18 502.90H343.35V509.05H340.18zM346.22 502.90H349.40V509.05H346.22zM358.32 502.90H361.49V509.05H358.32zM373.43 502.90H376.61V509.05H373.43zM388.55 502.90H391.72V509.05H388.55zM397.62 502.90H400.79V509.05H397.62zM403.67 502.90H406.84V509.05H403.67zM418.79 502.90H424.98V509.05H418.79zM427.86 502.90H431.03V509.05H427.86zM436.93 502.90H443.12V509.05H436.93zM449.02 502.90H452.19V509.05H449.02zM458.09 502.90H461.26V509.05H458.09zM479.25 502.90H482.43V509.05H479.25zM291.80 508.90H294.98V515.05H291.80zM340.18 514.90H343.35V521.05H340.18zM352.27 514.90H355.44V521.05H352.27zM361.34 514.90H364.51V521.05H361.34zM370.41 514.90H373.58V521.05H370.41zM376.46 514.90H382.65V521.05H376.46zM385.53 514.90H388.70V521.05H385.53zM246.45 520.90H249.62V527.05H246.45zM322.04 520.90H328.23V527.05H322.04zM331.11 520.90H340.33V527.05H331.11zM376.46 520.90H385.68V527.05H376.46zM418.79 520.90H428.01V527.05H418.79zM436.93 520.90H440.10V527.05H436.93zM449.02 520.90H458.24V527.05H449.02zM467.16 520.90H473.36V527.05H467.16zM412.74 526.90H415.91V533.05H412.74zM216.22 532.90H225.44V539.05H216.22zM282.73 532.90H285.91V539.05H282.73zM204.12 538.90H207.30V545.05H204.12zM204.12 544.90H207.30V551.05H204.12zM418.79 544.90H421.96V551.05H418.79zM80.16 550.90H83.34V557.05H80.16zM86.21 550.90H95.43V557.05H86.21zM134.59 550.90H137.76V557.05H134.59zM164.82 550.90H171.02V557.05H164.82zM222.26 550.90H225.44V557.05H222.26zM92.26 556.90H95.43V563.05H92.26zM113.42 556.90H116.59V563.05H113.42zM173.89 556.90H177.06V563.05H173.89zM179.94 556.90H189.16V563.05H179.94zM255.52 556.90H261.72V563.05H255.52zM264.59 556.90H267.76V563.05H264.59zM288.78 556.90H291.95V563.05H288.78zM309.94 556.90H313.12V563.05H309.94zM322.04 556.90H325.21V563.05H322.04zM352.27 556.90H355.44V563.05H352.27zM62.02 562.90H68.22V569.05H62.02zM146.68 562.90H149.85V569.05H146.68zM182.96 562.90H186.13V569.05H182.96zM192.03 562.90H201.25V569.05H192.03zM240.40 562.90H243.58V569.05H240.40zM246.45 562.90H249.62V569.05H246.45zM131.56 574.90H134.74V581.05H131.56zM143.66 574.90H149.85V581.05H143.66zM337.15 574.90H340.33V581.05H337.15zM367.39 574.90H370.56V581.05H367.39zM379.48 574.90H382.65V581.05H379.48zM86.21 580.90H89.38V587.05H86.21zM92.26 580.90H95.43V587.05H92.26zM101.33 580.90H104.50V587.05H101.33zM137.61 580.90H143.81V587.05H137.61zM170.87 580.90H174.04V587.05H170.87zM334.13 580.90H340.33V587.05H334.13zM86.21 586.90H89.38V593.05H86.21zM140.63 586.90H143.81V593.05H140.63zM173.89 586.90H177.06V593.05H173.89zM361.34 586.90H364.51V593.05H361.34zM83.19 598.90H86.36V605.05H83.19zM110.40 598.90H113.57V605.05H110.40zM134.59 598.90H137.76V605.05H134.59zM207.15 598.90H210.32V605.05H207.15zM219.24 598.90H222.41V605.05H219.24zM446.00 598.90H449.17V605.05H446.00z" fill="#ec1616" shape-rendering="crispEdges"/>
<path d="M267.61 502.90H270.79V509.05H267.61zM306.92 502.90H310.09V509.05H306.92zM334.13 502.90H337.30V509.05H334.13zM352.27 502.90H355.44V509.05H352.27zM382.50 502.90H385.68V509.05H382.50zM391.57 502.90H394.75V509.05H391.57zM409.71 502.90H412.89V509.05H409.71zM424.83 502.90H428.01V509.05H424.83zM430.88 502.90H434.05V509.05H430.88zM452.04 502.90H455.22V509.05H452.04zM461.11 502.90H464.29V509.05H461.11zM470.18 502.90H473.36V509.05H470.18zM482.28 502.90H485.45V509.05H482.28zM273.66 508.90H276.84V515.05H273.66zM300.87 508.90H304.05V515.05H300.87zM355.29 508.90H358.47V515.05H355.29zM379.48 508.90H382.65V515.05H379.48zM412.74 508.90H415.91V515.05H412.74zM427.86 508.90H431.03V515.05H427.86zM470.18 508.90H473.36V515.05H470.18zM255.52 514.90H264.74V521.05H255.52zM297.85 514.90H301.02V521.05H297.85zM334.13 514.90H337.30V521.05H334.13zM373.43 514.90H376.61V521.05H373.43zM394.60 514.90H397.77V521.05H394.60zM412.74 514.90H415.91V521.05H412.74zM421.81 514.90H424.98V521.05H421.81zM430.88 514.90H434.05V521.05H430.88zM439.95 514.90H443.12V521.05H439.95zM467.16 514.90H473.36V521.05H467.16zM482.28 514.90H485.45V521.05H482.28zM252.50 520.90H255.67V527.05H252.50zM340.18 520.90H343.35V527.05H340.18zM352.27 520.90H355.44V527.05H352.27zM358.32 520.90H361.49V527.05H358.32zM394.60 520.90H397.77V527.05H394.60zM406.69 520.90H409.86V527.05H406.69zM412.74 520.90H415.91V527.05H412.74zM427.86 520.90H431.03V527.05H427.86zM433.90 520.90H437.08V527.05H433.90zM446.00 520.90H449.17V527.05H446.00zM458.09 520.90H461.26V527.05H458.09zM473.21 520.90H476.38V527.05H473.21zM331.11 526.90H334.28V533.05H331.11zM358.32 526.90H361.49V533.05H358.32zM421.81 526.90H424.98V533.05H421.81zM427.86 526.90H431.03V533.05H427.86zM449.02 526.90H452.19V533.05H449.02zM458.09 526.90H461.26V533.05H458.09zM470.18 526.90H473.36V533.05H470.18zM140.63 532.90H143.81V539.05H140.63zM161.80 532.90H167.99V539.05H161.80zM240.40 532.90H243.58V539.05H240.40zM458.09 532.90H461.26V539.05H458.09zM89.23 538.90H92.41V545.05H89.23zM113.42 538.90H116.59V545.05H113.42zM137.61 538.90H140.78V545.05H137.61zM161.80 538.90H167.99V545.05H161.80zM173.89 538.90H180.09V545.05H173.89zM195.05 538.90H198.23V545.05H195.05zM234.36 538.90H237.53V545.05H234.36zM249.47 538.90H252.65V545.05H249.47zM322.04 538.90H325.21V545.05H322.04zM476.23 538.90H479.40V545.05H476.23zM62.02 544.90H65.20V551.05H62.02zM83.19 544.90H86.36V551.05H83.19zM89.23 544.90H92.41V551.05H89.23zM119.47 544.90H122.64V551.05H119.47zM134.59 544.90H137.76V551.05H134.59zM146.68 544.90H149.85V551.05H146.68zM158.77 544.90H161.95V551.05H158.77zM164.82 544.90H167.99V551.05H164.82zM195.05 544.90H201.25V551.05H195.05zM216.22 544.90H222.41V551.05H216.22zM228.31 544.90H234.51V551.05H228.31zM249.47 544.90H252.65V551.05H249.47zM264.59 544.90H267.76V551.05H264.59zM315.99 544.90H319.16V551.05H315.99zM62.02 550.90H65.20V557.05H62.02zM68.07 550.90H71.24V557.05H68.07zM74.12 550.90H77.29V557.05H74.12zM107.37 550.90H110.55V557.05H107.37zM113.42 550.90H116.59V557.05H113.42zM122.49 550.90H125.66V557.05H122.49zM131.56 550.90H134.74V557.05H131.56zM158.77 550.90H164.97V557.05H158.77zM173.89 550.90H177.06V557.05H173.89zM189.01 550.90H192.18V557.05H189.01zM201.10 550.90H207.30V557.05H201.10zM216.22 550.90H219.39V557.05H216.22zM231.33 550.90H234.51V557.05H231.33zM243.43 550.90H246.60V557.05H243.43zM252.50 550.90H255.67V557.05H252.50zM279.71 550.90H282.88V557.05H279.71zM291.80 550.90H294.98V557.05H291.80zM83.19 556.90H86.36V563.05H83.19zM89.23 556.90H92.41V563.05H89.23zM101.33 556.90H104.50V563.05H101.33zM116.44 556.90H122.64V563.05H116.44zM149.70 556.90H152.88V563.05H149.70zM201.10 556.90H204.27V563.05H201.10zM210.17 556.90H213.34V563.05H210.17zM222.26 556.90H225.44V563.05H222.26zM231.33 556.90H234.51V563.05H231.33zM246.45 556.90H249.62V563.05H246.45zM291.80 556.90H294.98V563.05H291.80zM137.61 562.90H140.78V569.05H137.61zM155.75 562.90H158.92V569.05H155.75zM167.84 562.90H171.02V569.05H167.84zM207.15 562.90H210.32V569.05H207.15zM219.24 562.90H222.41V569.05H219.24zM237.38 562.90H240.55V569.05H237.38zM288.78 562.90H291.95V569.05H288.78zM400.64 562.90H403.82V569.05H400.64zM86.21 568.90H89.38V575.05H86.21zM122.49 568.90H125.66V575.05H122.49zM149.70 568.90H152.88V575.05H149.70zM179.94 568.90H183.11V575.05H179.94zM189.01 568.90H192.18V575.05H189.01zM246.45 568.90H249.62V575.05H246.45zM258.54 568.90H261.72V575.05H258.54zM65.05 574.90H71.24V581.05H65.05zM77.14 574.90H80.31V581.05H77.14zM86.21 574.90H89.38V581.05H86.21zM107.37 574.90H110.55V581.05H107.37zM122.49 574.90H125.66V581.05H122.49zM185.98 574.90H189.16V581.05H185.98zM213.19 574.90H219.39V581.05H213.19zM240.40 574.90H243.58V581.05H240.40zM282.73 574.90H285.91V581.05H282.73zM331.11 574.90H334.28V581.05H331.11zM427.86 574.90H431.03V581.05H427.86zM439.95 574.90H443.12V581.05H439.95zM452.04 574.90H455.22V581.05H452.04zM65.05 580.90H68.22V587.05H65.05zM107.37 580.90H110.55V587.05H107.37zM125.51 580.90H128.69V587.05H125.51zM161.80 580.90H164.97V587.05H161.80zM167.84 580.90H171.02V587.05H167.84zM173.89 580.90H183.11V587.05H173.89zM185.98 580.90H189.16V587.05H185.98zM192.03 580.90H195.20V587.05H192.03zM201.10 580.90H204.27V587.05H201.10zM213.19 580.90H216.37V587.05H213.19zM243.43 580.90H246.60V587.05H243.43zM279.71 580.90H282.88V587.05H279.71zM291.80 580.90H294.98V587.05H291.80zM319.01 580.90H322.19V587.05H319.01zM367.39 580.90H370.56V587.05H367.39zM62.02 586.90H65.20V593.05H62.02zM68.07 586.90H71.24V593.05H68.07zM74.12 586.90H77.29V593.05H74.12zM83.19 586.90H86.36V593.05H83.19zM89.23 586.90H92.41V593.05H89.23zM104.35 586.90H107.52V593.05H104.35zM113.42 586.90H116.59V593.05H113.42zM122.49 586.90H125.66V593.05H122.49zM131.56 586.90H134.74V593.05H131.56zM137.61 586.90H140.78V593.05H137.61zM152.73 586.90H155.90V593.05H152.73zM170.87 586.90H174.04V593.05H170.87zM176.91 586.90H180.09V593.05H176.91zM182.96 586.90H186.13V593.05H182.96zM201.10 586.90H204.27V593.05H201.10zM225.29 586.90H228.46V593.05H225.29zM237.38 586.90H243.58V593.05H237.38zM249.47 586.90H252.65V593.05H249.47zM288.78 586.90H291.95V593.05H288.78zM300.87 586.90H304.05V593.05H300.87zM325.06 586.90H328.23V593.05H325.06zM352.27 586.90H355.44V593.05H352.27zM385.53 586.90H388.70V593.05H385.53zM65.05 592.90H68.22V599.05H65.05zM83.19 592.90H89.38V599.05H83.19zM104.35 592.90H107.52V599.05H104.35zM113.42 592.90H119.62V599.05H113.42zM125.51 592.90H128.69V599.05H125.51zM131.56 592.90H134.74V599.05H131.56zM164.82 592.90H167.99V599.05H164.82zM204.12 592.90H207.30V599.05H204.12zM225.29 592.90H228.46V599.05H225.29zM331.11 592.90H334.28V599.05H331.11zM340.18 592.90H343.35V599.05H340.18zM68.07 598.90H71.24V605.05H68.07zM77.14 598.90H80.31V605.05H77.14zM107.37 598.90H110.55V605.05H107.37zM113.42 598.90H119.62V605.05H113.42zM128.54 598.90H131.71V605.05H128.54zM179.94 598.90H183.11V605.05H179.94zM185.98 598.90H189.16V605.05H185.98zM195.05 598.90H201.25V605.05H195.05zM231.33 598.90H234.51V605.05H231.33zM258.54 598.90H261.72V605.05H258.54z" fill="#aa0e0e" shape-rendering="crispEdges"/>
</g>
<line x1="210" y1="485.5" x2="210" y2="605" stroke="#c8c890" stroke-width="0.6" opacity="0.6"/>
<line x1="321" y1="485.5" x2="321" y2="605" stroke="#c8c890" stroke-width="0.6" opacity="0.6"/>
<line x1="45" y1="547.5" x2="485" y2="547.5" stroke="#d8d890" stroke-width="0.6" opacity="0.6"/>
<text x="487.4" y="488.5" font-size="6.0" fill="#000" stroke="#000" stroke-width="0.15">SORL1</text>
<text x="487.4" y="494.58" font-size="6.0" fill="#000" stroke="#000" stroke-width="0.15">SORL1</text>
<text x="487.4" y="500.66" font-size="6.0" fill="#000" stroke="#000" stroke-width="0.15">CXorf57</text>
<text x="487.4" y="506.74" font-size="6.0" fill="#000" stroke="#000" stroke-width="0.15">LANCL1</text>
<text x="487.4" y="512.82" font-size="6.0" fill="#000" stroke="#000" stroke-width="0.15">KIAA0746</text>
<text x="487.4" y="518.9" font-size="6.0" fill="#000" stroke="#000" stroke-width="0.15">KCNK12</text>
<text x="487.4" y="524.98" font-size="6.0" fill="#000" stroke="#000" stroke-width="0.15">SOX9</text>
<text x="487.4" y="531.06" font-size="6.0" fill="#000" stroke="#000" stroke-width="0.15">SOX9</text>
<text x="487.4" y="537.14" font-size="6.0" fill="#000" stroke="#000" stroke-width="0.15">GALNS</text>
<text x="487.4" y="543.22" font-size="6.0" fill="#000" stroke="#000" stroke-width="0.15">IKZF1</text>
<text x="487.4" y="549.3" font-size="6.0" fill="#000" stroke="#000" stroke-width="0.15">IKZF1</text>
<text x="487.4" y="555.38" font-size="6.0" fill="#000" stroke="#000" stroke-width="0.15">ARHGAP17</text>
<text x="487.4" y="561.46" font-size="6.0" fill="#000" stroke="#000" stroke-width="0.15">FGD2</text>
<text x="487.4" y="567.54" font-size="6.0" fill="#000" stroke="#000" stroke-width="0.15">PAK1</text>
<text x="487.4" y="573.62" font-size="6.0" fill="#000" stroke="#000" stroke-width="0.15">PAK1</text>
<text x="487.4" y="579.7" font-size="6.0" fill="#000" stroke="#000" stroke-width="0.15">LYAR</text>
<text x="487.4" y="585.78" font-size="6.0" fill="#000" stroke="#000" stroke-width="0.15">PMM2</text>
<text x="487.4" y="591.86" font-size="6.0" fill="#000" stroke="#000" stroke-width="0.15">JDP2</text>
<text x="487.4" y="597.94" font-size="6.0" fill="#000" stroke="#000" stroke-width="0.15">IL12A</text>
<text x="487.4" y="604.02" font-size="6.0" fill="#000" stroke="#000" stroke-width="0.15">ASPHD2</text>
<rect x="16.20" y="510.00" width="9.10" height="6.82" fill="#ff0000"/>
<rect x="16.20" y="516.52" width="9.10" height="6.82" fill="#c60000"/>
<rect x="16.20" y="523.03" width="9.10" height="6.82" fill="#910000"/>
<rect x="16.20" y="529.55" width="9.10" height="6.82" fill="#610000"/>
<rect x="16.20" y="536.06" width="9.10" height="6.82" fill="#370000"/>
<rect x="16.20" y="542.58" width="9.10" height="6.82" fill="#150000"/>
<rect x="16.20" y="549.09" width="9.10" height="6.82" fill="#000000"/>
<rect x="16.20" y="555.61" width="9.10" height="6.82" fill="#001500"/>
<rect x="16.20" y="562.12" width="9.10" height="6.82" fill="#003700"/>
<rect x="16.20" y="568.64" width="9.10" height="6.82" fill="#006100"/>
<rect x="16.20" y="575.15" width="9.10" height="6.82" fill="#009100"/>
<rect x="16.20" y="581.67" width="9.10" height="6.82" fill="#00c600"/>
<rect x="16.20" y="588.18" width="9.10" height="6.82" fill="#00ff00"/>
<text x="9.6" y="592.0" font-size="10" fill="#000" transform="rotate(-90 9.6 592.0)">relative methylation</text>
<text x="41.8" y="529.2" font-size="9.2" fill="#000" transform="rotate(-90 41.8 529.2)">Low</text>
<text x="41.8" y="593.2" font-size="9.2" fill="#000" transform="rotate(-90 41.8 593.2)">High</text>
<rect x="59.00" y="606.60" width="150.00" height="6.00" fill="#1a9c9c"/>
<rect x="210.60" y="606.60" width="109.40" height="6.00" fill="#8c8c8c"/>
<rect x="322.30" y="606.60" width="163.00" height="6.00" fill="#9ccc1c"/>
<text x="137.4" y="627.2" font-size="14.9" fill="#1e9a9a">ABC</text>
<text x="217.2" y="627.2" font-size="15.2" fill="#8a8a8a">Unclassifiable</text>
<text x="406.6" y="627.2" font-size="15.2" fill="#a0c828">GCB</text>
</g>
</svg>
</body></html>
